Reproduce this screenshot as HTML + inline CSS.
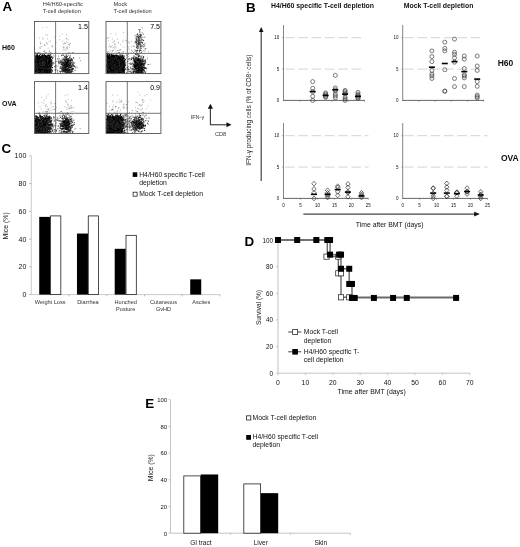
<!DOCTYPE html>
<html lang="en">
<head>
<meta charset="utf-8">
<title>Figure</title>
<style>
html,body{margin:0;padding:0;background:#fff;}
body{width:520px;height:547px;overflow:hidden;}
svg{display:block;font-family:"Liberation Sans",Arial,Helvetica,sans-serif;}
</style>
</head>
<body>
<svg width="520" height="547" viewBox="0 0 520 547">
<rect x="0" y="0" width="520" height="547" fill="#fff"/>
<text x="2.6" y="10.8" font-size="13.4" text-anchor="start" font-weight="bold" fill="#000">A</text>
<text x="42.7" y="5.7" font-size="5.7" text-anchor="start" fill="#333">H4/H60-specific</text>
<text x="42.7" y="12.9" font-size="5.7" text-anchor="start" fill="#333">T-cell depletion</text>
<text x="113.5" y="5.7" font-size="5.7" text-anchor="start" fill="#333">Mock</text>
<text x="113.5" y="12.9" font-size="5.7" text-anchor="start" fill="#333">T-cell depletion</text>
<text x="2" y="49.6" font-size="7" text-anchor="start" font-weight="bold" fill="#111">H60</text>
<text x="2" y="106" font-size="7" text-anchor="start" font-weight="bold" fill="#111">OVA</text>
<g transform="scale(0.1)" fill="none" stroke-linecap="square">
<path stroke="#000" stroke-width="11" d="M405 592h0M425 655h0M361 582h0M479 678h0M481 726h0M358 582h0M355 617h0M428 650h0M362 684h0M405 657h0M397 589h0M410 686h0M396 636h0M470 583h0M450 699h0M388 649h0M431 622h0M465 683h0M503 622h0M462 596h0M382 595h0M365 594h0M391 697h0M477 639h0M489 593h0M382 679h0M398 628h0M450 648h0M439 715h0M481 617h0M420 586h0M357 630h0M360 582h0M425 674h0M368 638h0M386 614h0M425 626h0M389 563h0M486 657h0M365 707h0M381 702h0M430 593h0M494 701h0M471 645h0M403 613h0M375 613h0M520 625h0M380 608h0M460 634h0M448 673h0M490 627h0M375 691h0M486 718h0M376 725h0M484 719h0M393 566h0M487 713h0M428 585h0M382 674h0M380 724h0M385 724h0M423 649h0M439 598h0M365 639h0M425 673h0M479 617h0M390 647h0M474 663h0M405 641h0M399 688h0M490 657h0M495 580h0M422 581h0M454 566h0M452 710h0M501 662h0M443 591h0M401 597h0M394 657h0M424 673h0M456 713h0M503 578h0M465 643h0M490 582h0M471 572h0M369 566h0M445 707h0M364 613h0M439 583h0M427 598h0M356 627h0M459 609h0M408 569h0M451 644h0M507 653h0M428 641h0M463 706h0M447 615h0M357 695h0M387 713h0M475 598h0M384 643h0M417 651h0M393 624h0M358 660h0M433 581h0M409 618h0M368 686h0M442 608h0M402 688h0M467 724h0M440 567h0M403 702h0M451 669h0M453 591h0M419 674h0M430 636h0M363 632h0M465 616h0M355 619h0M474 628h0M411 652h0M451 612h0M455 582h0M365 701h0M377 643h0M370 727h0M503 707h0M486 604h0M495 605h0M432 703h0M438 592h0M481 566h0M412 592h0M389 586h0M465 718h0M464 623h0M422 627h0M411 586h0M468 635h0M378 628h0M510 658h0M501 683h0M364 681h0M416 595h0M413 700h0M495 634h0M426 597h0M389 595h0M499 589h0M384 587h0M381 717h0M396 637h0M406 727h0M407 585h0M387 653h0M507 549h0M363 621h0M367 723h0M496 597h0M414 662h0M447 646h0M364 714h0M398 680h0M457 658h0M429 673h0M364 715h0M420 718h0M407 682h0M409 725h0M357 692h0M468 586h0M487 625h0M380 718h0M425 644h0M455 630h0M385 573h0M365 714h0M486 717h0M359 619h0M381 625h0M515 622h0M410 619h0M357 724h0M404 633h0M471 568h0M363 688h0M479 719h0M383 602h0M369 647h0M369 723h0M371 726h0M468 675h0M434 636h0M473 698h0M386 661h0M420 725h0M370 694h0M416 683h0M449 655h0M369 654h0M402 599h0M397 684h0M366 675h0M387 718h0M368 712h0M369 603h0M446 708h0M413 727h0M431 622h0M370 676h0M447 623h0M454 609h0M464 581h0M390 575h0M366 602h0M403 659h0M380 723h0M374 558h0M465 645h0M475 569h0M414 560h0M432 600h0M362 580h0M432 569h0M395 636h0M364 714h0M444 693h0M360 720h0M376 665h0M411 695h0M499 698h0M363 662h0M438 676h0M404 629h0M366 596h0M459 648h0M370 590h0M410 674h0M356 632h0M357 727h0M497 704h0M389 727h0M498 728h0M400 711h0M390 645h0M490 661h0M402 594h0M479 571h0M478 684h0M411 653h0M512 696h0M409 725h0M421 656h0M372 701h0M362 639h0M448 571h0M359 644h0M490 683h0M360 583h0M403 681h0M367 578h0M490 588h0M458 619h0M403 662h0M391 715h0M459 598h0M420 580h0M481 727h0M372 667h0M447 611h0M416 706h0M479 693h0M416 590h0M362 626h0M453 665h0M374 696h0M424 725h0M491 606h0M479 614h0M477 728h0M437 716h0M428 696h0M410 602h0M374 717h0M373 725h0M400 574h0M440 677h0M367 699h0M505 714h0M363 577h0M483 690h0M442 587h0M465 648h0M360 697h0M409 707h0M453 642h0M454 672h0M382 701h0M379 695h0M511 649h0M474 637h0M472 642h0M374 570h0M462 694h0M459 626h0M410 714h0M362 728h0M410 638h0M428 655h0M396 715h0M447 633h0M459 641h0M483 624h0M458 586h0M377 605h0M408 720h0M366 629h0M503 621h0M372 596h0M417 703h0M436 644h0M357 684h0M472 700h0M413 717h0M464 660h0M409 597h0M414 654h0M372 677h0M396 572h0M449 637h0M511 596h0M480 577h0M416 648h0M451 622h0M496 650h0M488 650h0M361 579h0M407 600h0M378 627h0M383 590h0M369 652h0M410 727h0M385 688h0M413 601h0M460 629h0M403 609h0M359 597h0M404 685h0M422 565h0M491 577h0M472 565h0M487 575h0M369 645h0M386 582h0M467 666h0M489 576h0M433 636h0M473 602h0M362 645h0M367 658h0M364 650h0M466 727h0M442 667h0M461 728h0M399 573h0M449 705h0M387 699h0M366 665h0M467 656h0M421 719h0M463 625h0M422 556h0M468 564h0M399 723h0M428 703h0M427 673h0M434 672h0M416 590h0M355 651h0M411 642h0M381 631h0M394 553h0M439 705h0M446 561h0M381 717h0M414 678h0M379 568h0M474 602h0M481 690h0M382 566h0M460 667h0M368 630h0M403 563h0M359 561h0M470 669h0M365 652h0M371 664h0M432 705h0M495 600h0M373 703h0M370 687h0M434 723h0M431 688h0M398 637h0M446 549h0M483 640h0M400 665h0M484 664h0M475 725h0M433 588h0M385 622h0M366 585h0M455 639h0M412 594h0M370 651h0M401 572h0M496 677h0M476 637h0M429 716h0M412 694h0M430 698h0M494 603h0M376 662h0M452 728h0M369 579h0M369 722h0M439 600h0M503 571h0M369 716h0M357 657h0M504 696h0M486 657h0M471 615h0M357 607h0M366 686h0M402 609h0M507 570h0M437 725h0M432 709h0M414 598h0M368 575h0M380 615h0M471 655h0M399 728h0M480 639h0M389 635h0M526 581h0M393 687h0M393 703h0M398 708h0M432 725h0M438 703h0M457 585h0M430 601h0M434 644h0M394 643h0M477 630h0M485 557h0M462 614h0M379 583h0M402 653h0M408 687h0M479 679h0M404 710h0M478 656h0M459 607h0M381 710h0M365 609h0M365 645h0M374 559h0M356 613h0M418 724h0M367 584h0M481 717h0M404 715h0M398 650h0M506 679h0M490 714h0M369 635h0M439 657h0M369 722h0M476 700h0M499 614h0M448 719h0M371 726h0M384 602h0M451 607h0M411 585h0M362 626h0M396 717h0M424 592h0M440 673h0M414 611h0M413 578h0M405 653h0M413 650h0M467 718h0M424 645h0M466 717h0M363 690h0M454 636h0M459 626h0M460 561h0M500 666h0M437 633h0M478 618h0M397 620h0M394 616h0M475 629h0M371 670h0M458 635h0M492 574h0M413 572h0M406 698h0M443 653h0M443 674h0M416 649h0M363 670h0M495 637h0M453 655h0M476 716h0M444 699h0M497 635h0M366 665h0M381 684h0M417 572h0M411 673h0M365 687h0M360 611h0M405 655h0M414 700h0M367 659h0M456 561h0M360 677h0M371 725h0M428 642h0M366 719h0M407 566h0M496 710h0M466 721h0M493 700h0M370 671h0M468 634h0M384 659h0M355 631h0M369 597h0M373 580h0M444 692h0M357 609h0M425 574h0M398 717h0M391 600h0M428 623h0M475 601h0M445 610h0M415 694h0M396 605h0M412 714h0M392 656h0M391 576h0M394 694h0M367 713h0M486 607h0M361 609h0M444 701h0M394 579h0M485 553h0M355 624h0M414 677h0M381 674h0M368 632h0M356 596h0M362 560h0M399 615h0M487 679h0M406 591h0M371 720h0M451 650h0M433 644h0M430 693h0M363 589h0M485 596h0M359 609h0M361 588h0M370 724h0M392 613h0M421 678h0M472 683h0M419 562h0M385 582h0M395 659h0M356 639h0M373 717h0M356 628h0M414 661h0M361 664h0M485 600h0M387 712h0M398 725h0M499 725h0M457 713h0M384 639h0M474 665h0M450 703h0M477 592h0M387 680h0M355 591h0M420 583h0M488 621h0M381 625h0M381 713h0M490 649h0M428 586h0M364 728h0M509 666h0M487 676h0M364 634h0M442 727h0M356 658h0M361 655h0M416 580h0M385 575h0M479 661h0M369 605h0M445 675h0M367 643h0M426 565h0M498 701h0M420 688h0M479 591h0M380 668h0M372 656h0M465 644h0M492 687h0M399 688h0M365 728h0M451 711h0M379 600h0M356 672h0M365 610h0M426 648h0M378 672h0M472 623h0M355 702h0M381 616h0M431 652h0M477 618h0M391 563h0M363 674h0M404 665h0M410 728h0M363 603h0M421 671h0M496 661h0M479 658h0M437 708h0M497 610h0M462 659h0M388 571h0M381 679h0M402 633h0M390 644h0M405 590h0M363 699h0M476 688h0M364 723h0M443 587h0M428 603h0M358 694h0M412 728h0M452 719h0M366 601h0M372 728h0M452 617h0M454 671h0M409 577h0M435 679h0M383 724h0M437 670h0M455 596h0M368 699h0M395 656h0M438 685h0M380 678h0M398 610h0M360 583h0M360 700h0M501 600h0M363 654h0M384 586h0M370 566h0M362 724h0M432 662h0M400 687h0M355 703h0M410 719h0M380 649h0M387 694h0M400 662h0M385 592h0M466 613h0M426 677h0M423 721h0M386 691h0M489 724h0M374 588h0M498 598h0M369 618h0M482 708h0M355 704h0M425 596h0M359 715h0M357 639h0M370 685h0M431 657h0M483 715h0M457 618h0M369 639h0M430 684h0M432 679h0M511 620h0M366 647h0M399 728h0M447 665h0M404 593h0M481 548h0M445 674h0M394 693h0M461 725h0M442 675h0M390 678h0M385 592h0M437 672h0M443 601h0M380 648h0M430 586h0M456 711h0M486 628h0M477 586h0M393 709h0M421 634h0M495 634h0M469 674h0M393 627h0M396 601h0M440 690h0M384 716h0M361 582h0M459 565h0M401 630h0M395 608h0M381 585h0M493 668h0M414 639h0M401 695h0M367 637h0M384 644h0M399 678h0M457 683h0M433 565h0M399 593h0M359 559h0M447 561h0M438 716h0M487 662h0M356 609h0M393 684h0M421 619h0M487 587h0M390 634h0M401 629h0M478 686h0M363 649h0M392 636h0M460 628h0M467 583h0M410 710h0M363 718h0M451 681h0M396 612h0M489 587h0M478 674h0M400 581h0M359 705h0M372 656h0M378 703h0M379 600h0M363 615h0M365 643h0M366 717h0M513 609h0M399 710h0M363 670h0M365 725h0M480 598h0M449 724h0M457 645h0M383 692h0M405 588h0M434 628h0M356 675h0M428 688h0M384 647h0M485 581h0M364 646h0M438 602h0M417 598h0M409 612h0M455 567h0M470 664h0M454 611h0M398 656h0M394 661h0M364 675h0M355 728h0M433 603h0M444 573h0M480 587h0M381 573h0M403 609h0M437 694h0M399 721h0M456 666h0M477 683h0M415 707h0M475 715h0M471 647h0M422 695h0M406 723h0M384 604h0M476 651h0M355 683h0M439 714h0M472 626h0M363 604h0M475 648h0M364 651h0M428 604h0M409 601h0M356 659h0M450 676h0M355 605h0M488 724h0M449 643h0M457 596h0M481 578h0M385 699h0M381 664h0M467 723h0M481 668h0M425 675h0M433 691h0M474 728h0M468 628h0M476 681h0M368 726h0M433 630h0M455 688h0M378 719h0M465 719h0M451 584h0M444 605h0M366 590h0M370 620h0M434 591h0M400 617h0M420 638h0M414 598h0M464 681h0M463 701h0M401 687h0M370 676h0M383 690h0M359 612h0M490 586h0M430 618h0M478 682h0M483 684h0M425 616h0M410 586h0M466 677h0M492 584h0M386 679h0M422 621h0M481 569h0M449 704h0M483 654h0M494 699h0M439 673h0M472 612h0M360 673h0M474 631h0M355 607h0M394 564h0M480 678h0M390 616h0M474 725h0M449 574h0M419 675h0M447 646h0M440 716h0M477 608h0M428 692h0M444 601h0M406 699h0M418 688h0M374 700h0M495 693h0M456 596h0M360 658h0M381 679h0M497 598h0M418 630h0M366 702h0M444 699h0M422 578h0M424 608h0M364 716h0M479 638h0M474 562h0M368 561h0M477 559h0M478 619h0M452 665h0M378 656h0M356 596h0M401 677h0M431 582h0M403 698h0M371 631h0M381 567h0M391 631h0M475 677h0M378 720h0M359 727h0M366 650h0M487 575h0M488 706h0M376 646h0M367 697h0M362 693h0M423 566h0M355 630h0M483 707h0M429 612h0M437 679h0M416 721h0M486 624h0M473 717h0M363 686h0M414 673h0M462 691h0M496 554h0M458 705h0M385 681h0M381 631h0M368 689h0M483 661h0M388 581h0M401 603h0M468 676h0M445 632h0M432 726h0M419 713h0M424 721h0M361 728h0M378 560h0M406 676h0M462 579h0M454 719h0M428 670h0M396 569h0M405 654h0M492 688h0M381 641h0M434 588h0M477 589h0M477 726h0M449 599h0M495 680h0M450 588h0M484 674h0M382 712h0M376 686h0M369 619h0M433 707h0M374 617h0M377 639h0M421 578h0M452 563h0M423 696h0M370 604h0M375 579h0M373 665h0M360 681h0M503 578h0M482 593h0M480 615h0M469 582h0M412 686h0M426 671h0M390 654h0M358 661h0M409 579h0M488 705h0M408 599h0M442 599h0M366 600h0M447 677h0M355 644h0M438 719h0M383 722h0M390 632h0M397 627h0M370 669h0M370 691h0M367 726h0M355 714h0M389 656h0M422 701h0M490 663h0M358 565h0M382 722h0M440 659h0M431 684h0M444 705h0M398 674h0M370 597h0M384 575h0M450 670h0M483 682h0M450 723h0M468 725h0M433 599h0M448 710h0M366 619h0M359 646h0M360 649h0M447 650h0M369 622h0M473 659h0M462 694h0M391 690h0M488 588h0M356 607h0M358 582h0M378 534h0M392 578h0M387 635h0M419 583h0M384 693h0M391 605h0M432 686h0M363 646h0M459 723h0M367 682h0M468 684h0M438 671h0M356 603h0M392 566h0M459 684h0M433 583h0M388 584h0M383 665h0M496 609h0M472 586h0M368 724h0M419 657h0M413 670h0M469 634h0M420 621h0M376 699h0M377 719h0M355 617h0M502 641h0M440 698h0M460 634h0M363 613h0M468 581h0M357 589h0M454 591h0M389 608h0M480 629h0M485 639h0M455 592h0M511 637h0M383 726h0M474 699h0M403 717h0M477 695h0M463 603h0M480 619h0M396 593h0M391 667h0M483 713h0M489 693h0M471 648h0M485 634h0M459 715h0M385 673h0M469 666h0M404 717h0M482 618h0M359 704h0M384 694h0M364 705h0M487 721h0M483 704h0M446 717h0M413 717h0M451 638h0M492 716h0M361 681h0M360 697h0M379 581h0M495 629h0M462 613h0M395 651h0M419 723h0M480 588h0M467 707h0M408 565h0M444 713h0M438 583h0M447 656h0M383 665h0M419 624h0M456 600h0M432 725h0M432 667h0M452 728h0M487 579h0M466 638h0M455 696h0M385 642h0M438 609h0M362 661h0M361 721h0M484 668h0M370 689h0M486 644h0M395 580h0M478 710h0M448 722h0M407 693h0M465 625h0M481 665h0M412 629h0M392 719h0M360 662h0M475 719h0M413 679h0M466 643h0M414 604h0M400 677h0M357 707h0M389 694h0M481 644h0M511 654h0M375 607h0M373 653h0M500 587h0M357 568h0M359 719h0M414 630h0M388 718h0M375 631h0M473 687h0M361 671h0M473 626h0M508 640h0M372 694h0M355 633h0M453 672h0M432 715h0M436 622h0M491 685h0M495 685h0M380 707h0M416 606h0M489 688h0M447 629h0M507 593h0M406 656h0M457 695h0M364 602h0M370 714h0M392 685h0M424 718h0M433 603h0M484 669h0M471 642h0M385 644h0M374 550h0M398 693h0M405 585h0M477 656h0M411 670h0M467 629h0M461 676h0M420 636h0M379 670h0M462 719h0M500 679h0M425 593h0M408 628h0M432 577h0M462 726h0M447 656h0M402 588h0M378 716h0M432 696h0M441 613h0M429 637h0M497 660h0M371 708h0M438 710h0M450 573h0M421 660h0M367 679h0M356 715h0M487 678h0M407 682h0M372 554h0M460 634h0M484 724h0M438 683h0M414 629h0M371 671h0M477 675h0M419 575h0M358 699h0M473 652h0M395 621h0M456 640h0M482 572h0M355 680h0M405 725h0M365 718h0M413 589h0M472 666h0M366 582h0M449 679h0M409 715h0M356 611h0M462 610h0M451 695h0M414 662h0M503 648h0M427 667h0M463 721h0M361 683h0M424 557h0M458 614h0M365 615h0M400 723h0M418 689h0M474 709h0M465 688h0M356 718h0M489 723h0M452 658h0M485 651h0M414 662h0M438 661h0M408 605h0M424 706h0M457 722h0M417 641h0M461 678h0M367 621h0M401 581h0M385 664h0M440 566h0M431 661h0M470 600h0M414 705h0M414 655h0M474 699h0M404 726h0M364 724h0M487 590h0M461 724h0M400 618h0M360 574h0M454 688h0M392 672h0M398 725h0M426 566h0M385 639h0M366 646h0M406 725h0M478 645h0M357 590h0M430 579h0M406 715h0M464 698h0M360 660h0M510 609h0M361 631h0M419 671h0M504 662h0M408 709h0M392 676h0M415 643h0M355 609h0M402 627h0M486 602h0M441 623h0M384 694h0M403 600h0M486 634h0M421 682h0M452 606h0M447 631h0M440 681h0M359 675h0M444 588h0M421 680h0M371 716h0M459 581h0M509 607h0M486 674h0M357 699h0M428 595h0M483 625h0M370 593h0M367 715h0M493 700h0M408 680h0M403 674h0M444 679h0M420 586h0M489 727h0M379 592h0M390 649h0M443 696h0M476 631h0M452 644h0M381 645h0M473 644h0M479 679h0M408 613h0M434 609h0M458 667h0M366 703h0M457 620h0M457 580h0M402 602h0M474 601h0M440 670h0M390 567h0M490 699h0M425 697h0M391 654h0M436 586h0M442 653h0M477 727h0M356 613h0M421 654h0M407 566h0M390 584h0M461 562h0M360 712h0M420 665h0M394 715h0M424 728h0M400 631h0M435 728h0M355 719h0M450 576h0M387 581h0M435 554h0M406 637h0M360 692h0M371 579h0M484 581h0M452 638h0M417 658h0M403 637h0M391 673h0M458 625h0M375 718h0M358 620h0M356 724h0M485 652h0M363 626h0M480 594h0M391 627h0M363 591h0M384 601h0M440 653h0M385 596h0M484 651h0M441 572h0M436 602h0M427 625h0M433 684h0M363 591h0M360 687h0M416 727h0M512 607h0M465 719h0M466 711h0M371 615h0M415 673h0M355 685h0M386 635h0M397 658h0M394 591h0M512 722h0M476 707h0M503 589h0M457 630h0M482 660h0M380 614h0M403 692h0M386 701h0M391 579h0M411 714h0M434 604h0M390 687h0M426 614h0M470 727h0M495 706h0M432 585h0M427 610h0M436 663h0M457 652h0M406 577h0M389 649h0M467 633h0M417 573h0M444 673h0M488 654h0M435 629h0M463 726h0M384 574h0M394 651h0M480 590h0M380 676h0M416 725h0M402 575h0M420 714h0M461 559h0M403 593h0M419 644h0M358 646h0M366 720h0M365 600h0M499 585h0M427 702h0M433 720h0M452 555h0M398 724h0M425 659h0M456 619h0M501 578h0M448 622h0M376 654h0M370 683h0M493 645h0M401 653h0M467 610h0M428 706h0M380 568h0M400 622h0M448 699h0M437 723h0M399 596h0M360 565h0M466 691h0M487 724h0M442 641h0M388 603h0M485 678h0M464 710h0M400 703h0M420 577h0M404 573h0M477 589h0M371 614h0M425 609h0M463 635h0M462 624h0M388 612h0M400 634h0M429 628h0M439 602h0M361 592h0M487 710h0M479 678h0M475 609h0M422 658h0M509 631h0M512 695h0M449 588h0M481 696h0M378 622h0M381 562h0M499 647h0M457 655h0M405 657h0M403 647h0M393 720h0M421 623h0M390 672h0M384 626h0M473 693h0M399 569h0M368 614h0M471 664h0M447 652h0M361 596h0M384 711h0M413 692h0M431 651h0M392 653h0M453 611h0M489 715h0M464 595h0M448 643h0M443 724h0M405 715h0M359 693h0M380 679h0M441 607h0M427 679h0M455 680h0M453 682h0M461 633h0M357 680h0M473 604h0M360 626h0M491 690h0M444 724h0M504 621h0M367 580h0M419 614h0M386 593h0M373 657h0M372 685h0M417 651h0M416 722h0M462 728h0M455 722h0M382 598h0M412 613h0M464 588h0M361 700h0M358 570h0M436 628h0M417 727h0M488 727h0M480 648h0M366 698h0M450 652h0M488 638h0M448 620h0M443 581h0M473 720h0M497 684h0M456 722h0M395 600h0M358 568h0M386 600h0M382 654h0M361 581h0M359 728h0M475 680h0M415 653h0M486 655h0M387 689h0M444 644h0M499 623h0M402 580h0M463 687h0M459 680h0M362 692h0M359 721h0M503 589h0M457 681h0M400 666h0M435 687h0M442 646h0M401 628h0M389 604h0M363 630h0M402 717h0M488 633h0M372 592h0M378 625h0M407 716h0M361 668h0M386 584h0M464 706h0M485 662h0M410 717h0M365 674h0M375 604h0M443 724h0M448 679h0M442 589h0M437 680h0M475 664h0M389 603h0M419 594h0M368 643h0M452 641h0M475 715h0M398 680h0M403 723h0M397 642h0M382 691h0M448 639h0M355 714h0M426 623h0M376 717h0M466 573h0M357 663h0M462 600h0M497 562h0M496 608h0M431 636h0M367 719h0M449 589h0M514 629h0M357 618h0M435 584h0M486 611h0M410 692h0M480 708h0M366 674h0M359 705h0M357 615h0M444 599h0M416 668h0M413 592h0M418 713h0M443 658h0M363 720h0M382 590h0M460 695h0M407 700h0M399 713h0M421 610h0M424 601h0M433 709h0M425 724h0M467 603h0M516 661h0M419 657h0M364 586h0M435 667h0M491 606h0M474 709h0M360 688h0M414 718h0M391 688h0M415 630h0M437 715h0M361 637h0M483 696h0M446 703h0M355 666h0M394 591h0M494 628h0M384 725h0M490 556h0M361 642h0M513 577h0M389 576h0M421 678h0M432 701h0M443 616h0M367 600h0M495 631h0M370 727h0M356 676h0M462 644h0M406 694h0M487 696h0M503 627h0M470 602h0M358 658h0M376 714h0M480 590h0M418 625h0M437 695h0M364 682h0M402 717h0M425 693h0M425 718h0M456 650h0M484 592h0M422 720h0M418 677h0M417 687h0M365 715h0M392 668h0M414 607h0M444 577h0M459 645h0M493 656h0M355 631h0M471 677h0M420 690h0M445 674h0M449 685h0M433 648h0M461 637h0M399 708h0M367 590h0M474 720h0M357 605h0M373 676h0M489 577h0M364 656h0M384 719h0M390 600h0M475 620h0M478 616h0M442 693h0M393 638h0M522 678h0M456 710h0M442 603h0M485 623h0M429 716h0M367 692h0M469 561h0M372 634h0M385 616h0M358 696h0M438 680h0M494 692h0M375 728h0M441 680h0M433 620h0M408 698h0M404 647h0M404 580h0M396 690h0M452 683h0M467 656h0M405 720h0M450 607h0M433 661h0M433 666h0M438 554h0M499 578h0M376 563h0M431 631h0M386 607h0M386 626h0M358 633h0M358 669h0M477 647h0M440 678h0M438 618h0M378 715h0M504 604h0M406 728h0M453 629h0M430 623h0M363 581h0M377 642h0M477 648h0M372 585h0M413 569h0M367 562h0M366 572h0M370 615h0M482 665h0M496 656h0M436 708h0M466 655h0M383 678h0M404 697h0M520 610h0M420 642h0M414 658h0M404 586h0M361 654h0M422 572h0M441 623h0M394 687h0M360 634h0M417 661h0M484 694h0M426 663h0M453 637h0M439 654h0M394 606h0M426 600h0M479 705h0M457 711h0M406 705h0M419 657h0M365 684h0M487 656h0M359 716h0M405 713h0M460 601h0M392 676h0M410 689h0M420 715h0M508 647h0M384 563h0M448 637h0M357 703h0M390 669h0M360 711h0M386 567h0M369 723h0M470 660h0M367 615h0M456 578h0M365 707h0M494 710h0M434 585h0M390 684h0M480 725h0M390 696h0M469 560h0M423 640h0M366 596h0M361 680h0M416 602h0M440 630h0M452 595h0M429 699h0M367 667h0M411 602h0M416 694h0M417 715h0M493 574h0M466 685h0M380 599h0M406 647h0M363 579h0M420 648h0M473 616h0M430 560h0M405 668h0M437 571h0M362 661h0M355 675h0M377 585h0M476 664h0M482 711h0M413 704h0M360 719h0M493 606h0M404 584h0M431 676h0M367 714h0M438 604h0M472 643h0M386 628h0M371 613h0M359 578h0M493 638h0M355 700h0M444 669h0M433 604h0M402 640h0M443 660h0M368 719h0M376 695h0M430 599h0M455 703h0M375 584h0M475 645h0M492 687h0M419 603h0M434 714h0M382 626h0M360 695h0M391 708h0M504 688h0M391 663h0M488 560h0M455 564h0M366 639h0M502 592h0M431 688h0M505 708h0M435 696h0M439 616h0M409 598h0M503 623h0M368 628h0M461 637h0M426 652h0M423 657h0M465 727h0M369 674h0M367 707h0"/>
<path stroke="#000" stroke-width="9" d="M367 683h0M365 698h0M394 726h0M467 711h0M368 729h0M397 613h0M462 639h0M376 680h0M376 651h0M393 610h0M408 616h0M368 679h0M386 612h0M443 674h0M441 688h0M453 723h0M454 638h0M421 695h0M471 726h0M383 640h0M451 583h0M367 693h0M398 669h0M361 717h0M501 710h0M455 620h0M374 708h0M419 698h0M478 721h0M373 652h0M513 566h0M426 650h0M523 712h0M363 609h0M367 683h0M462 715h0M416 688h0M469 608h0M453 628h0M381 639h0M438 627h0M378 604h0M410 680h0M370 666h0M430 694h0M386 725h0M411 650h0M495 703h0M393 661h0M361 682h0M366 640h0M404 659h0M474 611h0M394 697h0M469 713h0M366 712h0M385 648h0M508 679h0M457 721h0M431 661h0M461 729h0M367 550h0M411 659h0M482 643h0M430 647h0M452 606h0M432 715h0M485 693h0M437 726h0M392 589h0M388 529h0M397 722h0M501 597h0M426 586h0M411 710h0M468 645h0M456 585h0M473 576h0M367 676h0M443 583h0M354 632h0M481 665h0M507 721h0M517 720h0M425 689h0M422 577h0M357 700h0M364 616h0M361 645h0M356 704h0M375 542h0M425 591h0M405 680h0M477 698h0M500 585h0M457 713h0M357 674h0M386 717h0M411 601h0M384 722h0M386 679h0M361 669h0M386 605h0M560 670h0M404 727h0M456 650h0M454 675h0M481 719h0M462 671h0M386 658h0M379 721h0M428 727h0M355 650h0M375 646h0M417 584h0M483 620h0M434 692h0M391 564h0M473 682h0M407 720h0M469 609h0M417 566h0M407 722h0M367 671h0M472 726h0M379 710h0M354 710h0M424 674h0M422 627h0M420 653h0M457 696h0M474 691h0M369 720h0M523 637h0M478 712h0M358 633h0M443 702h0M427 696h0M383 628h0M428 589h0M431 639h0M458 606h0M393 630h0M401 607h0M407 588h0M450 696h0M420 650h0M373 609h0M409 612h0M358 669h0M420 639h0M377 657h0M384 637h0M431 698h0M461 628h0M485 599h0M412 729h0M548 667h0M402 640h0M356 652h0M398 620h0M485 619h0M511 705h0M455 629h0M394 554h0M435 646h0M442 624h0M447 581h0M370 685h0M559 655h0M367 620h0M368 698h0M382 658h0M413 713h0M393 581h0M367 655h0M479 663h0M457 653h0M398 664h0M417 729h0M450 566h0M449 629h0M468 638h0M364 701h0M409 636h0M463 661h0M501 723h0M420 716h0M451 723h0M398 656h0M468 576h0M360 619h0M454 695h0M416 589h0M447 691h0M411 661h0M478 677h0M497 727h0M420 562h0M393 723h0M496 656h0M359 710h0M399 714h0M388 712h0M407 628h0M508 655h0M356 656h0M369 604h0M411 642h0M377 666h0M377 625h0M354 679h0M359 599h0M415 695h0M501 711h0M457 697h0M511 598h0M591 637h0M413 679h0M420 725h0M462 664h0M357 674h0M455 694h0M444 675h0M499 720h0M432 649h0M456 560h0M393 622h0M430 639h0M551 699h0M442 714h0M443 667h0M401 635h0M379 589h0M427 722h0M446 717h0M392 589h0M526 703h0M432 595h0M366 626h0M422 592h0M409 725h0M421 665h0M368 645h0M437 723h0M357 624h0M356 676h0M377 555h0M367 651h0M451 689h0M400 707h0M374 663h0M510 659h0M361 722h0M449 645h0M361 559h0M491 591h0M407 688h0M440 607h0M384 710h0M404 545h0M501 613h0M444 707h0M457 662h0M402 689h0M391 664h0M388 614h0M422 723h0M524 676h0M423 547h0M408 701h0M410 631h0M498 643h0M403 655h0M408 716h0M451 656h0M401 648h0M510 644h0M455 575h0M437 697h0M488 677h0M451 677h0M477 714h0M387 726h0M454 702h0M429 636h0M437 593h0M435 612h0M444 667h0M409 596h0M423 624h0M413 697h0M471 591h0M470 729h0M379 669h0M428 573h0M405 627h0M496 681h0M417 653h0M482 560h0"/>
<path stroke="#333" stroke-width="6" d="M383 706h0M365 539h0M362 640h0M504 665h0M384 678h0M397 676h0M392 713h0M355 681h0M368 640h0M402 674h0M510 630h0M398 605h0M489 701h0M365 721h0M433 572h0M431 618h0M509 648h0M398 628h0M509 701h0M417 562h0M428 719h0M440 565h0M452 636h0M432 640h0M378 598h0M486 678h0M371 545h0M493 683h0M438 621h0M541 561h0M407 684h0M456 683h0M371 696h0M361 597h0M429 649h0M419 656h0M504 731h0M468 683h0M358 638h0M459 656h0M403 595h0M487 687h0M353 727h0M498 684h0M531 624h0M487 698h0M366 719h0M427 714h0M372 640h0M406 640h0M360 721h0M432 540h0M425 591h0M420 611h0M422 643h0M443 685h0M371 729h0M552 666h0M553 730h0M509 624h0M507 530h0M353 688h0M447 565h0M436 616h0M493 687h0M358 593h0M463 720h0M475 641h0M495 512h0M400 593h0M371 683h0M447 667h0M423 686h0M476 616h0M485 596h0M532 574h0M414 586h0M433 727h0M387 730h0M394 609h0M364 686h0M619 629h0M371 720h0M393 635h0M447 583h0M440 515h0M364 585h0M400 640h0M409 655h0M501 723h0M472 698h0M506 680h0M436 692h0M352 546h0M413 573h0M367 655h0M486 654h0M376 642h0M485 648h0M492 560h0M449 583h0M354 650h0M432 660h0M364 654h0M563 612h0M372 689h0M509 712h0M394 646h0M443 638h0M454 714h0M463 649h0M419 724h0M441 645h0M434 702h0M446 627h0M372 539h0M537 633h0M495 672h0M436 680h0M434 719h0M464 686h0M555 705h0M432 582h0M591 610h0M442 694h0M460 729h0M370 609h0M441 577h0M395 712h0M496 671h0M494 726h0M365 698h0M506 630h0M368 558h0M415 674h0M449 640h0M554 585h0M353 526h0M352 588h0M395 626h0M517 697h0M400 659h0M386 633h0M421 719h0M429 539h0M369 675h0M379 673h0M452 527h0M402 727h0M521 655h0M439 597h0M526 647h0M386 714h0M514 722h0M421 708h0M358 637h0M424 670h0M365 580h0M410 593h0M437 641h0M438 658h0M361 626h0M440 723h0M446 650h0M551 621h0M509 687h0M355 646h0M476 578h0M515 617h0M456 635h0M453 603h0M523 599h0M528 629h0M373 696h0M434 630h0M355 631h0M419 596h0M353 589h0M363 711h0M477 617h0M362 639h0M455 610h0M417 708h0M410 622h0M500 640h0M422 589h0M488 660h0M406 639h0M509 640h0M416 654h0M431 704h0M408 620h0M383 654h0M362 614h0M430 566h0M506 694h0M371 660h0M360 726h0M426 645h0M460 592h0M362 670h0M400 681h0M400 571h0M475 666h0M474 630h0M409 726h0M372 728h0M436 686h0M384 667h0M373 539h0M442 656h0M469 683h0M473 698h0M367 723h0M592 616h0M354 691h0M486 711h0M523 567h0M453 678h0M506 596h0M432 628h0M421 641h0M421 544h0M428 654h0M407 436h0M388 611h0M378 712h0M402 682h0M493 649h0M382 668h0M403 481h0M360 673h0M371 701h0M433 556h0M493 531h0M501 629h0M425 655h0M375 641h0M619 650h0M381 731h0M363 731h0M388 571h0M404 652h0M480 561h0M354 661h0M453 584h0M362 661h0M421 553h0M377 723h0M403 598h0"/>
<path stroke="#000" stroke-width="8" d="M724 593h0M674 613h0M651 693h0M663 648h0M605 627h0M725 691h0M578 588h0M661 586h0M670 609h0M711 713h0M702 606h0M676 706h0M642 651h0M637 658h0M709 647h0M732 641h0M691 723h0M640 695h0M625 627h0M655 718h0M634 711h0M627 658h0M693 654h0M731 658h0M628 645h0M699 574h0M604 722h0M661 573h0M649 690h0M651 685h0M621 700h0M750 704h0M678 600h0M654 626h0M674 566h0M644 690h0M673 688h0M694 604h0M630 676h0M670 658h0M645 700h0M683 705h0M659 686h0M667 613h0M667 582h0M664 663h0M689 608h0M630 623h0M609 626h0M745 661h0M647 625h0M720 604h0M666 652h0M648 623h0M620 618h0M707 718h0M661 686h0M682 660h0M665 709h0M686 645h0M662 696h0M652 623h0M661 633h0M706 671h0M666 632h0M710 674h0M730 695h0M663 631h0M661 663h0M692 676h0M715 588h0M670 592h0M639 628h0M650 612h0M625 705h0M660 698h0M637 553h0M652 694h0M653 672h0M638 716h0M682 701h0M661 711h0M671 633h0M650 657h0M643 602h0M673 686h0M661 692h0M715 599h0M676 612h0M650 663h0M600 682h0M693 679h0M688 724h0M660 656h0M656 606h0M684 588h0M668 621h0M669 714h0M734 686h0M663 605h0M662 669h0M622 630h0M679 669h0M656 609h0M677 611h0M728 645h0M653 704h0M642 630h0M688 592h0M678 624h0M633 653h0M664 651h0M681 611h0M700 728h0M624 630h0M666 594h0M677 647h0M660 678h0M656 632h0M684 659h0M686 704h0M638 669h0M704 659h0M669 674h0M685 664h0M655 671h0M652 661h0M663 566h0M664 670h0M681 651h0M640 595h0M608 665h0M697 711h0M721 603h0M687 617h0M613 649h0M653 678h0M688 661h0M711 724h0M622 716h0M656 663h0M653 682h0M698 640h0M692 649h0M728 683h0M715 690h0M649 635h0M684 615h0M706 649h0M732 620h0M637 702h0M663 591h0M713 665h0M670 626h0M678 664h0M656 649h0M686 618h0M716 653h0M652 667h0M634 682h0M708 584h0M666 664h0M646 597h0M638 592h0M684 598h0M676 635h0M710 633h0M684 670h0M653 626h0M691 641h0M635 660h0M692 641h0M705 611h0M605 610h0M705 606h0M661 651h0M677 718h0M700 697h0M653 691h0M694 579h0M669 607h0M587 626h0M704 628h0M724 700h0M683 661h0M659 631h0M670 588h0M701 710h0M624 551h0M679 608h0M700 562h0M665 638h0M638 704h0M657 675h0M654 662h0M656 658h0M666 625h0M682 647h0M641 609h0M682 714h0M631 636h0M682 701h0M690 603h0M670 695h0M676 645h0M635 662h0M667 656h0M713 707h0M646 665h0M660 659h0M717 695h0M670 626h0M664 671h0M654 704h0M670 603h0M729 527h0M661 650h0M698 704h0M711 724h0M678 660h0M699 654h0M632 635h0M688 682h0M637 708h0M678 589h0M683 699h0M685 641h0M646 704h0M676 655h0M657 609h0M614 640h0M701 689h0M649 722h0M662 611h0M697 716h0M658 601h0M667 548h0M671 722h0M677 623h0M690 633h0M706 639h0M728 639h0M675 614h0M632 670h0M679 612h0M685 637h0M653 652h0M680 687h0M705 672h0M648 625h0M680 602h0M664 638h0M666 663h0M699 727h0M695 700h0M638 701h0M707 595h0M743 630h0M600 714h0M664 694h0M614 642h0M719 709h0M650 603h0M645 679h0M631 694h0M626 679h0M678 642h0M738 667h0M688 722h0M670 662h0M634 681h0M673 657h0M655 715h0M668 700h0M630 690h0M663 695h0M648 654h0M626 686h0M659 655h0M647 701h0M672 698h0M643 640h0M693 728h0M680 644h0M635 637h0M635 688h0M688 629h0M687 666h0M697 614h0M670 611h0M649 715h0M611 615h0M683 689h0M646 566h0M619 671h0M701 695h0M648 714h0M664 682h0M663 725h0M654 561h0M660 663h0M677 623h0M662 605h0M662 659h0M676 727h0M611 678h0M682 604h0M671 655h0M640 687h0M724 685h0M692 702h0M665 698h0M646 663h0M689 712h0M661 642h0M683 651h0M673 690h0M647 693h0M680 643h0M633 627h0M668 696h0M612 686h0M675 605h0M694 672h0M682 612h0M637 695h0M710 671h0M663 635h0M619 698h0M666 709h0M648 701h0M648 681h0M709 624h0M695 655h0M642 664h0M688 624h0M661 630h0M647 646h0M693 633h0M705 638h0M649 702h0M709 627h0M686 604h0M657 639h0M689 600h0M654 625h0M672 601h0M631 714h0M645 579h0M660 614h0M730 629h0M654 614h0M660 655h0M711 602h0M642 627h0M671 646h0M651 675h0M648 629h0M621 596h0M657 667h0M724 662h0M638 664h0M682 659h0M731 655h0M693 666h0M632 665h0M676 717h0M615 557h0M689 675h0M688 677h0M671 666h0M677 622h0M667 574h0M671 646h0M621 611h0M642 611h0M621 692h0M643 646h0M636 656h0M686 716h0M690 600h0M698 658h0M671 632h0M625 653h0M644 647h0M714 662h0M689 707h0M623 644h0M729 715h0M682 635h0M664 613h0M655 590h0M610 713h0M639 674h0M665 630h0M690 631h0M681 639h0M697 696h0M671 702h0M683 722h0M665 588h0M675 665h0M659 646h0M661 601h0M718 622h0M639 587h0M645 653h0M711 681h0M648 601h0M637 651h0M694 634h0M714 715h0M736 577h0M653 665h0M635 657h0M630 705h0M669 726h0M657 725h0M665 620h0M642 682h0"/>
<path stroke="#444" stroke-width="6" d="M662 712h0M686 634h0M713 660h0M656 575h0M804 607h0M644 607h0M645 663h0M594 712h0M647 685h0M557 619h0M645 627h0M627 668h0M680 592h0M564 693h0M644 713h0M702 644h0M590 629h0M624 723h0M577 704h0M585 616h0M591 609h0M638 672h0M631 690h0M745 659h0M603 639h0M655 629h0M716 718h0M758 681h0M530 642h0M692 602h0M630 703h0M667 584h0M631 469h0M660 578h0M657 580h0M614 620h0M796 580h0M602 618h0M711 697h0M694 631h0M666 605h0M651 602h0M589 591h0M754 673h0M623 643h0M638 721h0M658 612h0M693 669h0M626 604h0M667 554h0M615 709h0M702 715h0M638 615h0M646 622h0M722 637h0M726 608h0M678 719h0M605 714h0M665 560h0M686 713h0M555 705h0M706 648h0M674 692h0M632 652h0M666 731h0M621 610h0M650 605h0M626 656h0M759 662h0M632 687h0M704 627h0M633 642h0M573 714h0M702 551h0M691 628h0M685 660h0M623 589h0M606 719h0M673 731h0M636 666h0M665 612h0M686 553h0M609 675h0M668 682h0M644 596h0M616 628h0M657 686h0M664 586h0M718 728h0M664 685h0M579 612h0M772 676h0M632 542h0M613 680h0M692 676h0M688 614h0M737 584h0M684 634h0M576 703h0M646 692h0M721 660h0M627 637h0M656 728h0M683 531h0M637 665h0M622 628h0M722 708h0M623 633h0M661 713h0M620 714h0M670 716h0M623 625h0M611 604h0M684 658h0M636 667h0M596 627h0M586 562h0M593 585h0M736 731h0M720 616h0M690 583h0M633 664h0M582 662h0M689 528h0M540 634h0M653 658h0M604 683h0M665 607h0M739 665h0M695 720h0M700 705h0M665 608h0M676 644h0M700 715h0M630 577h0M690 631h0M720 671h0M630 698h0M578 726h0M643 720h0"/>
<path stroke="#777" stroke-width="5" d="M422 622h0M448 518h0M483 566h0M430 379h0M510 523h0M410 536h0M448 447h0M556 492h0M467 425h0M461 533h0M476 390h0M475 441h0M467 435h0M427 276h0M361 610h0M490 414h0M468 273h0M464 528h0M460 346h0M506 408h0M416 466h0M431 611h0M441 620h0M475 352h0M449 454h0M533 551h0M599 397h0M423 635h0M397 478h0M543 370h0M429 391h0M480 482h0M447 502h0M403 420h0M476 610h0M447 455h0M526 456h0M525 469h0M517 464h0M395 382h0M474 599h0M558 425h0M596 362h0M399 524h0M360 522h0M679 494h0M640 477h0M693 446h0M695 452h0M678 428h0M636 439h0M682 397h0M622 342h0M702 434h0M651 536h0M665 345h0M659 389h0M665 386h0M671 482h0M656 436h0M666 508h0M652 502h0M700 436h0M646 428h0M626 412h0M640 438h0M661 486h0M672 479h0M668 470h0M642 496h0M702 528h0M637 479h0M630 503h0M665 418h0M651 433h0M669 383h0M671 468h0M683 447h0M669 612h0M694 473h0"/>
</g>
<rect x="34.5" y="21.5" width="54.3" height="52.099999999999994" fill="none" stroke="#555" stroke-width="0.9"/>
<line x1="55.6" y1="21.5" x2="55.6" y2="73.6" stroke="#555" stroke-width="0.8"/>
<line x1="34.5" y1="53.4" x2="88.8" y2="53.4" stroke="#555" stroke-width="0.8"/>
<text x="87.89999999999999" y="29.4" font-size="7.1" text-anchor="end" fill="#000">1.5</text>
<g transform="scale(0.1)" fill="none" stroke-linecap="square">
<path stroke="#000" stroke-width="10" d="M404 1309h0M404 1171h0M366 1162h0M402 1221h0M366 1273h0M358 1165h0M394 1266h0M404 1260h0M475 1275h0M402 1268h0M499 1316h0M431 1244h0M403 1251h0M453 1298h0M376 1249h0M437 1278h0M368 1328h0M448 1191h0M450 1166h0M383 1210h0M485 1202h0M486 1208h0M405 1322h0M430 1266h0M489 1286h0M463 1268h0M413 1317h0M447 1326h0M449 1314h0M394 1224h0M542 1311h0M407 1212h0M495 1215h0M461 1207h0M403 1278h0M425 1219h0M436 1231h0M397 1197h0M491 1266h0M357 1304h0M420 1205h0M456 1249h0M426 1296h0M447 1315h0M469 1138h0M473 1297h0M356 1286h0M391 1310h0M441 1218h0M454 1255h0M497 1251h0M433 1312h0M497 1246h0M403 1306h0M456 1180h0M457 1180h0M433 1285h0M456 1191h0M421 1234h0M418 1212h0M454 1323h0M422 1236h0M389 1214h0M409 1292h0M406 1250h0M492 1317h0M410 1197h0M416 1241h0M362 1271h0M459 1186h0M361 1171h0M513 1250h0M446 1299h0M406 1192h0M418 1262h0M441 1276h0M422 1165h0M431 1220h0M401 1324h0M428 1292h0M461 1317h0M407 1200h0M465 1194h0M370 1229h0M503 1275h0M395 1206h0M392 1323h0M382 1271h0M401 1298h0M407 1153h0M400 1309h0M492 1190h0M515 1180h0M420 1275h0M473 1306h0M441 1327h0M385 1316h0M405 1173h0M399 1167h0M483 1184h0M358 1295h0M418 1200h0M477 1201h0M439 1224h0M452 1304h0M405 1210h0M431 1291h0M388 1281h0M419 1180h0M366 1229h0M484 1207h0M482 1275h0M365 1298h0M464 1262h0M358 1254h0M390 1284h0M416 1165h0M409 1251h0M493 1317h0M398 1207h0M464 1203h0M493 1190h0M496 1291h0M438 1257h0M381 1189h0M408 1196h0M435 1206h0M466 1162h0M454 1195h0M461 1226h0M487 1313h0M396 1317h0M418 1247h0M430 1242h0M505 1284h0M478 1317h0M367 1295h0M447 1238h0M377 1313h0M493 1188h0M413 1223h0M374 1280h0M366 1183h0M356 1248h0M396 1250h0M473 1268h0M359 1257h0M372 1324h0M357 1219h0M425 1304h0M355 1239h0M354 1292h0M411 1326h0M416 1257h0M519 1296h0M366 1286h0M485 1182h0M463 1222h0M398 1254h0M372 1306h0M425 1269h0M450 1288h0M473 1246h0M480 1192h0M378 1305h0M416 1202h0M500 1231h0M359 1322h0M508 1273h0M414 1266h0M513 1320h0M422 1222h0M448 1307h0M461 1272h0M503 1293h0M438 1250h0M505 1215h0M388 1288h0M356 1218h0M434 1200h0M452 1256h0M485 1279h0M491 1286h0M415 1306h0M419 1184h0M391 1295h0M399 1300h0M451 1174h0M493 1189h0M357 1256h0M386 1299h0M469 1321h0M475 1318h0M486 1292h0M389 1261h0M355 1192h0M393 1196h0M447 1328h0M505 1312h0M410 1267h0M384 1225h0M464 1188h0M381 1266h0M476 1182h0M393 1294h0M359 1210h0M448 1186h0M459 1293h0M456 1240h0M435 1188h0M366 1268h0M409 1181h0M441 1207h0M381 1302h0M487 1165h0M473 1293h0M426 1192h0M462 1201h0M427 1266h0M398 1313h0M359 1256h0M503 1169h0M397 1279h0M404 1222h0M371 1191h0M478 1234h0M433 1266h0M409 1306h0M399 1249h0M366 1210h0M457 1232h0M368 1261h0M450 1321h0M454 1183h0M355 1206h0M402 1292h0M492 1196h0M426 1284h0M452 1218h0M471 1199h0M427 1304h0M393 1245h0M411 1192h0M447 1258h0M437 1285h0M417 1322h0M487 1225h0M378 1288h0M415 1304h0M419 1195h0M473 1237h0M481 1324h0M392 1315h0M386 1217h0M377 1246h0M403 1224h0M441 1324h0M476 1240h0M365 1315h0M414 1274h0M432 1275h0M463 1303h0M385 1309h0M430 1197h0M361 1246h0M365 1280h0M468 1273h0M414 1302h0M448 1282h0M494 1303h0M387 1325h0M389 1211h0M413 1226h0M380 1178h0M380 1174h0M437 1205h0M398 1180h0M376 1229h0M354 1246h0M433 1298h0M418 1287h0M402 1201h0M461 1313h0M389 1234h0M455 1231h0M519 1261h0M384 1323h0M458 1182h0M499 1220h0M516 1242h0M487 1198h0M367 1267h0M366 1261h0M454 1290h0M390 1312h0M489 1274h0M482 1224h0M473 1182h0M355 1210h0M427 1201h0M403 1255h0M450 1209h0M473 1167h0M394 1236h0M476 1180h0M412 1272h0M431 1327h0M436 1208h0M487 1318h0M377 1202h0M400 1197h0M468 1224h0M470 1307h0M480 1277h0M388 1324h0M430 1276h0M404 1162h0M361 1320h0M468 1224h0M368 1327h0M420 1169h0M398 1298h0M524 1307h0M408 1318h0M364 1213h0M418 1252h0M433 1224h0M369 1219h0M440 1183h0M461 1306h0M406 1325h0M367 1251h0M518 1202h0M362 1227h0M480 1193h0M390 1306h0M370 1181h0M355 1288h0M478 1243h0M406 1210h0M467 1220h0M415 1319h0M394 1211h0M385 1324h0M424 1222h0M438 1244h0M357 1259h0M405 1228h0M365 1250h0M364 1317h0M474 1295h0M434 1176h0M479 1314h0M369 1171h0M501 1200h0M467 1210h0M419 1304h0M426 1321h0M359 1315h0M399 1257h0M427 1298h0M405 1274h0M363 1325h0M424 1208h0M463 1241h0M370 1273h0M455 1286h0M443 1228h0M355 1247h0M473 1261h0M451 1195h0M385 1223h0M399 1162h0M511 1207h0M425 1317h0M427 1168h0M471 1322h0M462 1257h0M358 1270h0M363 1313h0M358 1232h0M362 1210h0M364 1241h0M417 1227h0M365 1228h0M450 1256h0M432 1220h0M446 1214h0M445 1293h0M507 1282h0M418 1258h0M411 1299h0M474 1281h0M390 1251h0M365 1215h0M424 1279h0M424 1259h0M453 1266h0M390 1315h0M405 1237h0M499 1213h0M364 1219h0M425 1190h0M488 1172h0M471 1327h0M362 1282h0M450 1315h0M423 1186h0M423 1254h0M362 1210h0M374 1317h0M503 1278h0M377 1168h0M377 1316h0M398 1256h0M435 1291h0M492 1172h0M435 1263h0M417 1204h0M379 1296h0M496 1176h0M461 1224h0M383 1207h0M471 1238h0M383 1269h0M459 1232h0M429 1249h0M367 1213h0M506 1260h0M363 1254h0M363 1185h0M509 1241h0M444 1235h0M432 1249h0M394 1257h0M407 1279h0M492 1274h0M440 1155h0M384 1320h0M443 1289h0M378 1231h0M411 1173h0M369 1198h0M426 1216h0M411 1319h0M432 1327h0M446 1227h0M433 1207h0M491 1250h0M467 1231h0M402 1193h0M382 1190h0M417 1282h0M378 1306h0M402 1204h0M360 1263h0M471 1316h0M401 1299h0M484 1257h0M373 1219h0M484 1297h0M369 1271h0M384 1328h0M477 1272h0M375 1191h0M365 1170h0M359 1185h0M421 1317h0M419 1235h0M419 1317h0M503 1245h0M451 1221h0M455 1264h0M369 1250h0M497 1211h0M420 1264h0M382 1254h0M496 1180h0M369 1232h0M374 1244h0M507 1227h0M357 1194h0M432 1195h0M414 1271h0M358 1207h0M539 1173h0M446 1302h0M382 1254h0M453 1274h0M511 1220h0M479 1234h0M408 1250h0M368 1276h0M442 1249h0M417 1239h0M457 1245h0M401 1191h0M440 1297h0M398 1263h0M411 1260h0M391 1137h0M378 1238h0M398 1248h0M420 1183h0M462 1276h0M478 1298h0M522 1258h0M509 1283h0M446 1300h0M398 1149h0M444 1232h0M414 1204h0M451 1293h0M434 1247h0M406 1198h0M465 1216h0M426 1326h0M410 1216h0M452 1259h0M442 1229h0M449 1238h0M439 1244h0M393 1204h0M359 1193h0M487 1248h0M438 1219h0M502 1249h0M392 1256h0M470 1211h0M524 1244h0M424 1180h0M470 1322h0M420 1231h0M445 1259h0M441 1323h0M433 1183h0M357 1326h0M432 1297h0M420 1322h0M465 1187h0M397 1302h0M401 1301h0M398 1245h0M474 1183h0M429 1231h0M433 1323h0M449 1193h0M471 1231h0M433 1299h0M410 1291h0M434 1212h0M410 1193h0M482 1257h0M472 1203h0M466 1199h0M438 1250h0M397 1263h0M427 1213h0M389 1195h0M491 1257h0M408 1280h0M384 1201h0M442 1318h0M439 1257h0M509 1184h0M572 1203h0M421 1193h0M367 1240h0M542 1210h0M395 1262h0M376 1239h0M464 1157h0M411 1238h0M400 1245h0M367 1231h0M397 1255h0M513 1213h0M409 1251h0M403 1210h0M388 1276h0M421 1274h0M391 1207h0M364 1281h0M445 1280h0M359 1227h0M372 1196h0M374 1309h0M393 1233h0M472 1294h0M493 1162h0M461 1175h0M395 1232h0M398 1323h0M365 1256h0M448 1252h0M451 1325h0M430 1232h0M499 1325h0M445 1194h0M479 1198h0M492 1293h0M422 1237h0M462 1237h0M368 1262h0M366 1231h0M511 1285h0M403 1247h0M394 1250h0M355 1279h0M426 1224h0M395 1315h0M451 1305h0M425 1267h0M412 1232h0M471 1301h0M443 1247h0M425 1226h0M433 1253h0M502 1259h0M431 1246h0M434 1261h0M390 1271h0M456 1326h0M479 1288h0M468 1300h0M447 1271h0M463 1248h0M358 1270h0M486 1250h0M478 1294h0M399 1197h0M358 1304h0M481 1271h0M370 1223h0M428 1293h0M386 1226h0M564 1303h0M400 1257h0M430 1256h0M447 1237h0M369 1209h0M392 1230h0M385 1179h0M434 1281h0M370 1281h0M474 1212h0M417 1320h0M438 1267h0M488 1253h0M378 1227h0M396 1241h0M441 1307h0M379 1279h0M471 1225h0M424 1234h0M409 1251h0M435 1277h0M404 1267h0M462 1235h0M419 1266h0M368 1306h0M366 1223h0M394 1213h0M452 1209h0M447 1274h0M430 1235h0M454 1306h0M403 1205h0M396 1212h0M414 1243h0M366 1312h0M389 1302h0M478 1243h0M371 1291h0M436 1315h0M411 1289h0M440 1211h0M473 1224h0M442 1233h0M415 1257h0M488 1178h0M372 1254h0M472 1242h0M416 1272h0M500 1211h0M371 1238h0M414 1232h0M367 1178h0M375 1257h0M406 1227h0M436 1316h0M449 1249h0M396 1205h0M453 1256h0M400 1314h0M456 1282h0M366 1199h0M517 1248h0M447 1303h0M377 1216h0M386 1225h0M430 1315h0M476 1202h0M359 1157h0M424 1308h0M458 1193h0M482 1250h0M438 1223h0M363 1327h0M363 1234h0M456 1211h0M485 1209h0M371 1285h0M420 1264h0M410 1251h0M397 1309h0M434 1275h0M393 1288h0M480 1312h0M458 1296h0M415 1313h0M467 1284h0M430 1243h0M431 1266h0M462 1194h0M430 1325h0M366 1255h0M439 1255h0M472 1310h0M420 1263h0"/>
<path stroke="#333" stroke-width="6" d="M404 1218h0M535 1168h0M451 1152h0M450 1143h0M360 1305h0M522 1252h0M368 1299h0M364 1270h0M424 1240h0M437 1287h0M391 1128h0M360 1178h0M408 1222h0M427 1318h0M432 1188h0M412 1198h0M416 1276h0M362 1282h0M537 1326h0M527 1250h0M358 1329h0M409 1195h0M467 1171h0M366 1274h0M411 1277h0M386 1186h0M464 1255h0M406 1255h0M371 1237h0M402 1315h0M504 1275h0M512 1242h0M473 1241h0M440 1293h0M433 1277h0M428 1310h0M469 1157h0M529 1268h0M399 1212h0M549 1250h0M460 1277h0M394 1311h0M531 1191h0M468 1194h0M471 1259h0M449 1266h0M465 1281h0M478 1259h0M457 1213h0M352 1239h0M419 1177h0M554 1267h0M438 1221h0M506 1228h0M403 1216h0M522 1261h0M421 1211h0M507 1260h0M410 1292h0M482 1193h0M499 1303h0M416 1175h0M495 1227h0M418 1230h0M414 1289h0M365 1273h0M499 1301h0M473 1259h0M419 1239h0M378 1315h0M404 1268h0M430 1134h0M484 1273h0M356 1220h0M466 1177h0M474 1117h0M394 1170h0M416 1287h0M353 1317h0M390 1220h0M489 1207h0M517 1234h0M425 1195h0M498 1242h0M402 1195h0M393 1240h0M388 1287h0M428 1213h0M458 1320h0M352 1264h0M367 1282h0M386 1298h0M425 1248h0M468 1264h0M457 1219h0M413 1314h0M402 1170h0M410 1292h0M536 1253h0M394 1277h0M449 1307h0M461 1284h0M461 1267h0M377 1237h0M525 1315h0M488 1266h0M424 1263h0M412 1302h0M413 1205h0M365 1326h0M391 1258h0M461 1121h0M438 1323h0M416 1247h0M432 1286h0M463 1311h0M385 1324h0M396 1227h0M491 1209h0M362 1192h0M361 1250h0M385 1224h0M455 1277h0M509 1232h0M468 1249h0M368 1212h0M559 1237h0M528 1288h0M529 1235h0M486 1229h0M367 1184h0M458 1161h0M453 1200h0M453 1174h0M482 1233h0M367 1170h0M419 1216h0M459 1285h0M421 1233h0M414 1222h0M447 1287h0M371 1219h0M433 1268h0M480 1188h0M513 1203h0M469 1283h0M443 1304h0M404 1312h0M522 1311h0M371 1319h0M424 1193h0M360 1177h0M394 1298h0M460 1262h0M445 1200h0M411 1189h0M418 1201h0M506 1287h0M428 1282h0M362 1260h0M502 1191h0M371 1268h0M404 1228h0M406 1316h0M506 1217h0M469 1314h0M440 1297h0M529 1264h0M452 1316h0M443 1175h0M431 1260h0M422 1240h0M355 1234h0M361 1272h0M454 1275h0M402 1223h0M454 1277h0M548 1200h0M490 1291h0M417 1252h0M429 1325h0M580 1262h0M418 1295h0M461 1236h0M476 1291h0M410 1289h0M360 1178h0M486 1259h0M468 1198h0M472 1261h0M438 1296h0M393 1320h0M427 1229h0M498 1326h0M505 1177h0M471 1321h0M510 1283h0M451 1313h0M371 1263h0M498 1196h0M388 1211h0M417 1217h0M406 1251h0M505 1290h0M393 1262h0M477 1231h0M362 1229h0M506 1315h0M469 1216h0M542 1181h0M465 1233h0M444 1264h0M509 1291h0M494 1264h0M371 1315h0M522 1270h0M479 1233h0M358 1296h0M544 1093h0M442 1306h0M477 1301h0M367 1310h0M471 1150h0M364 1300h0M472 1278h0M578 1172h0M463 1302h0M361 1288h0M391 1221h0M478 1204h0M445 1158h0M502 1237h0M357 1195h0M536 1273h0M396 1159h0M442 1210h0M492 1190h0M502 1221h0M444 1231h0M469 1305h0M401 1198h0M542 1295h0M543 1295h0M440 1318h0M435 1294h0M434 1313h0M417 1313h0M424 1272h0M415 1205h0M488 1227h0"/>
<path stroke="#000" stroke-width="8" d="M659 1315h0M686 1220h0M660 1206h0M687 1244h0M665 1246h0M624 1229h0M656 1289h0M640 1268h0M677 1296h0M660 1236h0M679 1222h0M643 1250h0M649 1205h0M637 1223h0M651 1244h0M693 1240h0M636 1319h0M649 1320h0M650 1255h0M642 1229h0M689 1310h0M611 1259h0M651 1212h0M689 1287h0M681 1314h0M646 1228h0M676 1131h0M587 1260h0M658 1248h0M637 1255h0M694 1218h0M680 1239h0M659 1250h0M706 1267h0M683 1251h0M603 1285h0M663 1249h0M650 1180h0M706 1322h0M708 1168h0M679 1195h0M659 1223h0M646 1213h0M650 1278h0M709 1284h0M663 1239h0M657 1244h0M646 1238h0M688 1236h0M641 1240h0M666 1242h0M656 1275h0M662 1203h0M680 1215h0M685 1279h0M677 1258h0M625 1237h0M667 1272h0M632 1239h0M620 1253h0M666 1250h0M710 1276h0M658 1221h0M651 1278h0M689 1224h0M660 1227h0M683 1253h0M643 1208h0M700 1186h0M612 1116h0M721 1222h0M688 1269h0M687 1293h0M650 1244h0M691 1269h0M642 1213h0M623 1256h0M648 1180h0M648 1259h0M669 1236h0M668 1273h0M629 1211h0M691 1276h0M624 1215h0M705 1277h0M659 1288h0M703 1305h0M624 1191h0M649 1243h0M653 1255h0M706 1291h0M692 1245h0M711 1264h0M670 1244h0M611 1324h0M631 1310h0M630 1288h0M670 1205h0M691 1246h0M637 1139h0M635 1261h0M634 1286h0M726 1259h0M670 1242h0M688 1246h0M693 1305h0M688 1205h0M683 1234h0M672 1286h0M645 1254h0M706 1210h0M658 1276h0M657 1288h0M635 1182h0M674 1239h0M673 1286h0M694 1231h0M652 1164h0M636 1255h0M670 1183h0M686 1243h0M695 1230h0M691 1199h0M610 1211h0M684 1262h0M609 1251h0M683 1315h0M686 1266h0M618 1261h0M607 1233h0M653 1204h0M634 1239h0M680 1218h0M672 1275h0M663 1325h0M655 1215h0M609 1290h0M683 1237h0M672 1240h0M689 1245h0M670 1242h0M638 1152h0M679 1193h0M675 1272h0M718 1214h0M668 1285h0M644 1221h0M676 1327h0M643 1212h0M605 1262h0M662 1169h0M716 1253h0M663 1243h0M670 1315h0M688 1205h0M673 1233h0M660 1326h0M669 1215h0M635 1225h0M661 1201h0M642 1313h0M654 1206h0M658 1212h0M644 1245h0M646 1283h0M684 1265h0M648 1276h0M601 1241h0M677 1215h0M671 1259h0M700 1196h0M659 1149h0M649 1261h0M688 1269h0M664 1227h0M652 1252h0M671 1299h0M622 1160h0M654 1274h0M680 1256h0M664 1245h0M690 1281h0M602 1271h0M651 1247h0M690 1299h0M711 1236h0M666 1285h0M634 1263h0M660 1270h0M722 1260h0M742 1226h0M631 1291h0M667 1266h0M689 1246h0M674 1194h0M666 1295h0M645 1238h0M600 1278h0M579 1288h0M660 1222h0M702 1212h0M645 1255h0M653 1221h0M647 1251h0M598 1304h0M635 1215h0M632 1202h0M644 1223h0M672 1303h0M716 1207h0M639 1248h0M655 1238h0M612 1247h0M675 1241h0M673 1293h0M605 1173h0M675 1259h0M612 1253h0M691 1253h0M656 1200h0M668 1260h0M665 1193h0M620 1229h0M665 1201h0M620 1319h0M708 1280h0M628 1258h0M663 1323h0M659 1259h0M705 1193h0M679 1253h0M661 1255h0M607 1246h0M657 1194h0M687 1240h0M654 1276h0M637 1215h0M687 1281h0M721 1226h0M622 1184h0M629 1249h0M657 1217h0M634 1216h0M653 1294h0M681 1302h0M687 1277h0M697 1264h0M707 1292h0M715 1254h0M641 1322h0M690 1297h0M665 1326h0M640 1250h0M646 1228h0M662 1263h0M665 1276h0M679 1283h0M626 1264h0M621 1224h0M638 1212h0M673 1226h0M662 1252h0M713 1196h0M616 1291h0M601 1206h0M684 1222h0M658 1290h0M694 1232h0M659 1252h0M614 1311h0M618 1283h0M717 1183h0M659 1194h0M642 1313h0M663 1230h0M637 1191h0M680 1274h0M642 1254h0M676 1261h0M658 1247h0M671 1201h0M659 1278h0M647 1299h0M656 1199h0M655 1189h0M681 1179h0M664 1235h0M654 1263h0M671 1222h0M687 1226h0M689 1301h0M674 1283h0M625 1268h0M620 1238h0M683 1134h0M641 1213h0M636 1246h0M681 1197h0M645 1168h0M643 1158h0M620 1264h0M688 1211h0M673 1213h0M694 1317h0M593 1209h0M645 1225h0M708 1310h0M663 1271h0M618 1233h0M655 1239h0M672 1180h0M633 1319h0M664 1226h0M646 1314h0M645 1182h0M661 1235h0M668 1235h0M664 1282h0M650 1245h0M649 1255h0M649 1280h0M703 1297h0M682 1251h0M686 1217h0M686 1232h0M628 1239h0M591 1320h0M621 1290h0M636 1243h0M700 1163h0M702 1251h0M664 1193h0M625 1285h0M681 1287h0M681 1329h0M669 1202h0M671 1191h0M651 1218h0M669 1182h0M686 1244h0M622 1289h0M660 1320h0M673 1224h0M660 1209h0M659 1286h0M670 1183h0M630 1289h0M670 1218h0M686 1205h0M625 1179h0M670 1293h0M662 1237h0M635 1280h0M630 1261h0M670 1227h0M659 1210h0M691 1270h0M685 1280h0M678 1287h0M726 1325h0M626 1266h0M656 1224h0M679 1210h0M690 1268h0M643 1216h0M660 1207h0M690 1151h0M667 1231h0M632 1271h0M649 1264h0M651 1233h0M678 1285h0M692 1244h0M705 1231h0M624 1167h0M622 1209h0M612 1259h0M664 1244h0M670 1240h0M656 1232h0"/>
<path stroke="#444" stroke-width="6" d="M662 1176h0M723 1315h0M662 1323h0M609 1214h0M663 1184h0M624 1232h0M647 1258h0M657 1279h0M650 1206h0M736 1317h0M746 1291h0M664 1160h0M720 1219h0M665 1241h0M707 1268h0M570 1201h0M677 1244h0M699 1265h0M740 1198h0M724 1255h0M675 1271h0M644 1272h0M650 1273h0M623 1296h0M585 1201h0M658 1248h0M621 1214h0M673 1290h0M724 1210h0M657 1219h0M585 1212h0M716 1165h0M801 1286h0M745 1245h0M547 1258h0M738 1205h0M723 1275h0M699 1274h0M689 1269h0M719 1257h0M691 1257h0M667 1190h0M572 1182h0M599 1158h0M694 1218h0M723 1312h0M610 1329h0M674 1328h0M683 1205h0M663 1207h0M595 1235h0M567 1196h0M737 1254h0M697 1182h0M668 1322h0M654 1329h0M668 1133h0M651 1235h0M723 1245h0M728 1252h0M718 1306h0M736 1246h0M692 1321h0M563 1224h0M632 1324h0M699 1245h0M615 1290h0M759 1283h0M674 1145h0M676 1234h0M622 1135h0M682 1286h0M695 1321h0M678 1198h0M594 1181h0M638 1271h0M721 1274h0M632 1255h0M641 1279h0M707 1287h0M680 1267h0M564 1316h0M683 1311h0M617 1321h0M616 1184h0M722 1189h0M590 1131h0M637 1242h0M740 1239h0M560 1256h0M698 1228h0M680 1303h0M683 1238h0M698 1256h0M629 1248h0M628 1149h0M691 1175h0M662 1137h0M654 1187h0M577 1188h0"/>
<path stroke="#777" stroke-width="5" d="M471 1117h0M538 1066h0M511 1103h0M479 1087h0M504 1025h0M549 1034h0M421 1024h0M416 972h0M493 1130h0M466 1098h0M487 1164h0M519 1034h0M484 1093h0M453 1114h0M516 1011h0M400 1065h0M491 1112h0M453 1068h0M448 1133h0M439 1032h0M528 1094h0M473 1064h0M549 1038h0M510 1040h0M482 944h0M461 1049h0M463 1117h0M410 1090h0M484 1099h0M520 1068h0M497 1089h0M566 1073h0M478 1131h0M457 1052h0M384 1029h0M475 1145h0M460 984h0M433 1116h0M443 1004h0M463 961h0M680 996h0M695 1089h0M665 1134h0M712 1079h0M710 1119h0M703 1166h0M715 1082h0M679 946h0M606 1150h0M717 1007h0M667 1094h0M675 1040h0M663 1025h0M701 1137h0M669 1073h0M722 1145h0M627 1127h0M678 1057h0M650 1128h0M681 1092h0M715 1060h0M657 1006h0M709 1057h0M737 1077h0M654 953h0M699 1084h0M648 1068h0M695 1084h0M721 1077h0M686 1071h0M732 1113h0M658 1016h0M684 1043h0M599 1129h0M701 1071h0"/>
</g>
<rect x="34.5" y="81.6" width="54.3" height="51.900000000000006" fill="none" stroke="#555" stroke-width="0.9"/>
<line x1="55.6" y1="81.6" x2="55.6" y2="133.5" stroke="#555" stroke-width="0.8"/>
<line x1="34.5" y1="113.3" x2="88.8" y2="113.3" stroke="#555" stroke-width="0.8"/>
<text x="87.89999999999999" y="89.5" font-size="7.1" text-anchor="end" fill="#000">1.4</text>
<g transform="scale(0.1)" fill="none" stroke-linecap="square">
<path stroke="#000" stroke-width="11" d="M1139 712h0M1183 653h0M1135 700h0M1150 715h0M1137 698h0M1101 628h0M1149 588h0M1157 588h0M1075 690h0M1098 554h0M1128 708h0M1082 640h0M1113 708h0M1153 628h0M1095 569h0M1176 611h0M1109 716h0M1218 727h0M1120 651h0M1104 578h0M1137 622h0M1144 712h0M1084 602h0M1099 614h0M1077 615h0M1187 686h0M1154 611h0M1122 629h0M1085 710h0M1108 588h0M1188 588h0M1082 697h0M1203 684h0M1244 607h0M1223 718h0M1164 573h0M1103 622h0M1201 620h0M1079 650h0M1191 642h0M1145 677h0M1184 660h0M1213 664h0M1213 607h0M1138 627h0M1084 679h0M1203 667h0M1138 620h0M1102 658h0M1191 724h0M1151 637h0M1105 702h0M1135 723h0M1142 670h0M1153 678h0M1074 691h0M1075 685h0M1196 632h0M1072 658h0M1128 723h0M1131 610h0M1099 641h0M1134 613h0M1073 727h0M1075 707h0M1189 716h0M1123 715h0M1075 712h0M1174 612h0M1180 722h0M1128 717h0M1077 694h0M1126 600h0M1227 708h0M1164 666h0M1110 585h0M1165 601h0M1137 715h0M1074 698h0M1074 683h0M1203 590h0M1183 596h0M1195 714h0M1137 622h0M1103 593h0M1142 722h0M1158 635h0M1201 723h0M1224 594h0M1130 717h0M1157 718h0M1092 663h0M1076 548h0M1081 703h0M1121 613h0M1150 596h0M1089 569h0M1121 629h0M1163 561h0M1158 726h0M1225 573h0M1211 618h0M1111 637h0M1170 684h0M1185 710h0M1145 568h0M1144 688h0M1202 677h0M1088 697h0M1102 656h0M1071 672h0M1184 681h0M1180 679h0M1138 610h0M1165 554h0M1136 619h0M1186 590h0M1150 618h0M1100 723h0M1239 723h0M1122 630h0M1118 641h0M1144 593h0M1109 639h0M1074 611h0M1097 726h0M1126 725h0M1171 582h0M1229 629h0M1218 642h0M1084 577h0M1079 616h0M1097 598h0M1181 702h0M1081 713h0M1091 649h0M1116 613h0M1132 721h0M1088 589h0M1092 593h0M1099 664h0M1144 694h0M1210 691h0M1168 641h0M1087 598h0M1156 648h0M1095 722h0M1081 684h0M1206 685h0M1202 702h0M1177 717h0M1196 721h0M1173 623h0M1168 592h0M1201 663h0M1078 717h0M1141 710h0M1237 700h0M1231 709h0M1123 674h0M1208 597h0M1160 642h0M1117 628h0M1131 661h0M1115 709h0M1193 606h0M1085 702h0M1210 580h0M1185 717h0M1246 721h0M1227 667h0M1174 705h0M1194 719h0M1218 690h0M1201 675h0M1071 656h0M1152 633h0M1232 654h0M1147 593h0M1080 688h0M1083 674h0M1077 645h0M1096 724h0M1080 642h0M1153 602h0M1081 596h0M1153 586h0M1186 647h0M1197 652h0M1070 713h0M1156 692h0M1203 550h0M1073 636h0M1147 708h0M1141 618h0M1088 657h0M1073 690h0M1220 659h0M1122 723h0M1221 594h0M1126 616h0M1124 722h0M1132 699h0M1182 599h0M1177 654h0M1126 675h0M1195 646h0M1089 714h0M1079 658h0M1081 678h0M1131 578h0M1192 611h0M1178 716h0M1201 620h0M1147 716h0M1082 715h0M1104 637h0M1080 638h0M1197 597h0M1108 714h0M1185 599h0M1108 726h0M1097 563h0M1213 658h0M1088 693h0M1229 675h0M1216 713h0M1226 679h0M1139 608h0M1113 674h0M1081 712h0M1106 607h0M1213 683h0M1075 589h0M1114 636h0M1207 612h0M1159 550h0M1206 645h0M1225 690h0M1117 677h0M1135 728h0M1184 640h0M1091 663h0M1074 647h0M1095 725h0M1209 693h0M1195 669h0M1126 685h0M1103 720h0M1084 657h0M1073 683h0M1160 726h0M1195 705h0M1170 694h0M1162 634h0M1120 649h0M1076 678h0M1146 610h0M1081 720h0M1173 727h0M1236 688h0M1121 632h0M1149 643h0M1201 617h0M1230 718h0M1099 566h0M1088 638h0M1238 669h0M1170 664h0M1098 644h0M1107 617h0M1169 617h0M1195 684h0M1205 624h0M1204 723h0M1106 652h0M1249 695h0M1126 587h0M1120 716h0M1142 685h0M1232 617h0M1221 683h0M1094 677h0M1100 641h0M1202 633h0M1114 587h0M1151 622h0M1216 614h0M1192 667h0M1081 722h0M1085 677h0M1121 640h0M1077 573h0M1104 678h0M1222 638h0M1188 626h0M1077 628h0M1097 587h0M1120 692h0M1165 588h0M1224 695h0M1071 706h0M1126 685h0M1105 604h0M1172 726h0M1118 686h0M1116 686h0M1122 583h0M1142 702h0M1097 704h0M1173 639h0M1154 724h0M1168 661h0M1158 606h0M1077 656h0M1078 600h0M1087 615h0M1074 581h0M1075 665h0M1163 709h0M1151 656h0M1215 588h0M1220 551h0M1106 648h0M1144 715h0M1197 656h0M1220 715h0M1070 660h0M1112 560h0M1131 588h0M1087 640h0M1226 593h0M1074 688h0M1176 658h0M1082 683h0M1190 668h0M1192 565h0M1224 640h0M1194 725h0M1078 725h0M1220 720h0M1082 566h0M1192 588h0M1137 723h0M1118 638h0M1184 597h0M1128 677h0M1120 650h0M1116 687h0M1132 609h0M1107 609h0M1178 683h0M1119 642h0M1071 715h0M1211 642h0M1139 714h0M1207 718h0M1217 702h0M1126 589h0M1206 628h0M1115 663h0M1222 715h0M1109 617h0M1159 646h0M1088 621h0M1209 722h0M1195 681h0M1182 644h0M1157 722h0M1149 632h0M1156 637h0M1123 719h0M1111 599h0M1105 628h0M1179 650h0M1155 723h0M1096 619h0M1162 694h0M1174 649h0M1088 585h0M1239 594h0M1178 634h0M1195 633h0M1177 630h0M1165 713h0M1085 588h0M1106 659h0M1198 684h0M1185 721h0M1140 720h0M1079 644h0M1111 687h0M1168 689h0M1101 608h0M1224 598h0M1139 608h0M1176 620h0M1138 600h0M1123 580h0M1200 608h0M1162 725h0M1124 633h0M1072 702h0M1164 640h0M1136 707h0M1172 593h0M1228 612h0M1143 609h0M1213 699h0M1167 602h0M1120 720h0M1156 607h0M1120 598h0M1097 647h0M1075 641h0M1145 621h0M1127 701h0M1077 707h0M1074 685h0M1142 678h0M1073 577h0M1079 627h0M1101 633h0M1206 574h0M1126 616h0M1132 652h0M1208 654h0M1154 714h0M1232 620h0M1202 569h0M1205 613h0M1083 586h0M1166 723h0M1177 722h0M1130 580h0M1156 615h0M1119 596h0M1101 670h0M1164 637h0M1078 703h0M1167 681h0M1221 684h0M1120 647h0M1079 588h0M1218 636h0M1156 726h0M1081 635h0M1155 648h0M1180 678h0M1219 576h0M1072 592h0M1107 626h0M1143 584h0M1209 708h0M1086 598h0M1074 682h0M1153 716h0M1078 677h0M1136 586h0M1075 613h0M1169 631h0M1100 725h0M1238 648h0M1091 650h0M1162 726h0M1108 579h0M1122 619h0M1221 645h0M1097 589h0M1123 611h0M1106 672h0M1126 641h0M1216 627h0M1096 722h0M1220 689h0M1188 566h0M1115 641h0M1125 619h0M1168 722h0M1095 682h0M1097 724h0M1128 678h0M1074 707h0M1199 610h0M1190 575h0M1080 689h0M1202 640h0M1168 659h0M1139 617h0M1090 563h0M1117 677h0M1085 703h0M1109 644h0M1082 726h0M1079 662h0M1193 581h0M1130 671h0M1090 598h0M1159 671h0M1132 649h0M1077 656h0M1227 575h0M1206 613h0M1184 649h0M1108 718h0M1122 711h0M1204 629h0M1185 670h0M1136 674h0M1074 568h0M1082 587h0M1098 656h0M1078 655h0M1108 687h0M1202 681h0M1229 717h0M1137 590h0M1104 660h0M1124 594h0M1134 632h0M1203 601h0M1177 600h0M1100 714h0M1150 704h0M1186 650h0M1227 633h0M1155 651h0M1163 611h0M1101 636h0M1180 610h0M1107 599h0M1105 690h0M1226 621h0M1171 704h0M1114 642h0M1149 678h0M1080 689h0M1083 680h0M1132 712h0M1127 691h0M1150 683h0M1122 640h0M1085 584h0M1218 594h0M1087 663h0M1176 694h0M1195 603h0M1208 602h0M1078 716h0M1200 661h0M1131 705h0M1133 646h0M1218 727h0M1139 592h0M1157 606h0M1201 672h0M1129 671h0M1175 577h0M1161 652h0M1121 647h0M1141 714h0M1123 722h0M1112 682h0M1157 690h0M1154 645h0M1194 657h0M1228 598h0M1216 613h0M1086 596h0M1186 632h0M1141 724h0M1131 579h0M1193 627h0M1086 679h0M1171 664h0M1098 722h0M1102 667h0M1095 620h0M1080 696h0M1142 634h0M1150 693h0M1145 676h0M1079 694h0M1183 696h0M1135 690h0M1137 719h0M1104 637h0M1189 607h0M1137 618h0M1073 716h0M1173 634h0M1111 663h0M1076 706h0M1113 659h0M1229 660h0M1179 608h0M1194 622h0M1128 700h0M1097 635h0M1189 693h0M1121 594h0M1170 723h0M1090 623h0M1141 695h0M1076 587h0M1184 718h0M1125 723h0M1211 594h0M1082 673h0M1158 614h0M1155 662h0M1172 727h0M1228 572h0M1128 717h0M1205 619h0M1203 632h0M1191 638h0M1084 587h0M1126 642h0M1179 701h0M1123 628h0M1222 709h0M1083 663h0M1175 696h0M1128 594h0M1182 599h0M1128 679h0M1132 662h0M1117 611h0M1155 630h0M1178 592h0M1158 685h0M1137 716h0M1154 725h0M1246 671h0M1219 677h0M1101 714h0M1125 574h0M1091 718h0M1188 609h0M1132 583h0M1177 556h0M1201 568h0M1131 571h0M1156 605h0M1177 613h0M1228 561h0M1201 562h0M1173 654h0M1097 682h0M1235 715h0M1181 669h0M1149 626h0M1110 598h0M1229 635h0M1140 700h0M1082 661h0M1079 627h0M1186 688h0M1077 653h0M1071 673h0M1072 713h0M1203 638h0M1193 624h0M1088 587h0M1168 664h0M1157 613h0M1217 624h0M1168 680h0M1090 693h0M1118 595h0M1136 633h0M1070 566h0M1214 576h0M1151 659h0M1141 563h0M1182 632h0M1200 589h0M1202 642h0M1100 640h0M1101 717h0M1174 694h0M1228 653h0M1166 631h0M1192 601h0M1194 600h0M1188 721h0M1220 631h0M1167 565h0M1208 646h0M1197 708h0M1195 664h0M1122 668h0M1185 706h0M1183 681h0M1216 599h0M1204 630h0M1169 660h0M1222 675h0M1212 679h0M1070 646h0M1071 719h0M1244 701h0M1134 688h0M1163 688h0M1205 724h0M1178 690h0M1138 689h0M1090 638h0M1087 705h0M1145 698h0M1235 702h0M1179 628h0M1157 596h0M1146 720h0M1183 687h0M1148 670h0M1126 613h0M1146 718h0M1129 641h0M1239 724h0M1105 574h0M1204 580h0M1189 619h0M1087 625h0M1093 590h0M1105 644h0M1083 723h0M1170 675h0M1169 616h0M1143 662h0M1148 672h0M1165 567h0M1107 704h0M1170 601h0M1150 612h0M1233 651h0M1076 702h0M1080 665h0M1213 617h0M1104 577h0M1110 696h0M1127 691h0M1198 712h0M1196 705h0M1229 684h0M1178 720h0M1081 663h0M1070 610h0M1124 614h0M1084 663h0M1132 649h0M1112 666h0M1134 565h0M1234 590h0M1211 627h0M1234 598h0M1077 569h0M1235 616h0M1102 702h0M1217 583h0M1130 691h0M1184 709h0M1081 680h0M1145 692h0M1076 633h0M1215 615h0M1083 617h0M1104 572h0M1182 602h0M1209 722h0M1114 692h0M1143 728h0M1172 589h0M1077 599h0M1197 659h0M1177 672h0M1102 653h0M1081 645h0M1139 627h0M1230 694h0M1197 584h0M1219 625h0M1191 567h0M1194 722h0M1239 586h0M1184 604h0M1108 664h0M1171 602h0M1083 665h0M1071 611h0M1141 669h0M1122 599h0M1133 580h0M1098 698h0M1178 615h0M1126 659h0M1120 711h0M1200 662h0M1205 674h0M1193 656h0M1143 723h0M1077 656h0M1077 661h0M1160 574h0M1122 695h0M1210 601h0M1130 631h0M1153 697h0M1182 603h0M1102 703h0M1169 565h0M1145 703h0M1180 672h0M1231 691h0M1165 718h0M1219 629h0M1201 628h0M1119 654h0M1165 679h0M1142 627h0M1225 631h0M1158 586h0M1101 702h0M1083 653h0M1213 621h0M1179 626h0M1156 648h0M1187 606h0M1135 634h0M1070 691h0M1158 597h0M1223 666h0M1156 646h0M1100 597h0M1144 562h0M1217 585h0M1214 687h0M1180 561h0M1081 607h0M1105 688h0M1183 714h0M1176 594h0M1239 676h0M1177 627h0M1092 721h0M1115 657h0M1092 592h0M1170 705h0M1081 587h0M1111 609h0M1227 659h0M1218 720h0M1126 698h0M1099 579h0M1084 686h0M1234 600h0M1094 702h0M1132 574h0M1144 685h0M1070 576h0M1140 639h0M1106 640h0M1242 720h0M1132 719h0M1070 653h0M1242 699h0M1075 675h0M1207 603h0M1200 721h0M1216 573h0M1073 588h0M1207 571h0M1237 669h0M1174 582h0M1117 695h0M1126 695h0M1181 637h0M1070 549h0M1140 679h0M1093 686h0M1138 612h0M1168 635h0M1227 564h0M1198 684h0M1071 602h0M1185 725h0M1112 713h0M1100 691h0M1132 594h0M1145 705h0M1186 624h0M1073 664h0M1071 725h0M1153 648h0M1197 715h0M1076 606h0M1118 724h0M1130 641h0M1206 693h0M1071 653h0M1188 715h0M1143 620h0M1227 669h0M1077 571h0M1236 710h0M1187 654h0M1193 601h0M1080 702h0M1108 700h0M1079 704h0M1226 596h0M1090 708h0M1180 722h0M1148 631h0M1082 728h0M1134 654h0M1123 604h0M1109 720h0M1166 664h0M1219 664h0M1076 704h0M1237 651h0M1108 635h0M1133 615h0M1170 602h0M1075 548h0M1181 666h0M1197 594h0M1127 604h0M1104 631h0M1128 678h0M1070 709h0M1091 589h0M1133 674h0M1185 573h0M1211 727h0M1117 721h0M1205 658h0M1150 651h0M1106 686h0M1072 647h0M1076 621h0M1074 583h0M1161 602h0M1134 608h0M1153 719h0M1074 564h0M1190 635h0M1072 536h0M1071 580h0M1225 662h0M1144 719h0M1173 664h0M1075 589h0M1117 580h0M1130 632h0M1219 626h0M1072 566h0M1237 691h0M1135 620h0M1150 727h0M1109 614h0M1087 606h0M1115 657h0M1248 606h0M1070 726h0M1217 709h0M1145 561h0M1223 664h0M1175 625h0M1109 595h0M1180 589h0M1190 683h0M1114 664h0M1081 614h0M1096 582h0M1105 710h0M1142 612h0M1137 718h0M1087 625h0M1189 718h0M1177 699h0M1144 683h0M1238 726h0M1083 667h0M1084 585h0M1122 576h0M1194 585h0M1201 634h0M1179 612h0M1071 664h0M1116 591h0M1115 649h0M1101 613h0M1089 725h0M1119 719h0M1194 630h0M1131 579h0M1152 719h0M1146 592h0M1242 628h0M1098 613h0M1091 594h0M1081 630h0M1143 604h0M1190 594h0M1159 657h0M1085 589h0M1192 693h0M1105 663h0M1193 575h0M1212 658h0M1127 576h0M1088 672h0M1084 622h0M1094 715h0M1245 702h0M1094 705h0M1182 600h0M1214 673h0M1083 677h0M1155 649h0M1207 724h0M1206 674h0M1176 723h0M1078 653h0M1183 574h0M1106 619h0M1129 720h0M1199 727h0M1072 571h0M1181 651h0M1109 638h0M1218 573h0M1241 624h0M1181 635h0M1084 663h0M1140 563h0M1098 722h0M1160 701h0M1079 632h0M1198 632h0M1084 608h0M1073 659h0M1161 721h0M1081 721h0M1209 680h0M1109 577h0M1210 617h0M1084 635h0M1210 689h0M1083 674h0M1089 705h0M1115 656h0M1175 653h0M1207 622h0M1139 679h0M1180 638h0M1077 609h0M1071 681h0M1081 661h0M1088 649h0M1135 666h0M1192 627h0M1080 657h0M1128 636h0M1082 655h0M1099 700h0M1213 668h0M1072 699h0M1201 644h0M1112 687h0M1187 616h0M1183 699h0M1215 686h0M1222 579h0M1150 605h0M1227 660h0M1221 622h0M1119 642h0M1140 558h0M1178 616h0M1179 689h0M1196 601h0M1238 640h0M1086 600h0M1171 714h0M1139 665h0M1125 603h0M1180 689h0M1081 568h0M1150 723h0M1078 719h0M1152 571h0M1072 648h0M1205 681h0M1185 637h0M1097 586h0M1094 714h0M1149 589h0M1148 689h0M1183 602h0M1197 572h0M1079 657h0M1211 723h0M1254 652h0M1106 612h0M1103 609h0M1106 655h0M1076 569h0M1137 728h0M1203 639h0M1196 618h0M1233 701h0M1121 669h0M1117 719h0M1080 623h0M1201 702h0M1080 717h0M1163 650h0M1074 727h0M1121 670h0M1219 605h0M1111 693h0M1170 668h0M1189 621h0M1106 654h0M1078 575h0M1142 673h0M1199 617h0M1177 691h0M1080 715h0M1220 623h0M1160 626h0M1177 618h0M1204 723h0M1103 712h0M1121 604h0M1181 642h0M1098 703h0M1238 621h0M1092 657h0M1186 691h0M1154 726h0M1091 630h0M1179 616h0M1108 725h0M1120 653h0M1071 649h0M1105 651h0M1200 610h0M1153 628h0M1100 718h0M1096 545h0M1084 584h0M1182 728h0M1114 708h0M1184 668h0M1177 716h0M1200 597h0M1220 658h0M1124 668h0M1138 649h0M1074 653h0M1184 654h0M1167 719h0M1082 564h0M1072 574h0M1185 722h0M1220 692h0M1128 720h0M1200 687h0M1225 683h0M1239 644h0M1139 727h0M1094 640h0M1189 653h0M1219 726h0M1212 621h0M1094 680h0M1194 681h0M1215 690h0M1114 627h0M1078 577h0M1113 710h0M1155 700h0M1097 621h0M1157 600h0M1211 663h0M1080 589h0M1148 575h0M1210 710h0M1096 715h0M1082 659h0M1103 725h0M1134 629h0M1083 678h0M1230 724h0M1072 584h0M1153 555h0M1119 653h0M1114 608h0M1187 718h0M1103 607h0M1144 657h0M1110 609h0M1115 632h0M1154 695h0M1144 708h0M1199 625h0M1181 684h0M1108 728h0M1100 619h0M1170 612h0M1215 595h0M1234 716h0M1081 631h0M1076 692h0M1160 720h0M1158 604h0M1119 714h0M1073 630h0M1230 587h0M1086 568h0M1197 594h0M1143 572h0M1115 649h0M1090 665h0M1237 689h0M1093 703h0M1106 690h0M1187 723h0M1137 570h0M1158 716h0M1182 658h0M1077 557h0M1101 682h0M1071 584h0M1091 603h0M1082 572h0M1161 646h0M1126 663h0M1183 678h0M1186 685h0M1159 588h0M1201 722h0M1136 661h0M1164 690h0M1192 580h0M1220 718h0M1092 611h0M1176 666h0M1135 606h0M1112 569h0M1219 617h0M1097 704h0M1075 599h0M1171 597h0M1071 564h0M1136 713h0M1140 617h0M1145 666h0M1071 721h0M1134 556h0M1086 712h0M1116 598h0M1125 716h0M1077 695h0M1086 621h0M1093 676h0M1080 559h0M1095 616h0M1088 649h0M1186 627h0M1200 714h0M1158 707h0M1199 598h0M1108 665h0M1070 633h0M1206 673h0M1135 670h0M1121 636h0M1186 594h0M1163 636h0M1207 677h0M1072 594h0M1120 656h0M1184 662h0M1169 715h0M1135 697h0M1115 626h0M1097 640h0M1101 702h0M1156 688h0M1216 659h0M1105 663h0M1078 669h0M1196 675h0M1134 648h0M1080 674h0M1162 703h0M1144 584h0M1232 587h0M1210 618h0M1181 627h0M1117 614h0M1224 603h0M1135 715h0M1147 671h0M1077 588h0M1236 587h0M1133 610h0M1123 647h0M1094 631h0M1128 644h0M1092 683h0M1120 582h0M1103 601h0M1215 722h0M1192 646h0M1179 677h0M1212 655h0M1108 674h0M1114 727h0M1219 692h0M1229 649h0M1183 576h0M1210 593h0M1201 621h0M1166 630h0M1072 719h0M1189 713h0M1193 680h0M1223 676h0M1082 696h0M1118 645h0M1133 700h0M1073 675h0M1124 564h0M1144 586h0M1096 602h0M1145 686h0M1090 663h0M1076 646h0M1093 642h0M1113 654h0M1147 630h0M1070 693h0M1197 687h0M1120 585h0M1085 659h0M1145 608h0M1073 588h0M1108 623h0M1090 651h0M1236 703h0M1114 726h0M1242 617h0M1078 675h0M1147 676h0M1111 593h0M1094 628h0M1153 581h0M1121 559h0M1159 604h0M1214 625h0M1111 603h0M1181 687h0M1163 717h0M1142 601h0M1084 557h0M1145 674h0M1216 715h0M1103 623h0M1204 622h0M1192 689h0M1223 720h0M1185 599h0M1198 633h0M1072 714h0M1074 641h0M1100 673h0M1197 584h0M1146 624h0M1168 695h0M1197 648h0M1075 645h0M1208 695h0M1100 597h0M1112 589h0M1240 709h0M1201 684h0M1176 679h0M1111 576h0M1092 618h0M1145 716h0M1198 663h0M1075 638h0M1201 697h0M1129 593h0M1109 684h0M1096 595h0M1120 718h0M1190 672h0M1170 647h0M1152 680h0M1199 628h0M1142 613h0M1083 639h0M1186 716h0M1070 589h0M1101 708h0M1194 584h0M1131 706h0M1138 722h0M1226 700h0M1202 683h0M1222 602h0M1113 672h0M1082 718h0M1145 701h0M1150 637h0M1221 555h0M1133 586h0M1113 637h0M1171 691h0M1217 579h0M1169 723h0M1120 706h0M1121 595h0M1081 678h0M1191 597h0M1192 648h0M1219 574h0M1150 645h0M1075 727h0M1088 715h0M1207 699h0M1072 605h0M1141 653h0M1079 641h0M1114 561h0M1225 582h0M1206 624h0M1189 611h0M1167 663h0M1123 654h0M1098 628h0M1212 638h0M1097 678h0M1124 720h0M1092 680h0M1224 588h0M1154 700h0M1111 721h0M1237 726h0M1178 610h0M1077 568h0M1227 683h0M1099 663h0M1122 637h0M1220 664h0M1107 630h0M1165 610h0M1168 728h0M1094 609h0M1112 720h0M1210 667h0M1077 676h0M1212 722h0M1175 638h0M1191 714h0M1074 717h0M1178 694h0M1175 703h0M1082 648h0M1087 656h0M1128 556h0M1135 695h0M1130 702h0M1184 713h0M1210 678h0M1102 631h0M1150 664h0M1099 716h0M1112 717h0M1171 624h0M1176 648h0M1083 720h0M1143 564h0M1216 675h0M1167 606h0M1086 633h0M1144 637h0M1186 576h0M1182 602h0M1079 621h0M1121 667h0M1107 621h0M1210 679h0M1087 717h0M1119 570h0M1083 627h0M1176 713h0M1113 703h0M1152 638h0M1207 717h0M1084 644h0M1087 703h0M1185 596h0M1113 546h0M1191 721h0M1082 558h0M1132 627h0M1158 669h0M1178 614h0M1119 618h0M1076 712h0M1115 677h0M1079 627h0M1250 644h0M1143 651h0M1166 686h0M1149 718h0M1214 580h0M1098 680h0M1099 696h0M1209 712h0M1189 691h0M1075 673h0M1089 589h0M1097 682h0M1213 640h0M1168 615h0M1220 624h0M1143 584h0M1124 594h0M1238 602h0M1124 706h0M1096 690h0M1080 708h0M1164 704h0M1078 640h0M1173 650h0M1206 648h0M1131 604h0M1134 651h0M1228 690h0M1136 722h0M1077 662h0M1113 608h0M1148 694h0M1213 647h0M1175 606h0M1158 578h0M1161 714h0M1174 663h0M1141 652h0M1080 606h0M1169 584h0M1072 680h0M1132 550h0M1080 568h0M1156 723h0M1070 565h0M1097 584h0M1166 587h0M1082 646h0M1181 604h0M1165 659h0M1162 567h0M1074 634h0M1194 651h0M1087 704h0M1093 707h0M1108 616h0M1070 666h0M1235 576h0M1212 661h0M1097 693h0M1228 579h0M1114 656h0M1091 599h0M1091 602h0M1133 574h0M1153 717h0M1102 587h0M1130 680h0M1123 578h0M1194 581h0M1218 687h0M1080 727h0M1149 641h0M1111 630h0M1119 677h0M1166 597h0M1096 590h0M1143 591h0M1184 637h0M1121 566h0M1213 707h0M1130 680h0M1074 665h0M1196 680h0M1096 578h0M1092 702h0M1158 703h0M1142 638h0M1077 565h0M1228 718h0M1178 570h0M1099 643h0M1177 721h0M1224 590h0M1079 616h0M1227 675h0M1108 673h0M1213 698h0M1163 662h0M1121 682h0M1193 650h0M1208 698h0M1187 585h0M1096 673h0M1203 617h0M1211 584h0M1084 686h0M1084 692h0M1135 710h0M1198 686h0M1171 592h0M1123 713h0M1080 628h0M1175 682h0M1229 600h0M1086 586h0M1228 611h0M1165 678h0M1226 613h0M1190 720h0M1237 634h0M1130 641h0M1078 570h0M1102 704h0M1093 719h0M1105 721h0M1118 594h0M1141 715h0M1112 661h0M1162 625h0M1123 667h0M1116 666h0M1095 668h0M1117 586h0M1118 702h0M1137 636h0M1097 567h0M1198 647h0M1159 710h0M1125 719h0M1077 640h0M1215 711h0M1169 719h0M1219 589h0M1111 690h0M1131 620h0M1093 643h0M1228 638h0M1074 562h0M1139 652h0M1095 614h0M1178 668h0M1090 717h0M1180 650h0M1129 607h0M1213 713h0M1225 720h0M1135 659h0M1198 661h0M1191 720h0M1114 589h0M1152 710h0M1178 665h0M1136 703h0M1128 688h0M1084 622h0M1222 598h0M1189 663h0M1126 637h0M1139 724h0M1084 676h0M1190 714h0M1171 673h0M1095 680h0M1207 585h0M1117 678h0M1206 699h0M1089 677h0M1122 687h0M1214 692h0M1199 556h0M1208 644h0M1136 566h0M1234 672h0M1086 593h0M1174 565h0M1152 716h0M1169 663h0M1241 682h0M1074 582h0M1223 629h0M1082 724h0M1209 706h0M1196 709h0M1222 664h0M1094 714h0M1159 701h0M1084 617h0M1170 644h0M1085 728h0M1132 683h0M1171 621h0M1124 615h0M1099 623h0M1230 703h0M1208 674h0M1116 691h0M1150 680h0M1090 621h0M1134 637h0M1155 716h0M1188 617h0M1205 655h0M1220 725h0M1139 685h0M1232 571h0M1080 605h0M1183 685h0M1110 604h0M1178 713h0M1195 648h0M1186 609h0M1192 661h0M1129 721h0M1229 559h0M1231 637h0M1124 722h0M1203 674h0M1147 653h0M1111 671h0M1074 670h0M1218 596h0M1200 619h0M1095 608h0M1150 648h0M1120 592h0M1071 624h0M1103 572h0M1160 587h0M1205 698h0M1169 577h0M1139 692h0M1101 671h0M1148 625h0M1159 617h0M1192 661h0M1204 612h0M1243 661h0M1088 564h0M1075 638h0M1182 709h0M1140 627h0M1111 695h0M1123 589h0M1211 720h0M1248 655h0M1177 585h0M1187 716h0M1204 601h0M1167 701h0M1103 672h0M1169 709h0M1100 726h0M1175 581h0M1120 593h0M1142 697h0M1073 647h0M1107 710h0M1109 670h0M1191 687h0M1076 658h0M1104 679h0M1076 616h0M1086 577h0M1079 665h0M1165 728h0M1171 578h0M1094 676h0M1189 654h0M1199 593h0M1193 610h0M1142 556h0M1127 717h0M1136 649h0M1167 614h0M1160 644h0M1198 638h0M1168 610h0M1216 583h0M1087 649h0M1147 710h0M1086 719h0M1096 643h0M1204 655h0M1158 637h0M1102 667h0M1177 652h0M1157 568h0M1131 673h0M1075 631h0M1239 656h0M1203 618h0M1212 718h0M1202 674h0M1131 591h0M1162 627h0M1213 563h0M1177 635h0M1157 676h0M1211 680h0M1110 668h0M1199 658h0M1117 676h0M1113 646h0M1105 654h0M1120 551h0M1075 725h0M1206 682h0M1206 585h0M1093 667h0M1105 676h0M1083 606h0M1125 552h0M1222 637h0M1195 629h0M1121 722h0M1223 669h0M1102 613h0M1128 728h0M1164 573h0M1084 698h0M1101 679h0M1144 696h0M1165 674h0M1147 631h0M1161 601h0M1230 616h0M1139 703h0M1080 723h0M1200 633h0M1247 618h0M1174 711h0M1191 653h0M1225 728h0M1142 631h0M1090 652h0M1233 702h0M1122 565h0M1070 556h0M1165 557h0M1143 726h0M1198 682h0M1158 716h0M1127 719h0M1180 689h0M1166 590h0M1143 598h0M1206 595h0M1170 600h0M1187 616h0M1070 721h0M1094 560h0M1163 573h0M1198 600h0M1099 673h0M1209 646h0M1167 654h0M1123 581h0M1113 574h0M1211 644h0M1208 659h0M1144 668h0M1083 632h0M1074 586h0M1132 680h0M1213 652h0M1232 636h0M1072 625h0M1083 689h0M1159 586h0M1204 684h0M1075 633h0M1091 558h0M1166 674h0M1217 642h0M1185 698h0M1157 642h0M1224 725h0M1235 705h0M1149 635h0M1202 579h0M1127 573h0M1115 717h0M1164 657h0M1207 568h0M1080 610h0M1074 663h0M1175 689h0M1099 600h0M1172 611h0M1098 605h0M1156 639h0M1188 687h0M1082 655h0M1164 589h0M1143 552h0M1227 677h0M1122 640h0M1157 705h0M1192 651h0M1218 700h0M1222 664h0M1090 580h0M1162 596h0M1073 655h0M1180 583h0M1107 673h0M1144 629h0M1120 702h0M1131 720h0M1137 609h0M1234 727h0M1237 615h0M1199 616h0M1099 696h0M1073 692h0M1211 599h0M1226 672h0M1127 651h0M1135 671h0M1139 604h0M1075 673h0M1082 641h0M1183 659h0M1202 635h0M1191 573h0M1212 652h0M1082 616h0M1081 603h0M1213 698h0M1109 676h0M1076 573h0M1105 575h0M1095 639h0M1149 624h0M1209 722h0M1178 700h0M1073 651h0M1111 617h0M1091 659h0M1078 689h0M1201 623h0M1114 701h0M1196 585h0M1095 624h0M1159 666h0M1111 645h0M1074 565h0M1176 716h0M1132 675h0M1070 681h0M1205 696h0M1070 644h0M1162 596h0M1101 706h0M1153 651h0M1129 684h0M1138 705h0M1135 671h0M1093 713h0M1164 632h0M1093 565h0M1165 682h0M1205 690h0M1158 623h0M1075 655h0M1201 637h0M1183 597h0M1153 659h0M1144 715h0M1244 583h0M1179 626h0M1115 609h0M1168 635h0M1229 654h0M1178 688h0M1095 678h0M1106 596h0M1215 634h0M1120 568h0M1178 664h0M1079 718h0M1140 725h0M1215 699h0M1074 724h0M1198 640h0M1206 595h0M1096 590h0M1169 636h0M1133 672h0M1077 599h0M1117 708h0M1116 686h0M1194 608h0M1227 586h0M1151 662h0M1220 639h0M1159 648h0M1082 659h0M1074 695h0M1122 641h0M1086 580h0M1200 600h0M1140 636h0M1156 615h0M1105 643h0M1110 620h0M1182 598h0M1237 647h0M1132 690h0M1114 681h0M1114 711h0M1115 651h0M1103 709h0M1143 570h0M1072 657h0M1070 664h0M1160 720h0M1206 608h0M1082 721h0M1163 669h0M1206 621h0M1112 688h0M1093 597h0M1210 622h0M1190 656h0M1149 686h0M1202 653h0M1188 603h0M1144 676h0M1082 646h0M1169 672h0M1170 607h0M1204 722h0M1130 648h0M1103 651h0M1120 585h0M1203 666h0M1137 607h0M1217 695h0M1075 620h0M1112 673h0M1164 684h0M1079 659h0M1200 704h0M1235 618h0M1106 656h0M1078 707h0M1200 688h0M1104 657h0M1121 659h0M1098 672h0M1215 715h0M1225 704h0M1182 652h0M1148 724h0M1226 661h0M1191 648h0M1105 606h0M1070 713h0M1232 595h0M1176 647h0M1102 604h0M1116 599h0M1179 641h0M1116 595h0M1092 567h0M1130 578h0M1144 567h0"/>
<path stroke="#000" stroke-width="9" d="M1163 715h0M1083 632h0M1154 580h0M1269 552h0M1171 634h0M1177 711h0M1200 585h0M1143 723h0M1081 615h0M1121 628h0M1074 671h0M1171 680h0M1100 612h0M1086 698h0M1084 634h0M1222 650h0M1114 664h0M1140 643h0M1130 695h0M1195 601h0M1132 656h0M1150 727h0M1104 690h0M1160 682h0M1141 598h0M1117 720h0M1120 635h0M1192 663h0M1256 689h0M1115 675h0M1145 618h0M1161 586h0M1151 635h0M1146 623h0M1241 625h0M1186 664h0M1208 624h0M1070 697h0M1076 656h0M1145 660h0M1098 618h0M1082 701h0M1143 625h0M1097 599h0M1201 696h0M1080 627h0M1158 714h0M1108 726h0M1174 688h0M1125 651h0M1187 687h0M1131 716h0M1084 629h0M1159 710h0M1257 629h0M1080 626h0M1138 648h0M1230 562h0M1111 560h0M1112 643h0M1140 715h0M1087 631h0M1225 662h0M1084 661h0M1076 614h0M1109 580h0M1244 639h0M1153 647h0M1133 617h0M1164 637h0M1091 709h0M1228 684h0M1170 643h0M1147 698h0M1142 729h0M1074 593h0M1114 626h0M1120 613h0M1162 677h0M1131 710h0M1246 678h0M1202 720h0M1137 714h0M1089 685h0M1121 608h0M1277 615h0M1071 601h0M1085 683h0M1100 692h0M1159 628h0M1144 663h0M1130 648h0M1211 622h0M1148 714h0M1163 639h0M1073 646h0M1074 637h0M1106 650h0M1116 661h0M1197 707h0M1134 590h0M1224 674h0M1197 568h0M1236 686h0M1234 672h0M1118 665h0M1115 695h0M1136 608h0M1082 687h0M1142 660h0M1115 720h0M1156 681h0M1115 599h0M1196 668h0M1207 657h0M1288 597h0M1181 667h0M1154 649h0M1172 704h0M1145 607h0M1196 712h0M1072 673h0M1228 692h0M1111 675h0M1160 604h0M1124 644h0M1120 729h0M1075 608h0M1070 605h0M1187 669h0M1134 650h0M1176 600h0M1095 700h0M1165 622h0M1075 691h0M1085 674h0M1203 629h0M1109 677h0M1150 651h0M1127 589h0M1139 654h0M1195 703h0M1137 701h0M1183 630h0M1157 692h0M1138 708h0M1134 642h0M1077 610h0M1094 601h0M1212 670h0M1114 722h0M1113 603h0M1075 625h0M1230 636h0M1090 606h0M1159 674h0M1103 625h0M1122 700h0M1139 717h0M1178 692h0M1120 681h0M1291 585h0M1082 574h0M1138 614h0M1194 577h0M1134 696h0M1074 685h0M1077 643h0M1159 711h0M1205 622h0M1172 538h0M1219 672h0M1133 647h0M1273 675h0M1182 638h0M1199 659h0M1124 600h0M1236 718h0M1124 661h0M1141 711h0M1085 563h0M1178 591h0M1096 706h0M1184 723h0M1161 626h0M1170 675h0M1074 613h0M1195 656h0M1156 642h0M1229 683h0M1098 671h0M1076 638h0M1118 607h0M1089 714h0M1087 648h0M1076 724h0M1111 662h0M1136 712h0M1087 647h0M1088 600h0M1161 665h0M1126 666h0M1084 648h0M1171 665h0M1074 646h0M1079 711h0M1200 608h0M1141 609h0M1144 717h0M1205 726h0M1229 713h0M1093 557h0M1103 685h0M1152 655h0M1089 659h0M1172 683h0M1167 659h0M1190 640h0M1126 608h0M1222 673h0M1155 671h0M1217 723h0M1089 638h0M1124 679h0M1246 667h0M1125 728h0M1207 576h0M1179 605h0M1233 694h0M1156 624h0M1142 646h0M1138 659h0M1189 702h0M1232 596h0M1138 642h0M1176 646h0M1096 607h0M1103 705h0M1143 622h0M1255 594h0M1122 725h0M1187 609h0M1215 685h0M1197 726h0M1092 648h0M1083 542h0M1096 712h0M1114 626h0M1069 658h0M1198 726h0M1178 711h0M1080 603h0M1082 694h0M1182 570h0M1074 647h0M1174 720h0M1173 695h0M1212 695h0M1151 687h0M1196 668h0M1198 631h0M1075 658h0M1171 715h0M1079 705h0M1190 597h0M1145 665h0M1188 673h0M1213 636h0M1174 725h0M1083 598h0M1120 620h0M1143 690h0M1133 708h0M1108 677h0M1084 574h0M1079 644h0M1168 726h0M1153 708h0M1163 596h0M1148 680h0M1246 561h0M1229 605h0M1073 642h0M1216 687h0M1078 640h0M1130 716h0M1125 694h0M1086 637h0M1100 713h0M1183 600h0M1201 722h0M1167 677h0M1138 666h0M1188 625h0M1230 696h0M1143 643h0M1107 720h0M1070 668h0M1285 698h0M1094 708h0M1111 665h0M1168 627h0M1161 590h0M1095 678h0M1182 610h0M1241 650h0M1100 713h0M1153 609h0M1097 674h0M1133 632h0M1140 621h0M1215 677h0M1157 712h0M1232 619h0M1074 664h0M1100 645h0M1206 609h0M1161 645h0M1120 666h0M1242 637h0M1152 679h0M1070 645h0M1187 722h0M1118 689h0M1097 708h0M1163 719h0M1115 589h0M1149 644h0M1213 587h0M1099 676h0M1236 719h0M1229 622h0M1113 665h0M1240 639h0M1171 669h0M1180 629h0M1121 677h0M1191 680h0M1232 631h0M1091 688h0M1163 630h0M1080 718h0M1128 618h0M1076 667h0M1097 676h0M1148 633h0M1088 646h0M1200 715h0M1210 615h0M1088 671h0M1428 635h0M1418 672h0M1412 636h0M1364 645h0M1412 653h0M1408 729h0M1341 611h0M1368 628h0M1401 608h0M1361 653h0M1384 663h0M1385 587h0M1370 680h0M1394 677h0M1354 628h0M1335 646h0M1357 688h0M1376 710h0M1447 671h0M1398 603h0M1370 549h0M1366 726h0M1355 617h0M1432 697h0M1398 677h0M1385 727h0M1425 642h0M1415 678h0M1384 644h0M1363 622h0M1368 625h0M1374 646h0M1397 671h0M1333 721h0M1407 657h0M1377 710h0M1416 637h0M1356 724h0M1387 684h0M1385 674h0M1292 717h0M1360 649h0M1386 626h0M1391 728h0M1404 657h0M1445 679h0M1405 619h0M1382 670h0M1369 658h0M1378 676h0M1431 642h0M1382 604h0M1395 609h0M1357 719h0M1397 652h0M1345 676h0M1385 650h0M1357 605h0M1364 681h0M1386 605h0M1387 720h0M1409 687h0M1389 627h0M1386 717h0M1307 712h0M1373 595h0M1366 684h0M1372 629h0M1417 724h0M1426 648h0M1407 712h0M1398 627h0M1419 645h0M1366 662h0M1414 693h0M1417 635h0M1351 649h0M1418 608h0M1367 655h0M1437 694h0M1364 619h0M1347 615h0M1401 709h0M1389 565h0M1351 597h0M1345 606h0M1356 538h0M1332 726h0M1347 664h0M1392 609h0M1359 679h0M1370 727h0M1411 706h0M1393 688h0M1357 631h0M1397 679h0M1385 594h0M1376 622h0M1364 638h0M1365 681h0M1423 728h0M1366 662h0M1454 613h0M1408 648h0M1346 654h0M1410 602h0M1353 693h0M1345 712h0M1417 628h0M1390 712h0M1411 567h0M1342 663h0M1418 711h0M1412 680h0M1364 666h0M1392 646h0M1411 621h0M1384 672h0M1330 686h0M1383 710h0M1457 622h0M1408 589h0M1393 635h0M1447 647h0M1388 634h0M1441 670h0M1389 675h0M1417 700h0M1384 651h0M1386 628h0M1405 633h0M1338 593h0M1364 638h0M1423 687h0M1409 642h0M1372 631h0M1378 605h0M1390 630h0M1369 661h0M1379 654h0M1388 678h0M1392 618h0M1377 665h0M1412 726h0M1375 587h0M1374 724h0M1311 643h0M1404 690h0M1340 658h0M1393 709h0M1389 631h0M1402 666h0M1353 661h0M1394 657h0M1373 659h0M1388 693h0M1354 638h0M1404 640h0M1359 603h0M1344 616h0M1384 689h0M1390 667h0M1403 657h0M1348 664h0M1390 725h0M1422 611h0M1352 625h0M1427 690h0M1392 663h0M1418 638h0M1408 664h0M1366 674h0M1367 701h0M1365 685h0M1424 669h0M1360 630h0M1375 504h0M1351 646h0M1353 588h0M1403 618h0M1414 679h0M1395 678h0M1396 680h0M1354 625h0M1402 617h0M1435 677h0M1359 668h0M1401 642h0M1439 698h0M1443 635h0M1408 670h0M1350 612h0M1357 613h0M1397 557h0M1352 642h0M1354 660h0M1375 636h0M1455 680h0M1331 661h0M1394 634h0M1405 626h0M1353 665h0M1336 709h0M1392 714h0M1363 669h0M1429 696h0M1386 643h0M1351 662h0M1378 634h0M1427 630h0M1446 719h0M1385 589h0M1355 679h0M1439 678h0M1381 644h0M1352 607h0M1407 716h0M1369 710h0M1383 572h0M1398 627h0M1320 633h0M1387 631h0M1430 729h0M1391 669h0M1380 652h0M1375 724h0M1361 674h0M1387 650h0M1378 667h0M1451 636h0M1408 624h0M1431 631h0M1400 702h0M1370 659h0M1351 610h0M1420 689h0M1388 565h0M1406 595h0M1420 703h0M1368 626h0M1397 701h0M1421 697h0M1307 640h0M1383 701h0M1420 720h0M1387 650h0M1425 600h0M1364 657h0M1315 592h0M1399 710h0M1433 647h0M1401 663h0M1363 671h0M1384 718h0M1378 597h0M1393 633h0M1389 678h0M1334 584h0M1395 697h0M1368 658h0M1399 634h0M1383 637h0M1415 659h0M1357 671h0M1364 646h0M1349 650h0M1408 692h0M1403 622h0M1385 658h0M1378 647h0M1342 720h0M1381 721h0M1367 677h0M1384 684h0M1356 656h0M1358 661h0M1366 637h0M1402 710h0M1383 671h0M1358 638h0M1373 678h0M1435 577h0M1419 723h0M1402 645h0M1407 595h0M1346 667h0M1368 693h0M1359 578h0M1381 686h0M1342 664h0M1388 679h0M1409 673h0M1365 601h0M1403 648h0M1412 715h0M1368 635h0M1422 670h0M1353 652h0M1374 716h0M1349 631h0M1409 698h0M1392 637h0M1358 545h0M1405 673h0M1387 603h0M1334 642h0M1373 714h0M1453 599h0M1363 697h0M1414 696h0M1381 638h0M1373 599h0M1365 625h0M1418 724h0M1394 590h0M1380 637h0M1420 616h0M1397 658h0M1410 634h0M1433 675h0M1380 650h0M1372 709h0M1409 649h0M1467 682h0M1413 728h0M1346 657h0M1315 593h0M1384 698h0M1369 651h0M1377 590h0M1368 683h0M1371 709h0M1377 665h0M1406 710h0M1401 704h0M1359 675h0M1385 659h0M1482 646h0M1349 625h0M1366 663h0M1397 638h0M1456 682h0M1386 644h0M1392 621h0M1380 636h0M1408 625h0M1352 641h0M1417 678h0M1373 656h0M1362 623h0M1394 630h0M1360 644h0M1387 685h0M1371 670h0M1398 714h0M1428 613h0M1377 667h0M1426 689h0M1440 638h0M1351 714h0M1348 593h0M1393 726h0M1391 605h0M1402 595h0M1387 728h0M1383 594h0M1385 676h0M1340 681h0M1387 557h0M1400 612h0M1372 712h0M1404 634h0M1407 711h0M1374 535h0M1400 601h0M1369 609h0M1402 635h0M1395 590h0M1381 665h0M1439 703h0M1370 574h0M1361 649h0M1360 681h0M1387 701h0M1371 674h0M1426 712h0M1408 669h0M1355 657h0M1395 608h0M1371 717h0M1376 598h0M1455 722h0M1397 700h0M1400 681h0M1402 647h0M1430 616h0M1392 728h0M1310 723h0M1365 719h0M1349 569h0M1394 629h0M1373 620h0M1348 604h0M1384 694h0M1396 681h0M1441 653h0M1394 678h0M1420 697h0M1389 605h0M1383 696h0M1389 717h0M1443 685h0M1389 614h0M1440 615h0M1378 655h0M1363 645h0M1396 602h0M1391 628h0M1386 694h0M1363 704h0M1313 690h0M1361 609h0M1376 729h0M1318 579h0M1430 720h0M1383 702h0M1365 689h0M1415 639h0M1378 674h0M1418 638h0M1407 658h0M1368 711h0M1428 604h0M1391 645h0M1352 665h0M1384 632h0M1347 695h0M1418 663h0M1325 690h0M1434 657h0M1338 603h0M1383 642h0M1377 659h0M1406 711h0M1420 706h0M1383 542h0M1361 596h0M1328 582h0M1412 683h0M1339 711h0M1380 687h0M1366 646h0M1430 648h0M1391 619h0M1349 646h0M1382 605h0M1370 676h0M1392 716h0M1343 593h0M1421 722h0M1332 722h0M1383 715h0M1345 671h0M1405 683h0M1336 646h0M1449 603h0M1423 592h0M1368 603h0M1418 705h0M1402 622h0M1400 681h0M1432 603h0M1382 688h0M1381 614h0M1375 727h0M1334 576h0M1417 697h0M1421 692h0M1419 687h0M1343 620h0M1374 675h0M1419 620h0M1369 613h0M1418 635h0M1388 712h0M1379 609h0M1363 676h0M1381 703h0M1360 718h0M1383 657h0M1386 661h0M1381 625h0M1411 606h0M1359 591h0M1346 619h0M1388 643h0M1362 580h0M1385 705h0M1430 580h0M1389 714h0M1348 665h0M1394 703h0M1399 633h0M1434 567h0M1442 708h0M1385 683h0M1281 688h0M1367 639h0M1346 625h0M1419 720h0M1412 713h0M1362 659h0M1390 654h0M1378 722h0M1390 668h0M1387 634h0M1396 703h0M1356 683h0M1430 697h0M1427 665h0M1371 637h0M1382 715h0M1384 682h0M1388 636h0M1405 724h0M1345 629h0M1408 683h0M1431 653h0M1370 691h0M1404 679h0M1369 636h0M1379 621h0M1394 660h0M1429 673h0M1404 609h0M1391 602h0M1398 688h0M1360 703h0M1410 581h0M1343 712h0M1373 717h0M1368 594h0M1379 589h0M1385 715h0M1398 628h0M1365 686h0M1405 613h0M1348 590h0M1362 701h0M1361 663h0M1347 656h0M1419 690h0M1374 685h0M1359 582h0M1365 580h0M1399 702h0M1387 677h0M1378 638h0M1404 613h0M1333 693h0"/>
<path stroke="#333" stroke-width="6" d="M1148 686h0M1174 568h0M1163 719h0M1250 655h0M1139 628h0M1141 723h0M1108 589h0M1141 647h0M1183 595h0M1106 583h0M1120 698h0M1201 651h0M1214 674h0M1124 687h0M1076 608h0M1162 650h0M1111 631h0M1087 604h0M1307 683h0M1205 718h0M1080 692h0M1127 586h0M1170 674h0M1125 614h0M1078 652h0M1175 617h0M1232 619h0M1236 641h0M1281 699h0M1201 710h0M1114 674h0M1221 621h0M1241 644h0M1204 703h0M1131 585h0M1221 727h0M1184 605h0M1116 667h0M1126 689h0M1197 614h0M1273 688h0M1114 581h0M1140 651h0M1187 667h0M1186 563h0M1115 644h0M1194 641h0M1163 591h0M1216 653h0M1072 632h0M1135 657h0M1263 580h0M1226 578h0M1143 584h0M1146 711h0M1249 700h0M1141 696h0M1081 640h0M1228 596h0M1080 598h0M1218 635h0M1211 684h0M1229 596h0M1074 658h0M1288 719h0M1154 710h0M1148 660h0M1222 667h0M1143 655h0M1218 723h0M1239 676h0M1092 699h0M1132 603h0M1144 607h0M1076 653h0M1096 699h0M1169 577h0M1176 672h0M1082 694h0M1127 632h0M1191 525h0M1119 689h0M1172 731h0M1183 653h0M1217 640h0M1196 501h0M1068 710h0M1084 660h0M1176 572h0M1119 603h0M1213 602h0M1206 692h0M1170 672h0M1221 662h0M1192 678h0M1086 728h0M1187 595h0M1141 581h0M1143 711h0M1074 590h0M1181 611h0M1303 598h0M1217 651h0M1177 709h0M1265 727h0M1191 642h0M1197 698h0M1148 599h0M1097 567h0M1172 712h0M1183 636h0M1086 675h0M1315 726h0M1067 568h0M1157 572h0M1245 623h0M1158 664h0M1186 604h0M1111 633h0M1096 600h0M1195 632h0M1188 633h0M1172 612h0M1241 615h0M1179 712h0M1149 585h0M1161 690h0M1096 636h0M1176 728h0M1237 730h0M1160 698h0M1164 596h0M1109 609h0M1117 730h0M1140 663h0M1126 609h0M1232 605h0M1158 584h0M1079 621h0M1279 660h0M1195 699h0M1092 596h0M1147 708h0M1161 581h0M1147 557h0M1168 572h0M1098 542h0M1105 614h0M1201 624h0M1137 619h0M1156 626h0M1081 634h0M1186 554h0M1082 695h0M1126 720h0M1093 530h0M1107 643h0M1281 564h0M1161 707h0M1130 505h0M1127 663h0M1134 668h0M1166 611h0M1156 723h0M1132 623h0M1222 654h0M1183 603h0M1195 616h0M1071 686h0M1082 513h0M1073 523h0M1153 571h0M1230 679h0M1082 537h0M1239 713h0M1211 714h0M1145 660h0M1223 662h0M1191 715h0M1247 642h0M1243 596h0M1157 674h0M1304 630h0M1099 711h0M1195 625h0M1095 697h0M1166 635h0M1087 611h0M1120 674h0M1075 676h0M1219 718h0M1093 656h0M1109 726h0M1170 722h0M1193 666h0M1175 659h0M1154 687h0M1108 628h0M1083 722h0M1195 653h0M1176 689h0M1193 684h0M1151 643h0M1210 691h0M1174 715h0M1105 651h0M1085 714h0M1191 651h0M1125 641h0M1069 697h0M1130 726h0M1121 718h0M1217 705h0M1084 692h0M1164 673h0M1227 722h0M1131 686h0M1203 670h0M1073 542h0M1207 497h0M1120 672h0M1194 659h0M1167 728h0M1106 720h0M1077 600h0M1077 698h0M1211 676h0M1086 668h0M1157 567h0M1217 674h0M1191 524h0M1094 724h0M1197 543h0M1158 721h0M1122 511h0M1233 731h0M1225 659h0M1172 698h0M1076 645h0M1146 680h0M1211 581h0M1219 530h0M1197 598h0M1272 696h0M1103 722h0M1184 699h0M1120 592h0M1194 687h0M1084 706h0M1153 646h0"/>
<path stroke="#444" stroke-width="6" d="M1343 717h0M1337 564h0M1337 647h0M1371 618h0M1377 624h0M1474 588h0M1369 698h0M1337 525h0M1331 656h0M1359 648h0M1419 587h0M1368 547h0M1406 683h0M1370 618h0M1329 629h0M1374 671h0M1361 638h0M1379 540h0M1422 711h0M1329 609h0M1369 689h0M1452 617h0M1405 673h0M1346 692h0M1448 717h0M1363 701h0M1396 686h0M1381 720h0M1466 702h0M1375 664h0M1379 559h0M1386 624h0M1402 630h0M1287 531h0M1368 597h0M1347 597h0M1345 592h0M1446 606h0M1322 709h0M1366 612h0M1358 584h0M1407 713h0M1328 633h0M1409 573h0M1402 630h0M1439 568h0M1427 653h0M1406 619h0M1395 642h0M1434 507h0M1339 608h0M1336 637h0M1352 723h0M1368 639h0M1501 643h0M1368 720h0M1384 614h0M1404 595h0M1332 597h0M1432 666h0M1376 619h0M1329 678h0M1405 726h0M1323 663h0M1422 731h0M1423 729h0M1340 578h0M1433 595h0M1388 614h0M1446 620h0M1324 719h0M1382 717h0M1438 717h0M1303 676h0M1285 668h0M1398 656h0M1360 590h0M1341 647h0M1316 504h0M1304 672h0M1338 685h0M1295 639h0M1373 664h0M1394 538h0M1419 630h0M1388 669h0M1380 720h0M1361 703h0M1363 592h0M1363 675h0M1385 639h0M1327 642h0M1418 623h0M1350 595h0M1398 587h0M1434 628h0M1456 729h0M1421 666h0M1345 587h0M1433 690h0M1359 569h0M1346 623h0M1400 662h0M1414 697h0M1346 596h0M1361 605h0M1404 717h0M1400 603h0M1435 729h0M1355 604h0M1293 696h0M1399 713h0M1449 511h0M1384 628h0M1371 672h0M1369 710h0M1299 714h0M1448 625h0M1290 635h0M1392 657h0"/>
<path stroke="#222" stroke-width="7" d="M1412 375h0M1413 357h0M1367 401h0M1388 295h0M1373 408h0M1373 439h0M1401 376h0M1367 400h0M1438 465h0M1371 345h0M1364 526h0M1366 425h0M1425 438h0M1370 357h0M1408 454h0M1385 418h0M1419 426h0M1418 463h0M1397 503h0M1380 458h0M1366 479h0M1350 356h0M1369 515h0M1398 510h0M1407 346h0M1391 436h0M1377 463h0M1408 408h0M1379 367h0M1450 491h0M1391 439h0M1395 426h0M1387 410h0M1389 381h0M1376 507h0M1416 483h0M1435 403h0M1386 445h0M1395 398h0M1367 466h0M1404 355h0M1369 417h0M1379 338h0M1400 365h0M1392 365h0M1408 471h0M1403 424h0M1412 414h0M1448 372h0M1365 505h0M1429 374h0M1383 468h0M1374 344h0M1413 387h0M1389 398h0M1403 382h0M1389 406h0M1367 447h0M1361 421h0M1436 408h0M1384 427h0M1402 503h0M1383 355h0M1389 381h0M1363 423h0M1376 464h0M1412 461h0M1372 365h0M1400 320h0M1373 372h0M1375 449h0M1398 407h0M1405 453h0M1404 482h0M1425 398h0M1362 397h0M1369 454h0M1385 371h0M1394 447h0M1421 426h0M1384 386h0M1366 389h0M1398 436h0M1396 303h0M1381 479h0M1363 440h0M1377 470h0M1400 447h0M1404 467h0M1367 371h0M1377 481h0M1340 463h0M1382 436h0M1371 433h0M1408 342h0M1416 398h0M1393 343h0M1399 426h0M1436 342h0M1384 427h0M1401 505h0M1364 475h0M1384 375h0M1403 431h0M1389 452h0M1353 418h0M1371 411h0M1394 409h0M1398 365h0M1390 411h0M1449 438h0M1362 424h0M1437 446h0M1356 508h0M1408 444h0M1423 329h0M1396 403h0M1397 320h0M1417 358h0M1402 468h0M1393 424h0M1360 382h0M1397 401h0M1405 366h0M1389 374h0M1352 423h0M1387 427h0M1378 487h0M1458 486h0M1360 409h0M1425 460h0M1368 394h0M1391 388h0M1395 517h0M1416 524h0M1421 278h0M1402 351h0M1401 502h0M1401 296h0M1390 397h0M1411 348h0M1383 409h0M1392 433h0M1416 424h0M1427 428h0M1445 459h0M1393 363h0M1381 392h0M1421 401h0M1389 437h0"/>
<path stroke="#777" stroke-width="5" d="M1175 505h0M1139 416h0M1161 520h0M1109 336h0M1185 428h0M1206 447h0M1287 480h0M1146 445h0M1292 423h0M1202 560h0M1231 518h0M1107 472h0M1279 504h0M1238 471h0M1230 403h0M1286 543h0M1235 518h0M1095 451h0M1180 504h0M1091 468h0M1265 407h0M1295 493h0M1144 408h0M1291 431h0M1128 454h0M1256 535h0M1156 341h0M1282 466h0M1158 465h0M1212 585h0M1083 407h0M1073 539h0M1135 472h0M1124 390h0M1132 478h0M1146 433h0M1185 427h0M1175 392h0M1073 381h0M1103 504h0M1071 383h0M1358 434h0M1257 404h0M1152 445h0M1147 489h0M1187 526h0M1160 477h0M1119 529h0M1089 376h0M1128 420h0M1109 468h0M1289 417h0M1113 465h0M1236 540h0M1230 419h0M1235 325h0M1199 558h0M1239 598h0M1146 468h0M1169 509h0M1435 477h0M1415 504h0M1397 399h0M1398 532h0M1367 384h0M1429 578h0M1381 542h0M1335 557h0M1378 551h0M1343 498h0M1363 367h0M1325 513h0M1367 526h0M1406 527h0M1375 442h0M1380 505h0M1357 512h0M1390 481h0M1444 537h0M1317 412h0M1476 573h0M1398 426h0M1355 499h0M1439 450h0M1416 511h0M1362 536h0M1313 469h0M1368 581h0M1371 403h0M1362 368h0M1407 401h0M1407 491h0M1399 487h0M1407 534h0M1345 511h0M1331 461h0M1343 555h0M1405 453h0M1378 418h0M1416 428h0M1413 556h0M1309 587h0M1425 560h0M1354 381h0M1375 460h0M1394 408h0M1485 519h0M1406 494h0M1312 525h0M1365 380h0"/>
</g>
<rect x="106" y="21.5" width="54.900000000000006" height="52.099999999999994" fill="none" stroke="#555" stroke-width="0.9"/>
<line x1="127.3" y1="21.5" x2="127.3" y2="73.6" stroke="#555" stroke-width="0.8"/>
<line x1="106" y1="53.4" x2="160.9" y2="53.4" stroke="#555" stroke-width="0.8"/>
<text x="160.0" y="29.4" font-size="7.1" text-anchor="end" fill="#000">7.5</text>
<g transform="scale(0.1)" fill="none" stroke-linecap="square">
<path stroke="#000" stroke-width="10" d="M1141 1320h0M1112 1207h0M1188 1290h0M1150 1323h0M1217 1300h0M1070 1196h0M1148 1296h0M1136 1280h0M1231 1208h0M1200 1155h0M1103 1315h0M1155 1232h0M1202 1197h0M1145 1195h0M1215 1167h0M1080 1281h0M1146 1235h0M1158 1220h0M1096 1243h0M1192 1289h0M1117 1211h0M1176 1240h0M1136 1287h0M1152 1273h0M1136 1229h0M1096 1198h0M1119 1323h0M1113 1201h0M1103 1309h0M1200 1206h0M1115 1299h0M1117 1233h0M1109 1253h0M1181 1327h0M1171 1182h0M1113 1274h0M1094 1286h0M1180 1291h0M1071 1291h0M1149 1239h0M1179 1232h0M1144 1278h0M1086 1167h0M1180 1238h0M1080 1243h0M1127 1209h0M1142 1230h0M1083 1197h0M1190 1242h0M1198 1291h0M1084 1229h0M1145 1298h0M1143 1274h0M1114 1315h0M1098 1244h0M1135 1199h0M1096 1278h0M1085 1298h0M1111 1236h0M1235 1191h0M1092 1280h0M1188 1207h0M1074 1256h0M1155 1230h0M1127 1260h0M1079 1214h0M1119 1319h0M1082 1221h0M1112 1242h0M1198 1195h0M1159 1310h0M1131 1325h0M1099 1272h0M1076 1276h0M1096 1320h0M1071 1281h0M1133 1262h0M1192 1269h0M1176 1156h0M1154 1323h0M1087 1311h0M1076 1217h0M1172 1232h0M1132 1242h0M1081 1299h0M1088 1260h0M1098 1292h0M1117 1289h0M1079 1302h0M1070 1286h0M1190 1237h0M1132 1306h0M1110 1315h0M1074 1294h0M1180 1184h0M1142 1262h0M1194 1224h0M1211 1247h0M1127 1304h0M1168 1206h0M1101 1175h0M1190 1184h0M1181 1231h0M1119 1228h0M1080 1203h0M1214 1286h0M1196 1183h0M1100 1184h0M1201 1275h0M1104 1203h0M1133 1240h0M1093 1315h0M1165 1295h0M1156 1287h0M1070 1274h0M1213 1167h0M1224 1227h0M1188 1190h0M1077 1323h0M1104 1328h0M1082 1224h0M1148 1187h0M1113 1285h0M1074 1271h0M1173 1305h0M1187 1165h0M1133 1249h0M1147 1195h0M1115 1238h0M1162 1316h0M1097 1202h0M1192 1263h0M1216 1277h0M1073 1302h0M1188 1314h0M1072 1267h0M1137 1191h0M1108 1254h0M1143 1268h0M1078 1172h0M1080 1186h0M1107 1193h0M1154 1268h0M1095 1326h0M1088 1209h0M1186 1290h0M1147 1229h0M1172 1226h0M1078 1321h0M1208 1203h0M1100 1318h0M1123 1296h0M1101 1262h0M1206 1281h0M1112 1179h0M1076 1226h0M1134 1308h0M1204 1273h0M1194 1195h0M1187 1301h0M1070 1321h0M1157 1306h0M1189 1296h0M1163 1182h0M1151 1251h0M1206 1278h0M1100 1275h0M1125 1282h0M1109 1260h0M1170 1225h0M1074 1174h0M1204 1282h0M1200 1293h0M1118 1145h0M1126 1189h0M1189 1270h0M1089 1218h0M1202 1236h0M1134 1277h0M1137 1207h0M1077 1324h0M1109 1203h0M1179 1297h0M1109 1210h0M1158 1305h0M1196 1193h0M1093 1292h0M1192 1314h0M1203 1314h0M1112 1209h0M1121 1189h0M1128 1215h0M1145 1278h0M1200 1220h0M1157 1235h0M1148 1242h0M1072 1300h0M1196 1191h0M1210 1169h0M1074 1196h0M1145 1213h0M1183 1295h0M1116 1303h0M1210 1285h0M1182 1299h0M1073 1313h0M1222 1190h0M1131 1257h0M1080 1249h0M1203 1212h0M1130 1303h0M1082 1165h0M1197 1273h0M1126 1236h0M1155 1228h0M1178 1296h0M1212 1326h0M1167 1222h0M1088 1228h0M1186 1292h0M1075 1234h0M1187 1280h0M1196 1286h0M1206 1274h0M1071 1236h0M1104 1293h0M1112 1323h0M1083 1220h0M1153 1217h0M1084 1247h0M1229 1264h0M1133 1252h0M1076 1246h0M1166 1192h0M1136 1294h0M1184 1223h0M1237 1264h0M1117 1270h0M1118 1234h0M1179 1284h0M1198 1294h0M1083 1221h0M1077 1231h0M1178 1175h0M1149 1263h0M1090 1170h0M1185 1202h0M1168 1183h0M1204 1248h0M1070 1161h0M1118 1252h0M1094 1201h0M1119 1326h0M1078 1285h0M1206 1323h0M1109 1209h0M1155 1173h0M1167 1193h0M1207 1226h0M1154 1308h0M1102 1233h0M1111 1201h0M1082 1295h0M1215 1317h0M1079 1317h0M1095 1222h0M1227 1250h0M1123 1244h0M1182 1248h0M1237 1225h0M1076 1310h0M1100 1268h0M1104 1218h0M1174 1246h0M1199 1299h0M1141 1304h0M1142 1212h0M1091 1258h0M1074 1174h0M1110 1194h0M1167 1285h0M1132 1274h0M1207 1280h0M1073 1188h0M1191 1248h0M1111 1169h0M1156 1217h0M1209 1291h0M1080 1207h0M1089 1296h0M1182 1193h0M1131 1171h0M1217 1210h0M1196 1212h0M1123 1273h0M1113 1315h0M1102 1250h0M1070 1300h0M1126 1271h0M1083 1253h0M1071 1324h0M1193 1283h0M1070 1319h0M1159 1198h0M1153 1322h0M1161 1287h0M1081 1221h0M1074 1246h0M1086 1323h0M1170 1241h0M1206 1207h0M1079 1319h0M1209 1289h0M1104 1185h0M1179 1319h0M1155 1247h0M1073 1243h0M1081 1314h0M1201 1195h0M1117 1173h0M1186 1309h0M1175 1285h0M1141 1271h0M1223 1249h0M1153 1199h0M1216 1299h0M1164 1315h0M1158 1261h0M1137 1226h0M1149 1187h0M1211 1249h0M1094 1258h0M1218 1242h0M1206 1247h0M1077 1281h0M1101 1309h0M1126 1207h0M1151 1324h0M1157 1197h0M1178 1258h0M1114 1226h0M1124 1280h0M1106 1207h0M1177 1233h0M1189 1203h0M1156 1247h0M1135 1247h0M1189 1325h0M1096 1248h0M1080 1177h0M1165 1305h0M1170 1244h0M1128 1189h0M1150 1290h0M1141 1311h0M1075 1219h0M1153 1190h0M1087 1196h0M1182 1196h0M1189 1295h0M1092 1229h0M1144 1277h0M1146 1291h0M1146 1232h0M1182 1290h0M1138 1300h0M1128 1301h0M1213 1201h0M1164 1324h0M1232 1241h0M1088 1272h0M1103 1244h0M1203 1157h0M1205 1244h0M1203 1252h0M1218 1191h0M1086 1253h0M1200 1237h0M1208 1278h0M1205 1299h0M1124 1303h0M1192 1243h0M1136 1280h0M1087 1311h0M1080 1200h0M1126 1202h0M1085 1190h0M1201 1279h0M1227 1191h0M1175 1319h0M1128 1286h0M1195 1180h0M1113 1231h0M1079 1272h0M1084 1261h0M1202 1206h0M1208 1264h0M1072 1279h0M1149 1225h0M1089 1226h0M1130 1166h0M1083 1192h0M1073 1282h0M1139 1265h0M1074 1189h0M1077 1195h0M1077 1285h0M1183 1319h0M1210 1253h0M1193 1252h0M1213 1270h0M1191 1211h0M1212 1227h0M1147 1248h0M1167 1304h0M1088 1262h0M1137 1248h0M1168 1305h0M1083 1165h0M1220 1322h0M1196 1222h0M1108 1216h0M1188 1249h0M1130 1229h0M1229 1247h0M1192 1195h0M1195 1188h0M1080 1215h0M1116 1282h0M1216 1316h0M1126 1300h0M1079 1192h0M1161 1327h0M1074 1287h0M1207 1204h0M1097 1323h0M1082 1216h0M1146 1207h0M1118 1231h0M1071 1315h0M1152 1184h0M1166 1155h0M1159 1243h0M1071 1254h0M1084 1176h0M1179 1240h0M1153 1313h0M1073 1324h0M1070 1225h0M1192 1191h0M1202 1223h0M1087 1207h0M1184 1198h0M1104 1228h0M1212 1196h0M1082 1318h0M1139 1225h0M1080 1256h0M1194 1242h0M1185 1181h0M1127 1322h0M1223 1253h0M1075 1302h0M1180 1295h0M1200 1321h0M1086 1172h0M1240 1313h0M1176 1166h0M1109 1292h0M1211 1309h0M1095 1205h0M1154 1214h0M1086 1276h0M1168 1276h0M1107 1256h0M1132 1237h0M1213 1218h0M1138 1296h0M1097 1290h0M1115 1231h0M1096 1318h0M1118 1271h0M1073 1262h0M1155 1240h0M1091 1223h0M1173 1253h0M1093 1232h0M1122 1238h0M1191 1209h0M1138 1293h0M1133 1178h0M1167 1315h0M1162 1301h0M1183 1189h0M1192 1294h0M1221 1252h0M1208 1216h0M1163 1237h0M1132 1210h0M1227 1218h0M1163 1256h0M1233 1169h0M1075 1320h0M1133 1212h0M1070 1153h0M1202 1259h0M1080 1310h0M1091 1248h0M1123 1164h0M1133 1306h0M1174 1250h0M1083 1203h0M1166 1202h0M1205 1250h0M1081 1204h0M1123 1224h0M1100 1200h0M1228 1160h0M1070 1190h0M1091 1325h0M1181 1186h0M1082 1186h0M1109 1218h0M1123 1160h0M1127 1254h0M1089 1206h0M1080 1323h0M1161 1251h0M1154 1233h0M1236 1197h0M1205 1191h0M1193 1299h0M1070 1263h0M1078 1294h0M1114 1320h0M1235 1286h0M1186 1252h0M1093 1212h0M1185 1292h0M1160 1194h0M1165 1285h0M1102 1177h0M1225 1185h0M1077 1235h0M1133 1219h0M1110 1292h0M1220 1179h0M1161 1288h0M1123 1278h0M1075 1301h0M1188 1326h0M1205 1199h0M1194 1306h0M1075 1314h0M1188 1273h0M1153 1208h0M1179 1317h0M1133 1204h0M1150 1229h0M1092 1176h0M1179 1186h0M1213 1323h0M1199 1278h0M1096 1272h0M1177 1246h0M1191 1290h0M1207 1290h0M1159 1159h0M1188 1188h0M1185 1230h0M1115 1315h0M1127 1321h0M1178 1256h0M1109 1182h0M1118 1276h0M1086 1219h0M1107 1293h0M1071 1203h0M1122 1322h0M1203 1237h0M1111 1269h0M1183 1206h0M1125 1175h0M1172 1317h0M1121 1243h0M1082 1177h0M1179 1206h0M1112 1268h0M1099 1231h0M1193 1299h0M1075 1306h0M1202 1291h0M1111 1178h0M1157 1175h0M1222 1203h0M1113 1273h0M1120 1308h0M1193 1267h0M1100 1164h0M1224 1310h0M1145 1325h0M1200 1181h0M1075 1234h0M1183 1292h0M1115 1215h0M1097 1286h0M1143 1316h0M1167 1260h0M1087 1183h0M1079 1277h0M1172 1272h0M1159 1321h0M1172 1211h0M1123 1211h0M1120 1244h0M1109 1270h0M1201 1260h0M1197 1245h0M1212 1257h0M1121 1278h0M1204 1295h0M1214 1260h0M1198 1308h0M1104 1272h0M1208 1199h0M1182 1187h0M1115 1195h0M1093 1277h0M1107 1202h0M1208 1243h0M1070 1222h0M1142 1315h0M1185 1209h0M1174 1176h0M1225 1199h0M1083 1308h0M1093 1303h0M1160 1243h0M1109 1282h0M1221 1183h0M1081 1309h0M1156 1311h0M1119 1318h0M1220 1289h0M1196 1257h0M1137 1314h0M1132 1238h0M1093 1279h0M1225 1249h0M1158 1320h0M1163 1182h0M1090 1258h0M1176 1290h0M1248 1305h0M1180 1229h0M1073 1218h0M1200 1278h0M1105 1254h0M1085 1177h0M1122 1271h0M1079 1208h0M1076 1319h0M1140 1318h0M1074 1164h0M1085 1295h0M1110 1187h0M1196 1287h0M1143 1278h0M1072 1225h0M1130 1305h0M1080 1318h0M1086 1236h0M1131 1314h0M1116 1291h0M1127 1249h0M1192 1306h0M1110 1324h0M1208 1256h0M1081 1216h0M1124 1322h0M1079 1289h0M1090 1312h0M1083 1181h0M1077 1198h0M1083 1278h0M1209 1271h0M1081 1207h0M1180 1238h0M1107 1309h0M1226 1311h0M1113 1323h0M1100 1317h0M1201 1237h0M1182 1319h0M1169 1168h0M1107 1223h0M1073 1195h0M1195 1273h0M1074 1287h0M1190 1203h0M1183 1237h0M1158 1186h0M1169 1251h0M1101 1246h0M1117 1288h0M1123 1308h0M1091 1192h0M1145 1314h0M1121 1241h0M1149 1251h0M1175 1325h0M1069 1316h0M1103 1206h0M1157 1220h0M1088 1178h0M1080 1298h0M1110 1279h0M1103 1165h0M1115 1323h0M1092 1270h0M1206 1320h0M1210 1191h0M1075 1281h0M1200 1303h0M1205 1293h0M1143 1169h0M1124 1280h0M1115 1200h0M1131 1289h0M1081 1206h0M1168 1169h0M1159 1323h0M1204 1249h0M1112 1200h0M1157 1259h0M1171 1303h0M1134 1324h0M1138 1191h0M1158 1294h0M1127 1312h0M1204 1311h0M1159 1321h0M1125 1221h0M1172 1324h0M1179 1209h0M1075 1310h0M1079 1249h0M1128 1168h0M1216 1306h0M1172 1293h0M1182 1202h0M1128 1268h0M1195 1226h0M1102 1185h0M1146 1272h0M1167 1312h0M1121 1246h0M1172 1190h0M1150 1311h0M1223 1282h0M1158 1267h0M1157 1241h0M1101 1205h0M1095 1171h0M1105 1313h0M1182 1252h0M1123 1326h0M1135 1187h0M1155 1228h0M1193 1269h0M1196 1318h0M1177 1237h0M1191 1323h0M1084 1181h0M1203 1190h0M1172 1209h0M1078 1185h0M1154 1227h0M1075 1249h0M1104 1257h0M1142 1238h0M1157 1259h0M1188 1195h0M1099 1292h0M1170 1268h0M1145 1314h0M1222 1202h0M1149 1181h0M1127 1154h0M1083 1238h0M1094 1272h0M1184 1179h0M1156 1197h0M1132 1263h0M1153 1137h0M1124 1283h0M1074 1326h0M1219 1299h0M1161 1173h0M1169 1185h0M1071 1303h0M1164 1287h0M1183 1319h0M1105 1244h0M1181 1261h0M1139 1195h0M1204 1291h0M1192 1325h0M1218 1187h0M1136 1222h0M1080 1322h0M1153 1312h0M1147 1248h0M1148 1212h0M1138 1243h0M1069 1284h0M1134 1307h0M1138 1322h0M1211 1254h0M1142 1239h0M1140 1251h0M1142 1171h0M1218 1194h0M1080 1317h0M1177 1169h0M1108 1153h0M1071 1314h0M1187 1231h0M1171 1210h0M1070 1220h0M1073 1310h0M1110 1180h0M1076 1168h0M1108 1246h0M1168 1191h0M1149 1281h0M1080 1161h0M1140 1305h0M1158 1322h0M1127 1181h0M1070 1321h0M1163 1174h0M1072 1196h0M1175 1266h0M1076 1217h0M1077 1304h0M1182 1248h0M1207 1322h0M1165 1284h0M1198 1284h0M1149 1186h0M1126 1237h0M1216 1175h0M1121 1314h0M1185 1174h0M1089 1280h0M1122 1241h0M1120 1275h0M1106 1196h0M1208 1277h0M1169 1181h0M1171 1240h0M1204 1275h0M1213 1288h0M1209 1170h0M1159 1294h0M1166 1232h0M1123 1301h0M1166 1179h0M1199 1272h0M1073 1205h0M1110 1282h0M1165 1256h0M1142 1278h0M1085 1170h0M1111 1327h0M1096 1172h0M1222 1249h0M1203 1221h0M1150 1221h0M1169 1258h0M1164 1221h0M1121 1265h0M1185 1202h0M1172 1304h0M1100 1300h0M1086 1308h0M1198 1230h0M1093 1171h0M1082 1213h0M1219 1314h0M1093 1298h0M1236 1277h0M1084 1207h0M1078 1184h0M1156 1298h0M1160 1319h0M1138 1247h0M1176 1238h0M1069 1179h0M1160 1253h0M1151 1301h0M1160 1200h0M1134 1208h0M1183 1283h0M1083 1247h0M1156 1314h0M1158 1210h0M1204 1174h0M1226 1291h0M1097 1225h0M1103 1304h0M1209 1231h0M1100 1323h0M1101 1282h0M1160 1305h0M1076 1214h0M1090 1202h0M1128 1212h0M1206 1254h0M1103 1157h0M1138 1315h0M1144 1277h0M1230 1243h0M1183 1191h0M1121 1233h0M1175 1139h0M1193 1205h0M1193 1175h0M1109 1194h0M1089 1243h0M1129 1248h0M1096 1310h0M1180 1236h0M1191 1318h0M1076 1225h0M1192 1224h0M1094 1315h0M1105 1249h0M1130 1257h0M1181 1294h0M1194 1227h0M1174 1315h0M1086 1264h0M1123 1298h0M1154 1203h0M1153 1275h0M1071 1203h0M1150 1305h0M1075 1228h0M1194 1324h0M1083 1264h0M1087 1327h0M1179 1194h0M1125 1317h0M1207 1280h0M1075 1254h0M1161 1280h0M1108 1258h0M1135 1241h0M1173 1197h0M1163 1284h0M1170 1251h0M1088 1190h0M1180 1206h0M1083 1164h0M1204 1326h0M1238 1191h0M1139 1252h0M1204 1205h0M1196 1233h0M1192 1267h0M1076 1224h0M1081 1211h0M1198 1320h0M1088 1300h0M1188 1217h0M1136 1267h0M1178 1288h0M1163 1300h0M1116 1223h0M1134 1248h0M1154 1202h0M1130 1205h0M1083 1184h0M1072 1200h0M1075 1289h0M1118 1315h0M1185 1194h0M1191 1230h0M1083 1263h0M1125 1290h0M1159 1265h0M1142 1274h0M1224 1208h0M1159 1288h0M1141 1276h0M1178 1243h0M1078 1172h0M1078 1255h0M1075 1300h0M1096 1283h0M1077 1325h0M1122 1190h0M1217 1227h0M1077 1298h0M1210 1257h0M1117 1321h0M1135 1220h0M1174 1278h0M1221 1243h0M1203 1179h0M1104 1316h0M1078 1308h0M1107 1226h0M1141 1325h0M1208 1187h0M1217 1241h0M1211 1194h0M1079 1172h0M1141 1290h0M1127 1286h0M1089 1254h0M1077 1327h0M1203 1265h0M1199 1214h0M1078 1327h0M1203 1182h0M1194 1167h0M1172 1285h0M1123 1198h0M1185 1328h0M1158 1202h0M1156 1272h0M1203 1245h0M1114 1262h0M1136 1176h0M1081 1314h0M1140 1256h0M1196 1241h0M1073 1265h0M1096 1235h0M1180 1243h0M1190 1321h0M1078 1207h0M1213 1310h0M1083 1265h0M1099 1289h0M1079 1191h0M1072 1275h0M1173 1225h0M1092 1272h0M1087 1197h0M1209 1288h0M1200 1217h0M1109 1250h0M1183 1164h0M1163 1158h0M1106 1182h0M1154 1227h0M1078 1319h0M1082 1321h0M1106 1251h0M1076 1213h0M1082 1257h0M1113 1309h0M1182 1187h0M1146 1207h0M1130 1193h0M1087 1297h0M1162 1281h0M1094 1317h0M1115 1195h0M1074 1268h0M1091 1231h0M1206 1256h0M1199 1287h0M1116 1206h0M1113 1288h0M1219 1285h0M1195 1300h0M1152 1218h0M1090 1284h0M1155 1327h0M1088 1214h0M1123 1239h0M1186 1294h0M1075 1327h0M1223 1261h0M1162 1318h0M1111 1212h0M1079 1261h0M1184 1314h0M1227 1311h0M1120 1225h0M1182 1317h0M1162 1278h0M1102 1241h0M1137 1282h0M1076 1196h0M1148 1319h0M1186 1264h0M1137 1310h0M1131 1262h0M1156 1298h0M1131 1327h0M1154 1213h0M1198 1279h0M1086 1243h0M1203 1286h0M1150 1315h0M1188 1237h0M1173 1222h0M1073 1195h0M1137 1308h0M1101 1213h0M1092 1259h0M1086 1172h0M1149 1269h0M1097 1319h0M1152 1283h0M1072 1214h0M1100 1231h0M1181 1245h0M1137 1324h0M1073 1202h0M1108 1271h0M1169 1216h0M1099 1207h0M1139 1236h0M1197 1238h0M1249 1326h0M1085 1215h0M1176 1227h0M1084 1246h0M1123 1209h0M1138 1302h0M1074 1215h0M1120 1275h0M1083 1212h0M1217 1290h0M1086 1269h0M1172 1289h0M1199 1321h0M1119 1284h0M1109 1209h0M1084 1187h0M1070 1320h0M1214 1267h0M1109 1298h0M1198 1180h0M1188 1233h0M1098 1246h0M1069 1281h0M1137 1315h0M1183 1296h0M1081 1197h0M1197 1232h0M1125 1298h0M1126 1195h0M1177 1173h0M1139 1303h0M1159 1157h0M1176 1306h0M1097 1304h0M1182 1296h0M1200 1278h0M1078 1255h0M1172 1214h0M1072 1248h0M1232 1258h0M1191 1315h0M1075 1224h0M1169 1266h0M1071 1316h0M1090 1228h0M1202 1234h0M1125 1319h0M1072 1192h0M1105 1212h0M1082 1318h0M1163 1325h0M1102 1249h0M1139 1253h0M1090 1280h0M1079 1185h0M1080 1258h0M1199 1298h0M1157 1257h0M1174 1272h0M1076 1197h0M1083 1317h0M1198 1234h0M1106 1176h0M1111 1227h0M1179 1205h0M1151 1191h0M1204 1242h0M1143 1314h0M1163 1301h0M1163 1323h0M1167 1322h0M1225 1298h0M1200 1220h0M1128 1232h0M1145 1276h0M1137 1187h0M1182 1268h0M1124 1283h0M1096 1243h0M1180 1296h0M1155 1229h0M1158 1253h0M1114 1305h0M1086 1249h0M1158 1248h0M1114 1175h0M1219 1177h0M1156 1282h0M1166 1322h0M1146 1269h0M1181 1246h0M1121 1256h0M1108 1238h0M1097 1243h0M1097 1272h0M1087 1226h0M1188 1214h0M1103 1246h0M1160 1224h0M1154 1249h0M1113 1257h0M1129 1295h0M1142 1252h0M1113 1251h0M1096 1259h0M1156 1253h0M1091 1187h0M1151 1326h0M1246 1251h0M1114 1222h0M1147 1214h0M1189 1171h0M1100 1203h0M1097 1308h0M1208 1171h0M1188 1307h0M1137 1279h0M1126 1221h0M1121 1234h0M1170 1316h0M1076 1253h0M1180 1326h0M1169 1191h0M1158 1234h0M1127 1235h0M1154 1270h0M1080 1294h0M1090 1255h0M1246 1233h0M1134 1248h0M1161 1289h0M1144 1318h0M1113 1247h0M1115 1299h0M1132 1246h0M1123 1324h0M1169 1226h0M1146 1303h0M1104 1254h0M1077 1253h0M1133 1212h0M1225 1244h0M1143 1324h0M1136 1183h0M1169 1229h0M1110 1272h0M1179 1303h0M1221 1285h0M1090 1312h0M1201 1245h0M1205 1184h0M1179 1209h0M1081 1233h0M1145 1316h0M1098 1192h0M1121 1198h0M1125 1271h0M1088 1291h0M1142 1249h0M1082 1314h0M1161 1231h0M1087 1285h0M1190 1208h0M1079 1220h0M1192 1207h0M1080 1242h0M1105 1310h0M1094 1222h0M1135 1288h0M1112 1305h0M1083 1254h0M1231 1253h0M1154 1217h0M1148 1182h0M1261 1142h0M1177 1230h0M1141 1237h0M1193 1234h0M1156 1227h0M1230 1238h0M1143 1273h0M1210 1223h0M1109 1188h0M1128 1264h0M1253 1195h0M1136 1204h0M1137 1239h0M1174 1250h0M1075 1297h0M1215 1318h0M1138 1318h0M1083 1210h0M1094 1276h0M1175 1219h0M1157 1277h0M1179 1239h0M1104 1265h0M1182 1241h0M1236 1243h0M1204 1213h0M1110 1300h0M1095 1235h0M1179 1196h0M1148 1248h0M1191 1169h0M1117 1212h0M1073 1234h0M1081 1228h0M1176 1270h0M1251 1212h0M1201 1228h0M1110 1165h0M1195 1287h0M1074 1220h0M1125 1262h0M1124 1247h0M1152 1227h0M1239 1232h0M1162 1310h0M1141 1245h0M1119 1283h0M1231 1206h0M1097 1248h0M1091 1201h0M1144 1168h0M1110 1270h0M1106 1233h0M1191 1290h0M1268 1267h0M1240 1248h0M1162 1280h0M1122 1283h0M1087 1218h0M1222 1321h0M1144 1188h0M1094 1254h0M1092 1234h0M1120 1301h0M1196 1291h0M1225 1199h0M1075 1323h0M1113 1267h0M1151 1201h0M1074 1204h0M1204 1326h0M1121 1098h0M1078 1324h0M1078 1237h0M1086 1299h0M1153 1291h0M1196 1223h0M1100 1200h0M1076 1298h0M1077 1267h0M1081 1216h0M1213 1249h0M1171 1257h0M1192 1228h0M1139 1211h0M1071 1285h0M1212 1317h0M1144 1318h0M1083 1297h0M1072 1272h0M1073 1266h0M1186 1309h0M1169 1260h0M1143 1176h0M1149 1277h0M1238 1284h0M1101 1242h0M1076 1238h0M1170 1254h0M1114 1224h0M1193 1261h0M1076 1228h0M1083 1147h0M1113 1246h0M1176 1267h0M1103 1202h0M1075 1250h0M1116 1201h0M1160 1208h0M1134 1214h0M1089 1226h0M1078 1160h0M1101 1211h0M1167 1243h0M1138 1179h0M1159 1197h0M1130 1225h0M1116 1215h0M1098 1237h0M1134 1311h0M1162 1261h0M1072 1242h0M1082 1230h0M1207 1246h0M1181 1249h0M1091 1151h0M1085 1318h0M1251 1271h0M1119 1241h0M1154 1212h0M1237 1320h0M1110 1214h0M1106 1239h0M1173 1325h0M1085 1249h0M1094 1196h0M1154 1281h0M1193 1217h0M1103 1191h0M1086 1256h0M1153 1223h0M1199 1311h0M1137 1172h0M1094 1313h0M1087 1202h0M1109 1218h0M1138 1225h0M1155 1240h0M1159 1294h0M1217 1200h0M1192 1228h0M1210 1230h0M1296 1278h0M1194 1297h0M1111 1252h0M1107 1256h0M1230 1222h0M1080 1243h0M1118 1306h0M1167 1248h0M1136 1238h0M1122 1236h0M1121 1262h0M1199 1256h0M1142 1227h0M1133 1177h0M1170 1248h0M1103 1239h0M1108 1254h0M1168 1304h0M1140 1276h0M1164 1279h0M1181 1178h0M1111 1228h0M1195 1236h0M1091 1327h0M1146 1313h0M1125 1304h0M1147 1289h0M1195 1210h0M1205 1146h0M1150 1304h0M1177 1253h0M1155 1313h0M1111 1241h0M1129 1288h0M1070 1258h0M1129 1227h0M1152 1210h0M1081 1239h0M1252 1151h0M1077 1238h0M1090 1272h0M1128 1266h0M1142 1247h0M1094 1313h0M1089 1268h0M1196 1309h0M1162 1223h0M1104 1264h0M1200 1318h0M1175 1254h0M1097 1280h0M1106 1287h0M1088 1177h0M1078 1200h0M1075 1261h0M1071 1247h0M1096 1212h0M1143 1188h0M1154 1175h0M1119 1261h0M1084 1319h0M1187 1198h0M1081 1241h0M1149 1228h0M1077 1194h0M1072 1285h0M1271 1200h0M1145 1321h0M1203 1206h0M1162 1300h0M1182 1188h0M1083 1213h0M1250 1205h0M1224 1304h0M1224 1292h0M1076 1231h0M1094 1227h0M1183 1290h0M1173 1264h0M1260 1267h0M1151 1264h0M1159 1248h0M1161 1200h0M1138 1209h0M1164 1230h0M1135 1284h0M1148 1323h0M1124 1269h0M1164 1220h0M1150 1245h0M1180 1203h0M1091 1262h0M1140 1183h0M1162 1254h0M1142 1234h0M1103 1279h0M1106 1283h0M1103 1264h0M1078 1288h0M1137 1267h0M1219 1266h0M1120 1184h0M1139 1199h0M1173 1217h0M1173 1325h0M1168 1289h0M1121 1277h0M1246 1306h0M1070 1313h0M1150 1255h0M1072 1244h0M1132 1190h0M1095 1294h0M1144 1300h0M1095 1244h0M1136 1262h0M1083 1226h0M1105 1207h0M1081 1285h0M1162 1226h0M1111 1248h0M1160 1219h0M1146 1237h0M1205 1324h0M1115 1212h0M1070 1312h0M1093 1233h0M1152 1319h0M1163 1230h0M1074 1246h0M1141 1231h0M1119 1209h0M1127 1294h0M1227 1280h0M1093 1245h0M1122 1229h0M1155 1165h0M1118 1227h0M1222 1290h0M1130 1217h0M1073 1243h0M1084 1215h0M1106 1248h0"/>
<path stroke="#333" stroke-width="6" d="M1173 1297h0M1121 1194h0M1209 1241h0M1124 1257h0M1074 1238h0M1088 1249h0M1172 1322h0M1083 1246h0M1069 1253h0M1213 1198h0M1109 1187h0M1168 1276h0M1157 1287h0M1116 1183h0M1094 1243h0M1284 1268h0M1172 1253h0M1086 1301h0M1149 1252h0M1080 1160h0M1138 1218h0M1184 1154h0M1126 1280h0M1217 1234h0M1194 1282h0M1217 1252h0M1086 1270h0M1103 1211h0M1078 1288h0M1091 1308h0M1161 1284h0M1310 1251h0M1154 1269h0M1075 1236h0M1100 1195h0M1075 1269h0M1214 1140h0M1204 1320h0M1198 1218h0M1324 1263h0M1117 1309h0M1098 1175h0M1184 1311h0M1079 1223h0M1179 1233h0M1130 1259h0M1244 1291h0M1116 1266h0M1207 1266h0M1317 1221h0M1125 1262h0M1110 1202h0M1104 1268h0M1141 1230h0M1188 1184h0M1278 1226h0M1075 1212h0M1261 1253h0M1207 1201h0M1173 1215h0M1280 1213h0M1080 1311h0M1219 1226h0M1164 1292h0M1236 1326h0M1251 1272h0M1181 1232h0M1230 1266h0M1093 1314h0M1108 1158h0M1167 1155h0M1105 1186h0M1151 1283h0M1116 1148h0M1217 1224h0M1118 1189h0M1172 1277h0M1077 1274h0M1157 1294h0M1253 1231h0M1067 1245h0M1166 1237h0M1206 1299h0M1093 1221h0M1226 1226h0M1141 1296h0M1067 1233h0M1167 1256h0M1134 1282h0M1211 1211h0M1124 1306h0M1070 1315h0M1086 1210h0M1077 1178h0M1084 1275h0M1073 1236h0M1269 1158h0M1217 1181h0M1101 1155h0M1138 1232h0M1266 1214h0M1161 1211h0M1075 1214h0M1087 1169h0M1154 1069h0M1217 1249h0M1226 1305h0M1121 1303h0M1150 1329h0M1222 1177h0M1188 1263h0M1161 1172h0M1242 1276h0M1247 1247h0M1097 1187h0M1176 1267h0M1128 1242h0M1113 1276h0M1209 1259h0M1110 1251h0M1176 1212h0M1228 1222h0M1145 1205h0M1254 1329h0M1233 1282h0M1212 1192h0M1157 1327h0M1101 1241h0M1296 1254h0M1079 1232h0M1080 1142h0M1219 1250h0M1225 1329h0M1203 1271h0M1111 1260h0M1125 1223h0M1148 1321h0M1156 1251h0M1202 1250h0M1194 1267h0M1170 1232h0M1130 1282h0M1236 1173h0M1227 1302h0M1175 1181h0M1258 1296h0M1151 1283h0M1125 1240h0M1135 1277h0M1183 1250h0M1218 1215h0M1132 1152h0M1160 1267h0M1085 1277h0M1148 1274h0M1171 1179h0M1115 1238h0M1230 1204h0M1256 1158h0M1137 1202h0M1168 1241h0M1179 1271h0M1162 1190h0M1194 1250h0M1069 1216h0M1226 1253h0M1210 1158h0M1079 1288h0M1132 1210h0M1279 1192h0M1119 1312h0M1240 1151h0M1133 1282h0M1248 1323h0M1119 1245h0M1074 1254h0M1074 1284h0M1080 1214h0M1130 1305h0M1181 1232h0M1180 1263h0M1125 1274h0M1108 1203h0M1140 1254h0M1115 1191h0M1073 1259h0M1089 1240h0M1162 1257h0M1071 1223h0M1161 1315h0M1129 1140h0M1132 1217h0M1291 1214h0M1267 1228h0M1176 1239h0M1205 1213h0M1159 1182h0M1142 1210h0M1165 1201h0M1190 1245h0M1186 1273h0M1153 1266h0M1091 1230h0M1106 1172h0M1079 1309h0M1164 1322h0M1177 1175h0M1168 1240h0M1109 1218h0M1219 1287h0M1152 1257h0M1141 1272h0M1108 1323h0M1210 1270h0M1079 1278h0M1172 1140h0M1102 1232h0M1070 1214h0M1260 1163h0M1073 1265h0M1076 1303h0M1153 1253h0M1131 1221h0M1238 1232h0M1167 1164h0M1186 1161h0M1164 1147h0M1166 1224h0M1147 1179h0M1195 1196h0M1071 1294h0M1147 1162h0M1103 1255h0M1144 1220h0M1073 1183h0M1122 1248h0M1120 1227h0M1129 1215h0M1077 1212h0M1077 1282h0M1255 1229h0M1071 1263h0M1284 1159h0M1248 1265h0M1178 1222h0M1082 1215h0M1080 1274h0M1084 1217h0M1170 1196h0M1142 1326h0M1192 1255h0M1086 1302h0M1150 1299h0M1126 1187h0M1229 1189h0M1149 1285h0M1181 1157h0M1171 1312h0M1134 1235h0M1156 1189h0M1194 1202h0M1118 1240h0M1099 1245h0M1110 1296h0M1085 1271h0M1191 1200h0M1199 1176h0M1108 1206h0M1119 1229h0M1196 1313h0M1210 1250h0M1084 1194h0M1072 1157h0M1234 1279h0M1069 1212h0M1087 1134h0M1107 1237h0M1166 1237h0M1079 1187h0M1091 1269h0M1182 1274h0M1153 1289h0M1086 1201h0M1198 1259h0M1102 1299h0M1198 1203h0M1142 1261h0M1168 1250h0M1149 1231h0M1077 1217h0M1223 1191h0M1213 1272h0M1078 1243h0M1145 1221h0M1098 1293h0M1082 1244h0M1150 1167h0M1184 1235h0M1117 1218h0M1100 1207h0"/>
<path stroke="#000" stroke-width="8" d="M1339 1273h0M1409 1224h0M1339 1171h0M1342 1310h0M1350 1219h0M1369 1168h0M1363 1231h0M1396 1237h0M1398 1230h0M1347 1254h0M1389 1240h0M1335 1294h0M1397 1270h0M1380 1181h0M1345 1279h0M1460 1153h0M1425 1258h0M1387 1241h0M1411 1260h0M1417 1225h0M1387 1233h0M1350 1230h0M1361 1261h0M1383 1311h0M1390 1219h0M1424 1241h0M1367 1226h0M1416 1218h0M1377 1269h0M1445 1305h0M1387 1283h0M1389 1215h0M1372 1241h0M1399 1230h0M1376 1253h0M1390 1314h0M1409 1257h0M1438 1229h0M1436 1281h0M1445 1284h0M1372 1302h0M1401 1261h0M1371 1254h0M1294 1179h0M1409 1237h0M1362 1265h0M1417 1275h0M1353 1282h0M1391 1253h0M1422 1275h0M1416 1254h0M1354 1232h0M1412 1194h0M1368 1215h0M1354 1236h0M1381 1201h0M1394 1205h0M1421 1254h0M1352 1250h0M1336 1245h0M1329 1255h0M1421 1184h0M1370 1265h0M1398 1219h0M1415 1259h0M1343 1290h0M1338 1218h0M1384 1178h0M1380 1254h0M1417 1191h0M1390 1254h0M1359 1181h0M1360 1242h0M1373 1257h0M1360 1223h0M1366 1214h0M1321 1211h0M1368 1218h0M1332 1213h0M1386 1278h0M1357 1226h0M1357 1244h0M1362 1292h0M1400 1270h0M1380 1240h0M1435 1248h0M1439 1259h0M1392 1224h0M1372 1117h0M1420 1240h0M1362 1245h0M1319 1228h0M1346 1272h0M1426 1229h0M1435 1253h0M1403 1229h0M1387 1220h0M1403 1196h0M1379 1281h0M1394 1141h0M1355 1244h0M1416 1236h0M1410 1283h0M1343 1233h0M1412 1225h0M1402 1290h0M1367 1250h0M1361 1292h0M1430 1151h0M1390 1171h0M1329 1237h0M1485 1211h0M1369 1260h0M1389 1252h0M1422 1246h0M1344 1225h0M1372 1206h0M1366 1226h0M1396 1198h0M1399 1225h0M1361 1217h0M1415 1235h0M1364 1209h0M1388 1204h0M1368 1265h0M1418 1184h0M1390 1289h0M1412 1212h0M1388 1226h0M1359 1279h0M1404 1248h0M1412 1278h0M1390 1248h0M1395 1173h0M1374 1237h0M1306 1270h0M1387 1244h0M1376 1274h0M1405 1226h0M1332 1279h0M1428 1266h0M1412 1235h0M1378 1254h0M1377 1161h0M1331 1283h0M1343 1197h0M1408 1284h0M1369 1231h0M1344 1197h0M1335 1220h0M1394 1201h0M1332 1246h0M1392 1236h0M1409 1239h0M1417 1223h0M1368 1209h0M1387 1249h0M1364 1257h0M1404 1245h0M1346 1255h0M1342 1199h0M1380 1255h0M1385 1239h0M1400 1276h0M1364 1256h0M1390 1241h0M1433 1194h0M1398 1288h0M1454 1256h0M1382 1222h0M1332 1248h0M1422 1242h0M1366 1241h0M1387 1247h0M1434 1268h0M1431 1233h0M1411 1192h0M1364 1243h0M1359 1227h0M1373 1228h0M1409 1176h0M1455 1207h0M1277 1272h0M1396 1282h0M1350 1298h0M1358 1267h0M1390 1251h0M1490 1180h0M1424 1310h0M1381 1222h0M1403 1168h0M1398 1224h0M1383 1202h0M1349 1174h0M1341 1231h0M1355 1311h0M1331 1249h0M1352 1219h0M1392 1234h0M1423 1271h0M1389 1202h0M1357 1284h0M1383 1311h0M1427 1203h0M1377 1265h0M1383 1278h0M1370 1280h0M1332 1288h0M1384 1266h0M1365 1183h0M1324 1255h0M1392 1268h0M1331 1226h0M1319 1297h0M1326 1266h0M1328 1215h0M1335 1232h0M1402 1279h0M1360 1278h0M1359 1252h0M1412 1218h0M1435 1252h0M1428 1198h0M1385 1237h0M1434 1260h0M1348 1326h0M1398 1218h0M1419 1279h0M1410 1319h0M1386 1194h0M1415 1270h0M1363 1192h0M1340 1238h0M1475 1233h0M1386 1256h0M1391 1201h0M1364 1224h0M1438 1217h0M1362 1237h0M1369 1217h0M1421 1280h0M1405 1258h0M1420 1232h0M1420 1284h0M1380 1250h0M1400 1242h0M1331 1217h0M1380 1259h0M1370 1289h0M1340 1195h0M1385 1209h0M1394 1266h0M1368 1249h0M1352 1256h0M1361 1204h0M1351 1257h0M1372 1273h0M1371 1301h0M1410 1264h0M1373 1245h0M1390 1200h0M1409 1235h0M1315 1248h0M1332 1226h0M1314 1225h0M1349 1305h0M1358 1176h0M1454 1259h0M1354 1252h0M1412 1259h0M1378 1250h0M1312 1304h0M1341 1262h0M1397 1220h0M1334 1272h0M1345 1209h0M1397 1291h0M1372 1240h0M1431 1124h0M1358 1290h0M1386 1243h0M1427 1187h0M1386 1180h0M1391 1176h0M1396 1208h0M1364 1302h0M1368 1255h0M1362 1265h0M1391 1251h0M1361 1229h0M1343 1225h0M1380 1270h0M1404 1247h0M1425 1255h0M1416 1214h0M1312 1220h0M1399 1274h0M1378 1211h0M1365 1240h0M1343 1199h0M1317 1233h0M1354 1274h0M1370 1238h0M1359 1256h0M1361 1204h0M1369 1221h0M1387 1241h0M1436 1212h0M1416 1316h0M1447 1254h0M1380 1215h0M1412 1239h0M1413 1214h0M1407 1212h0M1378 1278h0M1369 1229h0M1351 1249h0M1303 1224h0M1397 1283h0M1388 1263h0M1351 1213h0M1348 1207h0M1362 1281h0M1405 1155h0M1324 1327h0M1359 1161h0M1424 1243h0M1377 1236h0M1406 1232h0M1390 1247h0"/>
<path stroke="#444" stroke-width="6" d="M1330 1208h0M1251 1209h0M1397 1211h0M1268 1295h0M1381 1202h0M1288 1242h0M1405 1265h0M1426 1241h0M1346 1186h0M1320 1267h0M1273 1259h0M1407 1233h0M1394 1198h0M1259 1228h0M1353 1172h0M1412 1217h0M1301 1203h0M1316 1198h0M1285 1211h0M1243 1286h0M1362 1259h0M1399 1320h0M1371 1253h0M1277 1239h0M1242 1321h0M1452 1246h0M1372 1203h0M1255 1220h0M1373 1283h0M1239 1173h0M1397 1191h0M1344 1202h0M1393 1281h0M1270 1246h0M1357 1255h0M1427 1186h0M1302 1292h0M1405 1180h0M1321 1152h0M1386 1251h0M1339 1263h0M1324 1105h0M1273 1212h0M1315 1272h0M1309 1166h0M1311 1183h0M1352 1254h0M1485 1242h0M1194 1315h0M1357 1267h0M1294 1265h0M1334 1244h0M1355 1140h0M1297 1246h0M1171 1236h0M1450 1178h0M1295 1257h0M1289 1185h0M1241 1166h0M1277 1258h0M1303 1189h0M1353 1189h0M1269 1248h0M1377 1188h0M1357 1298h0M1282 1329h0M1334 1288h0M1269 1233h0M1299 1180h0M1357 1257h0M1294 1129h0M1334 1282h0M1373 1225h0M1289 1224h0M1345 1299h0M1367 1189h0M1396 1163h0M1353 1231h0M1294 1302h0M1371 1212h0M1391 1269h0M1313 1185h0M1395 1155h0M1259 1325h0M1354 1205h0M1294 1205h0M1365 1178h0M1341 1213h0M1304 1267h0M1359 1195h0M1205 1216h0M1275 1208h0M1346 1183h0M1417 1226h0M1416 1221h0M1257 1226h0M1349 1237h0M1449 1297h0M1263 1190h0M1241 1238h0M1303 1202h0M1331 1229h0M1270 1254h0M1326 1256h0M1320 1235h0M1250 1177h0M1246 1243h0M1379 1254h0M1274 1245h0M1425 1267h0M1371 1241h0M1341 1312h0M1405 1267h0M1439 1219h0M1266 1266h0M1279 1299h0M1295 1215h0M1447 1162h0M1372 1204h0M1382 1194h0M1431 1188h0M1278 1280h0M1342 1200h0M1215 1289h0M1470 1207h0M1360 1322h0M1384 1222h0M1402 1258h0M1334 1171h0M1268 1151h0M1385 1224h0M1420 1255h0M1329 1238h0M1363 1235h0M1206 1223h0M1452 1266h0M1418 1310h0M1395 1218h0M1357 1257h0M1424 1249h0M1334 1275h0M1230 1212h0M1349 1207h0M1394 1259h0M1466 1183h0M1397 1220h0M1286 1190h0M1330 1298h0M1328 1262h0M1255 1252h0M1441 1266h0M1354 1173h0M1331 1241h0M1318 1255h0M1243 1191h0M1205 1318h0M1290 1170h0M1350 1188h0M1212 1290h0M1286 1237h0M1324 1171h0M1248 1199h0M1271 1273h0M1293 1261h0M1301 1164h0M1312 1299h0M1309 1238h0M1346 1212h0M1344 1261h0M1391 1199h0M1412 1210h0M1229 1236h0M1295 1231h0M1368 1274h0M1329 1257h0M1227 1327h0M1317 1226h0M1295 1177h0M1420 1204h0M1267 1289h0"/>
<path stroke="#777" stroke-width="5" d="M1175 1105h0M1177 951h0M1238 1042h0M1129 1068h0M1233 1046h0M1214 1020h0M1094 1103h0M1161 1062h0M1268 1088h0M1199 1120h0M1265 1045h0M1174 1118h0M1128 1080h0M1149 1119h0M1217 1006h0M1234 1160h0M1127 951h0M1136 1051h0M1238 1088h0M1119 1100h0M1276 1074h0M1244 1074h0M1072 1035h0M1242 1146h0M1100 1123h0M1214 1136h0M1159 1067h0M1115 1168h0M1261 1047h0M1187 1081h0M1168 1121h0M1094 1063h0M1215 1011h0M1188 1075h0M1160 1137h0M1130 1010h0M1283 1016h0M1183 1012h0M1233 1071h0M1186 1084h0M1205 1100h0M1130 1018h0M1208 1016h0M1136 1096h0M1198 1024h0M1233 1064h0M1199 995h0M1139 1127h0M1164 1028h0M1239 1078h0M1411 1057h0M1404 1193h0M1377 1084h0M1412 1134h0M1425 1021h0M1378 1030h0M1468 947h0M1358 1103h0M1380 922h0M1377 1137h0M1383 1087h0M1463 1088h0M1424 1088h0M1411 1054h0M1423 999h0M1443 1167h0M1396 1045h0M1424 1002h0M1435 1022h0M1423 1045h0M1412 1151h0M1480 1060h0M1368 1025h0M1399 1054h0M1507 1002h0M1440 1008h0M1448 958h0M1397 1137h0M1354 1075h0M1398 950h0M1389 1053h0M1409 1097h0M1429 995h0M1359 1021h0M1410 1094h0"/>
</g>
<rect x="106" y="81.6" width="54.900000000000006" height="51.900000000000006" fill="none" stroke="#555" stroke-width="0.9"/>
<line x1="127.3" y1="81.6" x2="127.3" y2="133.5" stroke="#555" stroke-width="0.8"/>
<line x1="106" y1="113.3" x2="160.9" y2="113.3" stroke="#555" stroke-width="0.8"/>
<text x="160.0" y="89.5" font-size="7.1" text-anchor="end" fill="#000">0.9</text>
<line x1="210.4" y1="124.75" x2="210.4" y2="107.5" stroke="#333" stroke-width="1.1"/>
<line x1="209.9" y1="124.75" x2="228" y2="124.75" stroke="#333" stroke-width="1.1"/>
<path d="M210.4 103.8l2.6 5h-5.2z" fill="#111"/>
<path d="M231.5 124.75l-5 2.6v-5.2z" fill="#111"/>
<text x="190.6" y="118.7" font-size="5.6" text-anchor="start" fill="#333">IFN-γ</text>
<text x="215" y="136.2" font-size="5.6" text-anchor="start" fill="#333">CD8</text>
<text x="245.9" y="12.1" font-size="13.4" text-anchor="start" font-weight="bold" fill="#000">B</text>
<text x="271" y="8" font-size="6.9" text-anchor="start" font-weight="bold" fill="#111">H4/H60 specific T-cell depletion</text>
<text x="403.7" y="8" font-size="6.9" text-anchor="start" font-weight="bold" fill="#111">Mock T-cell depletion</text>
<text x="497.7" y="66" font-size="8.5" text-anchor="start" font-weight="bold" fill="#111">H60</text>
<text x="500.9" y="161.2" font-size="8.5" text-anchor="start" font-weight="bold" fill="#111">OVA</text>
<line x1="261.2" y1="181" x2="261.2" y2="31" stroke="#444" stroke-width="1.2"/>
<path d="M261.2 27l2.3 5h-4.6z" fill="#111"/>
<line x1="303.3" y1="214.1" x2="475" y2="214.1" stroke="#444" stroke-width="1.3"/>
<path d="M479.8 214.1l-5.6 2.4v-4.8z" fill="#111"/>
<text x="251.3" y="165.8" font-size="6.45" text-anchor="start" fill="#222" transform="rotate(-90 251.3 165.8)">IFN-γ producing cells (% of CD8<tspan font-size="4" dy="-2.2">+</tspan><tspan dy="2.2"> cells)</tspan></text>
<text x="355.8" y="226.7" font-size="6.85" text-anchor="start" fill="#111">Time after BMT (days)</text>
<line x1="283.5" y1="25" x2="283.5" y2="100.80000000000001" stroke="#666" stroke-width="0.8"/>
<line x1="283.1" y1="100.4" x2="365" y2="100.4" stroke="#555" stroke-width="0.9"/>
<line x1="285.0" y1="37.7" x2="365" y2="37.7" stroke="#cfcfcf" stroke-width="0.9" stroke-dasharray="9.5 3.8"/>
<line x1="282.3" y1="37.7" x2="283.5" y2="37.7" stroke="#666" stroke-width="0.7"/>
<line x1="285.0" y1="69.10000000000001" x2="365" y2="69.10000000000001" stroke="#cfcfcf" stroke-width="0.9" stroke-dasharray="9.5 3.8"/>
<line x1="282.3" y1="69.10000000000001" x2="283.5" y2="69.10000000000001" stroke="#666" stroke-width="0.7"/>
<line x1="299.7" y1="100.4" x2="299.7" y2="101.60000000000001" stroke="#666" stroke-width="0.7"/>
<line x1="315.9" y1="100.4" x2="315.9" y2="101.60000000000001" stroke="#666" stroke-width="0.7"/>
<line x1="332.1" y1="100.4" x2="332.1" y2="101.60000000000001" stroke="#666" stroke-width="0.7"/>
<line x1="348.3" y1="100.4" x2="348.3" y2="101.60000000000001" stroke="#666" stroke-width="0.7"/>
<line x1="364.5" y1="100.4" x2="364.5" y2="101.60000000000001" stroke="#666" stroke-width="0.7"/>
<text x="279.3" y="39.300000000000004" font-size="4.5" text-anchor="end" fill="#111">10</text>
<text x="279.3" y="70.7" font-size="4.5" text-anchor="end" fill="#111">5</text>
<text x="279.3" y="102.0" font-size="4.5" text-anchor="end" fill="#111">0</text>
<circle cx="312.7" cy="81.6" r="2" fill="none" stroke="#444" stroke-width="0.7"/>
<circle cx="312.7" cy="88.2" r="2" fill="none" stroke="#444" stroke-width="0.7"/>
<circle cx="312.7" cy="91.6" r="2" fill="none" stroke="#444" stroke-width="0.7"/>
<circle cx="312.7" cy="96.3" r="2" fill="none" stroke="#444" stroke-width="0.7"/>
<circle cx="312.7" cy="100.4" r="2" fill="none" stroke="#444" stroke-width="0.7"/>
<line x1="309.7" y1="91.6" x2="315.7" y2="91.6" stroke="#000" stroke-width="1.6"/>
<circle cx="325.6" cy="92.9" r="2" fill="none" stroke="#444" stroke-width="0.7"/>
<circle cx="325.6" cy="94.1" r="2" fill="none" stroke="#444" stroke-width="0.7"/>
<circle cx="325.6" cy="95.4" r="2" fill="none" stroke="#444" stroke-width="0.7"/>
<circle cx="325.6" cy="96.6" r="2" fill="none" stroke="#444" stroke-width="0.7"/>
<circle cx="325.6" cy="97.3" r="2" fill="none" stroke="#444" stroke-width="0.7"/>
<line x1="322.6" y1="95.4" x2="328.6" y2="95.4" stroke="#000" stroke-width="1.6"/>
<circle cx="335.3" cy="75.4" r="2" fill="none" stroke="#444" stroke-width="0.7"/>
<circle cx="335.3" cy="87.9" r="2" fill="none" stroke="#444" stroke-width="0.7"/>
<circle cx="335.3" cy="89.8" r="2" fill="none" stroke="#444" stroke-width="0.7"/>
<circle cx="335.3" cy="91.0" r="2" fill="none" stroke="#444" stroke-width="0.7"/>
<circle cx="335.3" cy="94.1" r="2" fill="none" stroke="#444" stroke-width="0.7"/>
<circle cx="335.3" cy="96.0" r="2" fill="none" stroke="#444" stroke-width="0.7"/>
<circle cx="335.3" cy="97.9" r="2" fill="none" stroke="#444" stroke-width="0.7"/>
<line x1="332.3" y1="89.8" x2="338.3" y2="89.8" stroke="#000" stroke-width="1.6"/>
<circle cx="345.1" cy="90.4" r="2" fill="none" stroke="#444" stroke-width="0.7"/>
<circle cx="345.1" cy="91.6" r="2" fill="none" stroke="#444" stroke-width="0.7"/>
<circle cx="345.1" cy="92.9" r="2" fill="none" stroke="#444" stroke-width="0.7"/>
<circle cx="345.1" cy="94.1" r="2" fill="none" stroke="#444" stroke-width="0.7"/>
<circle cx="345.1" cy="97.3" r="2" fill="none" stroke="#444" stroke-width="0.7"/>
<circle cx="345.1" cy="99.1" r="2" fill="none" stroke="#444" stroke-width="0.7"/>
<circle cx="345.1" cy="100.4" r="2" fill="none" stroke="#444" stroke-width="0.7"/>
<line x1="342.1" y1="94.1" x2="348.1" y2="94.1" stroke="#000" stroke-width="1.6"/>
<circle cx="358.0" cy="92.3" r="2" fill="none" stroke="#444" stroke-width="0.7"/>
<circle cx="358.0" cy="94.1" r="2" fill="none" stroke="#444" stroke-width="0.7"/>
<circle cx="358.0" cy="95.4" r="2" fill="none" stroke="#444" stroke-width="0.7"/>
<circle cx="358.0" cy="96.6" r="2" fill="none" stroke="#444" stroke-width="0.7"/>
<circle cx="358.0" cy="97.9" r="2" fill="none" stroke="#444" stroke-width="0.7"/>
<circle cx="358.0" cy="98.5" r="2" fill="none" stroke="#444" stroke-width="0.7"/>
<line x1="355.0" y1="96.3" x2="361.0" y2="96.3" stroke="#000" stroke-width="1.6"/>
<line x1="402.7" y1="25" x2="402.7" y2="100.80000000000001" stroke="#666" stroke-width="0.8"/>
<line x1="402.3" y1="100.4" x2="484" y2="100.4" stroke="#555" stroke-width="0.9"/>
<line x1="404.2" y1="37.7" x2="484" y2="37.7" stroke="#cfcfcf" stroke-width="0.9" stroke-dasharray="9.5 3.8"/>
<line x1="401.5" y1="37.7" x2="402.7" y2="37.7" stroke="#666" stroke-width="0.7"/>
<line x1="404.2" y1="69.10000000000001" x2="484" y2="69.10000000000001" stroke="#cfcfcf" stroke-width="0.9" stroke-dasharray="9.5 3.8"/>
<line x1="401.5" y1="69.10000000000001" x2="402.7" y2="69.10000000000001" stroke="#666" stroke-width="0.7"/>
<line x1="418.9" y1="100.4" x2="418.9" y2="101.60000000000001" stroke="#666" stroke-width="0.7"/>
<line x1="435.1" y1="100.4" x2="435.1" y2="101.60000000000001" stroke="#666" stroke-width="0.7"/>
<line x1="451.3" y1="100.4" x2="451.3" y2="101.60000000000001" stroke="#666" stroke-width="0.7"/>
<line x1="467.5" y1="100.4" x2="467.5" y2="101.60000000000001" stroke="#666" stroke-width="0.7"/>
<line x1="483.7" y1="100.4" x2="483.7" y2="101.60000000000001" stroke="#666" stroke-width="0.7"/>
<text x="398.5" y="39.300000000000004" font-size="4.5" text-anchor="end" fill="#111">10</text>
<text x="398.5" y="70.7" font-size="4.5" text-anchor="end" fill="#111">5</text>
<text x="398.5" y="102.0" font-size="4.5" text-anchor="end" fill="#111">0</text>
<circle cx="431.9" cy="50.9" r="2" fill="none" stroke="#444" stroke-width="0.7"/>
<circle cx="431.9" cy="56.6" r="2" fill="none" stroke="#444" stroke-width="0.7"/>
<circle cx="431.9" cy="61.6" r="2" fill="none" stroke="#444" stroke-width="0.7"/>
<circle cx="431.9" cy="70.4" r="2" fill="none" stroke="#444" stroke-width="0.7"/>
<circle cx="431.9" cy="74.1" r="2" fill="none" stroke="#444" stroke-width="0.7"/>
<circle cx="431.9" cy="76.0" r="2" fill="none" stroke="#444" stroke-width="0.7"/>
<circle cx="431.9" cy="78.5" r="2" fill="none" stroke="#444" stroke-width="0.7"/>
<line x1="428.9" y1="67.2" x2="434.9" y2="67.2" stroke="#000" stroke-width="1.6"/>
<circle cx="444.8" cy="42.2" r="2" fill="none" stroke="#444" stroke-width="0.7"/>
<circle cx="444.8" cy="48.4" r="2" fill="none" stroke="#444" stroke-width="0.7"/>
<circle cx="444.8" cy="50.9" r="2" fill="none" stroke="#444" stroke-width="0.7"/>
<circle cx="444.8" cy="69.7" r="2" fill="none" stroke="#444" stroke-width="0.7"/>
<circle cx="444.8" cy="91.0" r="2" fill="none" stroke="#444" stroke-width="0.7"/>
<circle cx="444.8" cy="91.3" r="2" fill="none" stroke="#444" stroke-width="0.7"/>
<line x1="441.8" y1="63.5" x2="447.8" y2="63.5" stroke="#000" stroke-width="1.6"/>
<circle cx="454.5" cy="39.1" r="2" fill="none" stroke="#444" stroke-width="0.7"/>
<circle cx="454.5" cy="52.2" r="2" fill="none" stroke="#444" stroke-width="0.7"/>
<circle cx="454.5" cy="54.4" r="2" fill="none" stroke="#444" stroke-width="0.7"/>
<circle cx="454.5" cy="57.8" r="2" fill="none" stroke="#444" stroke-width="0.7"/>
<circle cx="454.5" cy="62.2" r="2" fill="none" stroke="#444" stroke-width="0.7"/>
<circle cx="454.5" cy="78.5" r="2" fill="none" stroke="#444" stroke-width="0.7"/>
<circle cx="454.5" cy="86.6" r="2" fill="none" stroke="#444" stroke-width="0.7"/>
<line x1="451.5" y1="61.6" x2="457.5" y2="61.6" stroke="#000" stroke-width="1.6"/>
<circle cx="464.3" cy="56.0" r="2" fill="none" stroke="#444" stroke-width="0.7"/>
<circle cx="464.3" cy="59.1" r="2" fill="none" stroke="#444" stroke-width="0.7"/>
<circle cx="464.3" cy="68.5" r="2" fill="none" stroke="#444" stroke-width="0.7"/>
<circle cx="464.3" cy="74.7" r="2" fill="none" stroke="#444" stroke-width="0.7"/>
<circle cx="464.3" cy="76.0" r="2" fill="none" stroke="#444" stroke-width="0.7"/>
<circle cx="464.3" cy="77.9" r="2" fill="none" stroke="#444" stroke-width="0.7"/>
<circle cx="464.3" cy="86.6" r="2" fill="none" stroke="#444" stroke-width="0.7"/>
<line x1="461.3" y1="71.6" x2="467.3" y2="71.6" stroke="#000" stroke-width="1.6"/>
<circle cx="477.2" cy="56.0" r="2" fill="none" stroke="#444" stroke-width="0.7"/>
<circle cx="477.2" cy="66.0" r="2" fill="none" stroke="#444" stroke-width="0.7"/>
<circle cx="477.2" cy="70.4" r="2" fill="none" stroke="#444" stroke-width="0.7"/>
<circle cx="477.2" cy="81.6" r="2" fill="none" stroke="#444" stroke-width="0.7"/>
<circle cx="477.2" cy="86.3" r="2" fill="none" stroke="#444" stroke-width="0.7"/>
<circle cx="477.2" cy="95.1" r="2" fill="none" stroke="#444" stroke-width="0.7"/>
<circle cx="477.2" cy="96.6" r="2" fill="none" stroke="#444" stroke-width="0.7"/>
<circle cx="477.2" cy="97.9" r="2" fill="none" stroke="#444" stroke-width="0.7"/>
<line x1="474.2" y1="79.1" x2="480.2" y2="79.1" stroke="#000" stroke-width="1.6"/>
<line x1="283.5" y1="123.1" x2="283.5" y2="198.8" stroke="#666" stroke-width="0.8"/>
<line x1="283.1" y1="198.4" x2="368.5" y2="198.4" stroke="#555" stroke-width="0.9"/>
<line x1="285.0" y1="135.7" x2="368.5" y2="135.7" stroke="#cfcfcf" stroke-width="0.9" stroke-dasharray="9.5 3.8"/>
<line x1="282.3" y1="135.7" x2="283.5" y2="135.7" stroke="#666" stroke-width="0.7"/>
<line x1="285.0" y1="167.1" x2="368.5" y2="167.1" stroke="#cfcfcf" stroke-width="0.9" stroke-dasharray="9.5 3.8"/>
<line x1="282.3" y1="167.1" x2="283.5" y2="167.1" stroke="#666" stroke-width="0.7"/>
<line x1="300.45" y1="198.4" x2="300.45" y2="199.6" stroke="#666" stroke-width="0.7"/>
<line x1="317.4" y1="198.4" x2="317.4" y2="199.6" stroke="#666" stroke-width="0.7"/>
<line x1="334.35" y1="198.4" x2="334.35" y2="199.6" stroke="#666" stroke-width="0.7"/>
<line x1="351.3" y1="198.4" x2="351.3" y2="199.6" stroke="#666" stroke-width="0.7"/>
<line x1="368.25" y1="198.4" x2="368.25" y2="199.6" stroke="#666" stroke-width="0.7"/>
<text x="279.3" y="137.29999999999998" font-size="4.5" text-anchor="end" fill="#111">10</text>
<text x="279.3" y="168.7" font-size="4.5" text-anchor="end" fill="#111">5</text>
<text x="279.3" y="200.0" font-size="4.5" text-anchor="end" fill="#111">0</text>
<text x="283.5" y="206.5" font-size="4.5" text-anchor="middle" fill="#111">0</text>
<text x="300.4" y="206.5" font-size="4.5" text-anchor="middle" fill="#111">5</text>
<text x="317.4" y="206.5" font-size="4.5" text-anchor="middle" fill="#111">10</text>
<text x="334.4" y="206.5" font-size="4.5" text-anchor="middle" fill="#111">15</text>
<text x="351.3" y="206.5" font-size="4.5" text-anchor="middle" fill="#111">20</text>
<text x="368.2" y="206.5" font-size="4.5" text-anchor="middle" fill="#111">25</text>
<path d="M314.0 181.3l2.2 2.4l-2.2 2.4l-2.2-2.4z" fill="none" stroke="#333" stroke-width="0.7"/>
<path d="M314.0 186.6l2.2 2.4l-2.2 2.4l-2.2-2.4z" fill="none" stroke="#333" stroke-width="0.7"/>
<path d="M314.0 190.4l2.2 2.4l-2.2 2.4l-2.2-2.4z" fill="none" stroke="#333" stroke-width="0.7"/>
<path d="M314.0 196.0l2.2 2.4l-2.2 2.4l-2.2-2.4z" fill="none" stroke="#333" stroke-width="0.7"/>
<line x1="311.0" y1="194.3" x2="317.0" y2="194.3" stroke="#000" stroke-width="1.6"/>
<path d="M327.6 187.9l2.2 2.4l-2.2 2.4l-2.2-2.4z" fill="none" stroke="#333" stroke-width="0.7"/>
<path d="M327.6 190.4l2.2 2.4l-2.2 2.4l-2.2-2.4z" fill="none" stroke="#333" stroke-width="0.7"/>
<path d="M327.6 192.2l2.2 2.4l-2.2 2.4l-2.2-2.4z" fill="none" stroke="#333" stroke-width="0.7"/>
<path d="M327.6 193.5l2.2 2.4l-2.2 2.4l-2.2-2.4z" fill="none" stroke="#333" stroke-width="0.7"/>
<path d="M327.6 195.1l2.2 2.4l-2.2 2.4l-2.2-2.4z" fill="none" stroke="#333" stroke-width="0.7"/>
<line x1="324.6" y1="194.3" x2="330.6" y2="194.3" stroke="#000" stroke-width="1.6"/>
<path d="M337.7 183.8l2.2 2.4l-2.2 2.4l-2.2-2.4z" fill="none" stroke="#333" stroke-width="0.7"/>
<path d="M337.7 185.0l2.2 2.4l-2.2 2.4l-2.2-2.4z" fill="none" stroke="#333" stroke-width="0.7"/>
<path d="M337.7 189.4l2.2 2.4l-2.2 2.4l-2.2-2.4z" fill="none" stroke="#333" stroke-width="0.7"/>
<path d="M337.7 192.9l2.2 2.4l-2.2 2.4l-2.2-2.4z" fill="none" stroke="#333" stroke-width="0.7"/>
<line x1="334.7" y1="189.6" x2="340.7" y2="189.6" stroke="#000" stroke-width="1.6"/>
<path d="M347.9 181.6l2.2 2.4l-2.2 2.4l-2.2-2.4z" fill="none" stroke="#333" stroke-width="0.7"/>
<path d="M347.9 185.0l2.2 2.4l-2.2 2.4l-2.2-2.4z" fill="none" stroke="#333" stroke-width="0.7"/>
<path d="M347.9 189.4l2.2 2.4l-2.2 2.4l-2.2-2.4z" fill="none" stroke="#333" stroke-width="0.7"/>
<path d="M347.9 190.4l2.2 2.4l-2.2 2.4l-2.2-2.4z" fill="none" stroke="#333" stroke-width="0.7"/>
<path d="M347.9 194.4l2.2 2.4l-2.2 2.4l-2.2-2.4z" fill="none" stroke="#333" stroke-width="0.7"/>
<line x1="344.9" y1="192.1" x2="350.9" y2="192.1" stroke="#000" stroke-width="1.6"/>
<path d="M361.5 190.4l2.2 2.4l-2.2 2.4l-2.2-2.4z" fill="none" stroke="#333" stroke-width="0.7"/>
<path d="M361.5 191.9l2.2 2.4l-2.2 2.4l-2.2-2.4z" fill="none" stroke="#333" stroke-width="0.7"/>
<path d="M361.5 193.5l2.2 2.4l-2.2 2.4l-2.2-2.4z" fill="none" stroke="#333" stroke-width="0.7"/>
<path d="M361.5 195.1l2.2 2.4l-2.2 2.4l-2.2-2.4z" fill="none" stroke="#333" stroke-width="0.7"/>
<line x1="358.5" y1="195.9" x2="364.5" y2="195.9" stroke="#000" stroke-width="1.6"/>
<line x1="402.7" y1="123.1" x2="402.7" y2="198.8" stroke="#666" stroke-width="0.8"/>
<line x1="402.3" y1="198.4" x2="487.7" y2="198.4" stroke="#555" stroke-width="0.9"/>
<line x1="404.2" y1="135.7" x2="487.7" y2="135.7" stroke="#cfcfcf" stroke-width="0.9" stroke-dasharray="9.5 3.8"/>
<line x1="401.5" y1="135.7" x2="402.7" y2="135.7" stroke="#666" stroke-width="0.7"/>
<line x1="404.2" y1="167.1" x2="487.7" y2="167.1" stroke="#cfcfcf" stroke-width="0.9" stroke-dasharray="9.5 3.8"/>
<line x1="401.5" y1="167.1" x2="402.7" y2="167.1" stroke="#666" stroke-width="0.7"/>
<line x1="419.65" y1="198.4" x2="419.65" y2="199.6" stroke="#666" stroke-width="0.7"/>
<line x1="436.59999999999997" y1="198.4" x2="436.59999999999997" y2="199.6" stroke="#666" stroke-width="0.7"/>
<line x1="453.55" y1="198.4" x2="453.55" y2="199.6" stroke="#666" stroke-width="0.7"/>
<line x1="470.5" y1="198.4" x2="470.5" y2="199.6" stroke="#666" stroke-width="0.7"/>
<line x1="487.45" y1="198.4" x2="487.45" y2="199.6" stroke="#666" stroke-width="0.7"/>
<text x="398.5" y="137.29999999999998" font-size="4.5" text-anchor="end" fill="#111">10</text>
<text x="398.5" y="168.7" font-size="4.5" text-anchor="end" fill="#111">5</text>
<text x="398.5" y="200.0" font-size="4.5" text-anchor="end" fill="#111">0</text>
<text x="402.7" y="206.5" font-size="4.5" text-anchor="middle" fill="#111">0</text>
<text x="419.6" y="206.5" font-size="4.5" text-anchor="middle" fill="#111">5</text>
<text x="436.6" y="206.5" font-size="4.5" text-anchor="middle" fill="#111">10</text>
<text x="453.6" y="206.5" font-size="4.5" text-anchor="middle" fill="#111">15</text>
<text x="470.5" y="206.5" font-size="4.5" text-anchor="middle" fill="#111">20</text>
<text x="487.4" y="206.5" font-size="4.5" text-anchor="middle" fill="#111">25</text>
<path d="M433.2 185.7l2.2 2.4l-2.2 2.4l-2.2-2.4z" fill="none" stroke="#333" stroke-width="0.7"/>
<path d="M433.2 186.0l2.2 2.4l-2.2 2.4l-2.2-2.4z" fill="none" stroke="#333" stroke-width="0.7"/>
<path d="M433.2 191.0l2.2 2.4l-2.2 2.4l-2.2-2.4z" fill="none" stroke="#333" stroke-width="0.7"/>
<path d="M433.2 193.8l2.2 2.4l-2.2 2.4l-2.2-2.4z" fill="none" stroke="#333" stroke-width="0.7"/>
<path d="M433.2 196.0l2.2 2.4l-2.2 2.4l-2.2-2.4z" fill="none" stroke="#333" stroke-width="0.7"/>
<line x1="430.2" y1="193.1" x2="436.2" y2="193.1" stroke="#000" stroke-width="1.6"/>
<path d="M446.8 181.0l2.2 2.4l-2.2 2.4l-2.2-2.4z" fill="none" stroke="#333" stroke-width="0.7"/>
<path d="M446.8 184.7l2.2 2.4l-2.2 2.4l-2.2-2.4z" fill="none" stroke="#333" stroke-width="0.7"/>
<path d="M446.8 187.9l2.2 2.4l-2.2 2.4l-2.2-2.4z" fill="none" stroke="#333" stroke-width="0.7"/>
<path d="M446.8 193.8l2.2 2.4l-2.2 2.4l-2.2-2.4z" fill="none" stroke="#333" stroke-width="0.7"/>
<path d="M446.8 194.1l2.2 2.4l-2.2 2.4l-2.2-2.4z" fill="none" stroke="#333" stroke-width="0.7"/>
<line x1="443.8" y1="193.1" x2="449.8" y2="193.1" stroke="#000" stroke-width="1.6"/>
<path d="M456.9 189.7l2.2 2.4l-2.2 2.4l-2.2-2.4z" fill="none" stroke="#333" stroke-width="0.7"/>
<path d="M456.9 190.1l2.2 2.4l-2.2 2.4l-2.2-2.4z" fill="none" stroke="#333" stroke-width="0.7"/>
<path d="M456.9 190.4l2.2 2.4l-2.2 2.4l-2.2-2.4z" fill="none" stroke="#333" stroke-width="0.7"/>
<path d="M456.9 193.8l2.2 2.4l-2.2 2.4l-2.2-2.4z" fill="none" stroke="#333" stroke-width="0.7"/>
<line x1="453.9" y1="193.7" x2="459.9" y2="193.7" stroke="#000" stroke-width="1.6"/>
<path d="M467.1 185.7l2.2 2.4l-2.2 2.4l-2.2-2.4z" fill="none" stroke="#333" stroke-width="0.7"/>
<path d="M467.1 189.1l2.2 2.4l-2.2 2.4l-2.2-2.4z" fill="none" stroke="#333" stroke-width="0.7"/>
<path d="M467.1 189.4l2.2 2.4l-2.2 2.4l-2.2-2.4z" fill="none" stroke="#333" stroke-width="0.7"/>
<path d="M467.1 191.6l2.2 2.4l-2.2 2.4l-2.2-2.4z" fill="none" stroke="#333" stroke-width="0.7"/>
<line x1="464.1" y1="191.5" x2="470.1" y2="191.5" stroke="#000" stroke-width="1.6"/>
<path d="M480.7 189.4l2.2 2.4l-2.2 2.4l-2.2-2.4z" fill="none" stroke="#333" stroke-width="0.7"/>
<path d="M480.7 192.2l2.2 2.4l-2.2 2.4l-2.2-2.4z" fill="none" stroke="#333" stroke-width="0.7"/>
<path d="M480.7 192.6l2.2 2.4l-2.2 2.4l-2.2-2.4z" fill="none" stroke="#333" stroke-width="0.7"/>
<path d="M480.7 194.4l2.2 2.4l-2.2 2.4l-2.2-2.4z" fill="none" stroke="#333" stroke-width="0.7"/>
<path d="M480.7 196.0l2.2 2.4l-2.2 2.4l-2.2-2.4z" fill="none" stroke="#333" stroke-width="0.7"/>
<line x1="477.7" y1="195.0" x2="483.7" y2="195.0" stroke="#000" stroke-width="1.6"/>
<text x="1.5" y="152.5" font-size="13.4" text-anchor="start" font-weight="bold" fill="#000">C</text>
<line x1="31.25" y1="155.6" x2="31.25" y2="294.6" stroke="#bbb" stroke-width="0.8"/>
<line x1="31.25" y1="294.6" x2="220" y2="294.6" stroke="#bbb" stroke-width="0.8"/>
<line x1="29.05" y1="294.6" x2="31.25" y2="294.6" stroke="#aaa" stroke-width="0.8"/>
<text x="26.3" y="297.1" font-size="7" text-anchor="end" fill="#111">0</text>
<line x1="29.05" y1="266.85" x2="31.25" y2="266.85" stroke="#aaa" stroke-width="0.8"/>
<text x="26.3" y="269.35" font-size="7" text-anchor="end" fill="#111">20</text>
<line x1="29.05" y1="239.10000000000002" x2="31.25" y2="239.10000000000002" stroke="#aaa" stroke-width="0.8"/>
<text x="26.3" y="241.60000000000002" font-size="7" text-anchor="end" fill="#111">40</text>
<line x1="29.05" y1="211.35000000000002" x2="31.25" y2="211.35000000000002" stroke="#aaa" stroke-width="0.8"/>
<text x="26.3" y="213.85000000000002" font-size="7" text-anchor="end" fill="#111">60</text>
<line x1="29.05" y1="183.60000000000002" x2="31.25" y2="183.60000000000002" stroke="#aaa" stroke-width="0.8"/>
<text x="26.3" y="186.10000000000002" font-size="7" text-anchor="end" fill="#111">80</text>
<line x1="29.05" y1="155.85000000000002" x2="31.25" y2="155.85000000000002" stroke="#aaa" stroke-width="0.8"/>
<text x="26.3" y="158.35000000000002" font-size="7" text-anchor="end" fill="#111">100</text>
<line x1="69.0" y1="294.6" x2="69.0" y2="296.40000000000003" stroke="#aaa" stroke-width="0.8"/>
<line x1="106.75" y1="294.6" x2="106.75" y2="296.40000000000003" stroke="#aaa" stroke-width="0.8"/>
<line x1="144.5" y1="294.6" x2="144.5" y2="296.40000000000003" stroke="#aaa" stroke-width="0.8"/>
<line x1="182.25" y1="294.6" x2="182.25" y2="296.40000000000003" stroke="#aaa" stroke-width="0.8"/>
<line x1="220.0" y1="294.6" x2="220.0" y2="296.40000000000003" stroke="#aaa" stroke-width="0.8"/>
<text x="7.6" y="239.4" font-size="6.9" text-anchor="start" fill="#111" transform="rotate(-90 7.6 239.4)">Mice (%)</text>
<rect x="39.23" y="216.90" width="11.00" height="77.70" fill="#000" stroke="none" stroke-width="1"/>
<rect x="50.52" y="215.91" width="10.30" height="78.69" fill="#fff" stroke="#222" stroke-width="0.8"/>
<rect x="76.97" y="233.55" width="11.00" height="61.05" fill="#000" stroke="none" stroke-width="1"/>
<rect x="88.27" y="215.91" width="10.30" height="78.69" fill="#fff" stroke="#222" stroke-width="0.8"/>
<rect x="114.72" y="248.81" width="11.00" height="45.79" fill="#000" stroke="none" stroke-width="1"/>
<rect x="126.02" y="235.34" width="10.30" height="59.26" fill="#fff" stroke="#222" stroke-width="0.8"/>
<rect x="190.22" y="279.34" width="11.00" height="15.26" fill="#000" stroke="none" stroke-width="1"/>
<text x="50.2" y="304.4" font-size="5.6" text-anchor="middle" fill="#333">Weight Loss</text>
<text x="88.0" y="304.4" font-size="5.6" text-anchor="middle" fill="#333">Diarrhea</text>
<text x="125.7" y="304.4" font-size="5.6" text-anchor="middle" fill="#333">Hunched</text>
<text x="125.7" y="311.2" font-size="5.6" text-anchor="middle" fill="#333">Posture</text>
<text x="163.5" y="304.4" font-size="5.6" text-anchor="middle" fill="#333">Cutaneous</text>
<text x="163.5" y="311.2" font-size="5.6" text-anchor="middle" fill="#333">GvHD</text>
<text x="201.2" y="304.4" font-size="5.6" text-anchor="middle" fill="#333">Ascites</text>
<rect x="132.70" y="172.30" width="4.60" height="4.60" fill="#000" stroke="none" stroke-width="1"/>
<text x="139.2" y="176.7" font-size="6.8" text-anchor="start" fill="#111">H4/H60 specific T-cell</text>
<text x="139.2" y="185.3" font-size="6.8" text-anchor="start" fill="#111">depletion</text>
<rect x="133.10" y="192.20" width="4.00" height="4.00" fill="#fff" stroke="#222" stroke-width="0.8"/>
<text x="139.2" y="196.4" font-size="6.8" text-anchor="start" fill="#111">Mock T-cell depletion</text>
<text x="244.6" y="245.8" font-size="13.4" text-anchor="start" font-weight="bold" fill="#000">D</text>
<line x1="278.0" y1="240" x2="278.0" y2="373.2" stroke="#bbb" stroke-width="0.9"/>
<line x1="278.0" y1="373.2" x2="469.8" y2="373.2" stroke="#bbb" stroke-width="0.9"/>
<line x1="276.0" y1="373.2" x2="278.0" y2="373.2" stroke="#bbb" stroke-width="0.8"/>
<text x="272.9" y="375.7" font-size="6.3" text-anchor="end" fill="#111">0</text>
<line x1="276.0" y1="346.56" x2="278.0" y2="346.56" stroke="#bbb" stroke-width="0.8"/>
<text x="272.9" y="349.06" font-size="6.3" text-anchor="end" fill="#111">20</text>
<line x1="276.0" y1="319.91999999999996" x2="278.0" y2="319.91999999999996" stroke="#bbb" stroke-width="0.8"/>
<text x="272.9" y="322.41999999999996" font-size="6.3" text-anchor="end" fill="#111">40</text>
<line x1="276.0" y1="293.28" x2="278.0" y2="293.28" stroke="#bbb" stroke-width="0.8"/>
<text x="272.9" y="295.78" font-size="6.3" text-anchor="end" fill="#111">60</text>
<line x1="276.0" y1="266.64" x2="278.0" y2="266.64" stroke="#bbb" stroke-width="0.8"/>
<text x="272.9" y="269.14" font-size="6.3" text-anchor="end" fill="#111">80</text>
<line x1="276.0" y1="239.99999999999997" x2="278.0" y2="239.99999999999997" stroke="#bbb" stroke-width="0.8"/>
<text x="272.9" y="242.49999999999997" font-size="6.3" text-anchor="end" fill="#111">100</text>
<line x1="278.0" y1="373.2" x2="278.0" y2="375.2" stroke="#bbb" stroke-width="0.8"/>
<text x="278.0" y="385" font-size="6.8" text-anchor="middle" fill="#111">0</text>
<line x1="305.4" y1="373.2" x2="305.4" y2="375.2" stroke="#bbb" stroke-width="0.8"/>
<text x="305.4" y="385" font-size="6.8" text-anchor="middle" fill="#111">10</text>
<line x1="332.8" y1="373.2" x2="332.8" y2="375.2" stroke="#bbb" stroke-width="0.8"/>
<text x="332.8" y="385" font-size="6.8" text-anchor="middle" fill="#111">20</text>
<line x1="360.2" y1="373.2" x2="360.2" y2="375.2" stroke="#bbb" stroke-width="0.8"/>
<text x="360.2" y="385" font-size="6.8" text-anchor="middle" fill="#111">30</text>
<line x1="387.6" y1="373.2" x2="387.6" y2="375.2" stroke="#bbb" stroke-width="0.8"/>
<text x="387.6" y="385" font-size="6.8" text-anchor="middle" fill="#111">40</text>
<line x1="415.0" y1="373.2" x2="415.0" y2="375.2" stroke="#bbb" stroke-width="0.8"/>
<text x="415.0" y="385" font-size="6.8" text-anchor="middle" fill="#111">50</text>
<line x1="442.4" y1="373.2" x2="442.4" y2="375.2" stroke="#bbb" stroke-width="0.8"/>
<text x="442.4" y="385" font-size="6.8" text-anchor="middle" fill="#111">60</text>
<line x1="469.8" y1="373.2" x2="469.8" y2="375.2" stroke="#bbb" stroke-width="0.8"/>
<text x="469.8" y="385" font-size="6.8" text-anchor="middle" fill="#111">70</text>
<text x="260.7" y="325" font-size="6.5" text-anchor="start" fill="#222" transform="rotate(-90 260.7 325)">Survival (%)</text>
<text x="337.6" y="394.2" font-size="6.9" text-anchor="start" fill="#111">Time after BMT (days)</text>
<polyline points="278.0,240.0 327.3,240.0 327.3,256.6 338.3,256.6 338.3,273.3 341.0,273.3 341.0,297.3 349.2,297.3 456.1,297.3" fill="none" stroke="#6a6a6a" stroke-width="1.4"/>
<polyline points="278.0,240.0 297.2,240.0 316.4,240.0 327.3,240.0 330.1,240.0 330.1,254.7 339.1,254.7 341.0,254.7 341.0,268.8 349.2,268.8 349.2,284.0 352.0,284.0 352.0,297.9 354.7,297.9 373.9,297.9 393.1,297.9 406.8,297.9 456.1,297.9" fill="none" stroke="#6a6a6a" stroke-width="1.4"/>
<rect x="323.92" y="254.05" width="5.20" height="5.20" fill="#fff" stroke="#333" stroke-width="0.8"/>
<rect x="335.68" y="254.05" width="5.20" height="5.20" fill="#fff" stroke="#333" stroke-width="0.8"/>
<rect x="335.68" y="270.70" width="5.20" height="5.20" fill="#fff" stroke="#333" stroke-width="0.8"/>
<rect x="338.42" y="270.70" width="5.20" height="5.20" fill="#fff" stroke="#333" stroke-width="0.8"/>
<rect x="338.42" y="294.68" width="5.20" height="5.20" fill="#fff" stroke="#333" stroke-width="0.8"/>
<rect x="346.64" y="294.68" width="5.20" height="5.20" fill="#fff" stroke="#333" stroke-width="0.8"/>
<rect x="275.00" y="237.00" width="6.00" height="6.00" fill="#000" stroke="none" stroke-width="1"/>
<rect x="294.18" y="237.00" width="6.00" height="6.00" fill="#000" stroke="none" stroke-width="1"/>
<rect x="313.36" y="237.00" width="6.00" height="6.00" fill="#000" stroke="none" stroke-width="1"/>
<rect x="324.32" y="237.00" width="6.00" height="6.00" fill="#000" stroke="none" stroke-width="1"/>
<rect x="327.06" y="237.00" width="6.00" height="6.00" fill="#000" stroke="none" stroke-width="1"/>
<rect x="327.06" y="251.65" width="6.00" height="6.00" fill="#000" stroke="none" stroke-width="1"/>
<rect x="336.10" y="251.65" width="6.00" height="6.00" fill="#000" stroke="none" stroke-width="1"/>
<rect x="338.02" y="251.65" width="6.00" height="6.00" fill="#000" stroke="none" stroke-width="1"/>
<rect x="338.02" y="265.77" width="6.00" height="6.00" fill="#000" stroke="none" stroke-width="1"/>
<rect x="346.24" y="265.77" width="6.00" height="6.00" fill="#000" stroke="none" stroke-width="1"/>
<rect x="346.24" y="280.96" width="6.00" height="6.00" fill="#000" stroke="none" stroke-width="1"/>
<rect x="348.98" y="280.96" width="6.00" height="6.00" fill="#000" stroke="none" stroke-width="1"/>
<rect x="348.98" y="294.94" width="6.00" height="6.00" fill="#000" stroke="none" stroke-width="1"/>
<rect x="351.72" y="294.94" width="6.00" height="6.00" fill="#000" stroke="none" stroke-width="1"/>
<rect x="370.90" y="294.94" width="6.00" height="6.00" fill="#000" stroke="none" stroke-width="1"/>
<rect x="390.08" y="294.94" width="6.00" height="6.00" fill="#000" stroke="none" stroke-width="1"/>
<rect x="403.78" y="294.94" width="6.00" height="6.00" fill="#000" stroke="none" stroke-width="1"/>
<rect x="453.10" y="294.94" width="6.00" height="6.00" fill="#000" stroke="none" stroke-width="1"/>
<line x1="288.2" y1="332" x2="301.3" y2="332" stroke="#444" stroke-width="1"/>
<rect x="292.60" y="329.50" width="5.00" height="5.00" fill="#fff" stroke="#333" stroke-width="0.8"/>
<text x="303.8" y="334.4" font-size="6.8" text-anchor="start" fill="#111">Mock T-cell</text>
<text x="303.8" y="342.9" font-size="6.8" text-anchor="start" fill="#111">depletion</text>
<line x1="288.2" y1="351.8" x2="301.3" y2="351.8" stroke="#444" stroke-width="1"/>
<rect x="292.30" y="349.00" width="5.60" height="5.60" fill="#000" stroke="none" stroke-width="1"/>
<text x="303.8" y="354.2" font-size="6.8" text-anchor="start" fill="#111">H4/H60 specific T-</text>
<text x="303.8" y="361.7" font-size="6.8" text-anchor="start" fill="#111">cell depletion</text>
<text x="145.2" y="408.2" font-size="13.4" text-anchor="start" font-weight="bold" fill="#000">E</text>
<line x1="170.5" y1="399.7" x2="170.5" y2="533.2" stroke="#bbb" stroke-width="0.9"/>
<line x1="170.5" y1="533.2" x2="350.6" y2="533.2" stroke="#bbb" stroke-width="0.9"/>
<line x1="168.5" y1="533.2" x2="170.5" y2="533.2" stroke="#bbb" stroke-width="0.8"/>
<text x="167" y="535.5" font-size="5.9" text-anchor="end" fill="#111">0</text>
<line x1="168.5" y1="506.50000000000006" x2="170.5" y2="506.50000000000006" stroke="#bbb" stroke-width="0.8"/>
<text x="167" y="508.80000000000007" font-size="5.9" text-anchor="end" fill="#111">20</text>
<line x1="168.5" y1="479.80000000000007" x2="170.5" y2="479.80000000000007" stroke="#bbb" stroke-width="0.8"/>
<text x="167" y="482.1000000000001" font-size="5.9" text-anchor="end" fill="#111">40</text>
<line x1="168.5" y1="453.1" x2="170.5" y2="453.1" stroke="#bbb" stroke-width="0.8"/>
<text x="167" y="455.40000000000003" font-size="5.9" text-anchor="end" fill="#111">60</text>
<line x1="168.5" y1="426.40000000000003" x2="170.5" y2="426.40000000000003" stroke="#bbb" stroke-width="0.8"/>
<text x="167" y="428.70000000000005" font-size="5.9" text-anchor="end" fill="#111">80</text>
<line x1="168.5" y1="399.70000000000005" x2="170.5" y2="399.70000000000005" stroke="#bbb" stroke-width="0.8"/>
<text x="167" y="402.00000000000006" font-size="5.9" text-anchor="end" fill="#111">100</text>
<line x1="230.5" y1="533.2" x2="230.5" y2="535.0" stroke="#bbb" stroke-width="0.8"/>
<line x1="290.5" y1="533.2" x2="290.5" y2="535.0" stroke="#bbb" stroke-width="0.8"/>
<line x1="350.5" y1="533.2" x2="350.5" y2="535.0" stroke="#bbb" stroke-width="0.8"/>
<text x="153.2" y="481.3" font-size="6.9" text-anchor="start" fill="#111" transform="rotate(-90 153.2 481.3)">Mice (%)</text>
<rect x="183.80" y="475.90" width="16.80" height="57.30" fill="#fff" stroke="#222" stroke-width="0.8"/>
<rect x="200.80" y="474.46" width="17.40" height="58.74" fill="#000" stroke="none" stroke-width="1"/>
<rect x="243.80" y="483.91" width="16.80" height="49.29" fill="#fff" stroke="#222" stroke-width="0.8"/>
<rect x="260.80" y="493.15" width="17.40" height="40.05" fill="#000" stroke="none" stroke-width="1"/>
<text x="200.8" y="545.3" font-size="6.5" text-anchor="middle" fill="#111">GI tract</text>
<text x="260.8" y="545.3" font-size="6.5" text-anchor="middle" fill="#111">Liver</text>
<text x="320.8" y="545.3" font-size="6.5" text-anchor="middle" fill="#111">Skin</text>
<rect x="246.60" y="415.80" width="4.20" height="4.20" fill="#fff" stroke="#222" stroke-width="0.8"/>
<text x="252.5" y="419.9" font-size="6.8" text-anchor="start" fill="#111">Mock T-cell depletion</text>
<rect x="246.20" y="435.00" width="4.80" height="4.80" fill="#000" stroke="none" stroke-width="1"/>
<text x="252.5" y="439.4" font-size="6.8" text-anchor="start" fill="#111">H4/H60 specific T-cell</text>
<text x="252.5" y="447.4" font-size="6.8" text-anchor="start" fill="#111">depletion</text>
</svg>
</body>
</html>
